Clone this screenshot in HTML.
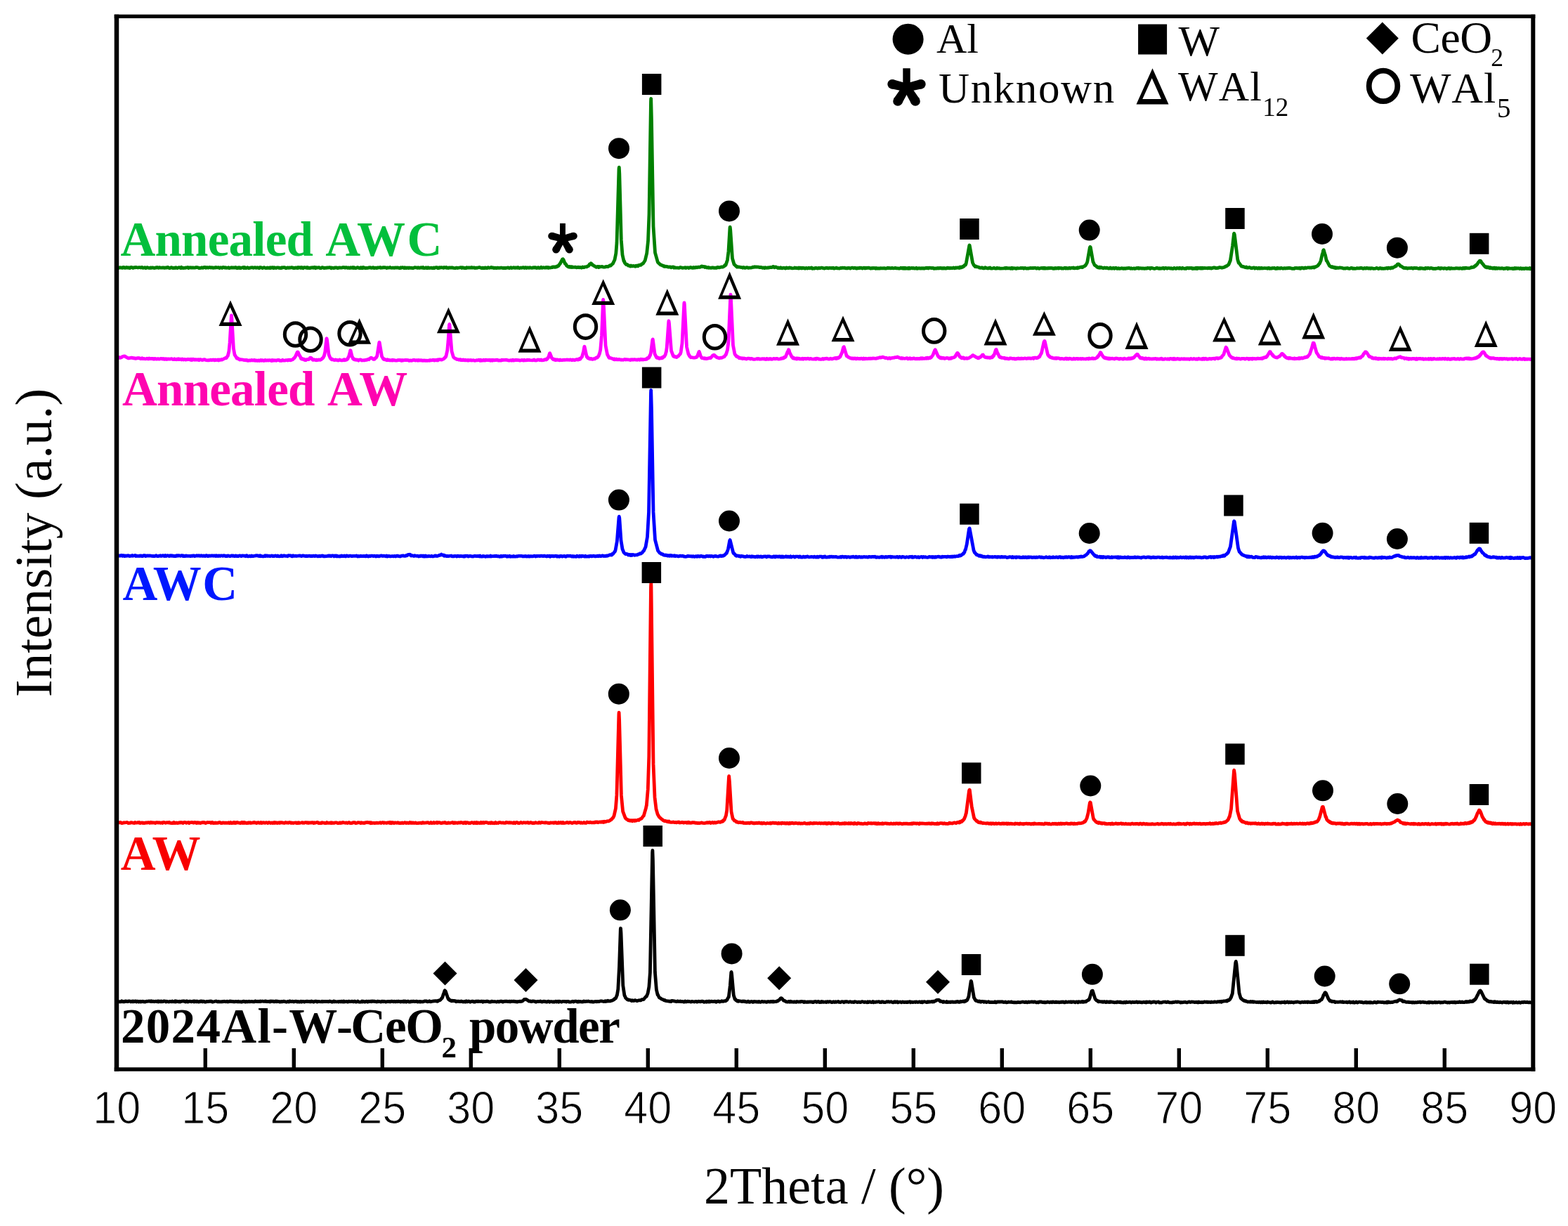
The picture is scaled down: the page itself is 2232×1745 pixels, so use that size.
<!DOCTYPE html>
<html><head><meta charset="utf-8"><title>XRD patterns</title>
<style>html,body{margin:0;padding:0;background:#fff;overflow:hidden;}svg{display:block;}text.nk{font-kerning:none;}</style>
</head><body>
<svg width="2232" height="1745" viewBox="0 0 2232 1745">
<rect width="2232" height="1745" fill="#fff"/>
<polyline fill="none" stroke="#008000" stroke-width="4.8" stroke-linejoin="round" points="167.3,380.6 168.3,381.4 169.3,381.3 170.3,380.7 171.3,381.0 172.3,380.9 174.3,381.3 175.3,380.5 176.3,380.4 177.3,381.4 178.3,380.9 179.3,381.3 180.3,380.4 182.3,381.3 183.3,380.7 184.3,381.5 185.3,381.5 186.3,380.4 187.3,380.4 189.3,381.5 190.3,380.9 191.3,380.7 192.3,380.9 193.3,380.4 196.3,381.0 197.3,380.7 199.3,380.7 200.3,381.0 202.3,380.4 203.3,381.4 204.3,381.1 205.3,381.2 206.3,380.6 207.3,381.6 208.3,381.4 209.3,380.6 211.3,381.3 212.3,381.3 213.3,381.5 214.3,380.9 215.3,381.4 217.3,380.8 219.3,381.5 220.3,381.4 221.3,381.0 222.3,381.1 223.3,380.5 224.3,380.7 225.3,381.4 227.3,380.6 228.3,381.1 230.3,381.2 231.3,380.9 233.3,381.0 234.3,381.4 236.3,380.9 237.3,381.0 238.3,380.5 239.3,380.5 240.3,381.3 241.3,381.6 244.3,380.6 246.3,381.6 248.3,381.1 249.3,381.5 250.3,380.7 252.3,381.6 253.3,381.1 255.3,380.7 257.3,381.6 258.3,380.4 259.3,381.4 261.3,381.5 262.3,381.3 263.3,381.4 264.3,381.0 266.3,380.9 267.3,380.5 268.3,381.5 270.3,380.7 271.3,381.0 274.3,380.8 277.3,381.2 278.3,381.0 279.3,380.5 280.3,380.7 281.3,380.6 283.3,381.5 286.3,381.4 287.3,380.7 288.3,381.4 289.3,381.2 290.3,380.5 292.3,380.5 293.3,381.3 294.3,380.7 295.3,380.6 296.3,381.2 298.3,380.5 299.3,380.6 300.3,381.1 301.3,380.6 302.3,380.8 303.3,381.3 305.3,380.8 306.3,381.0 307.3,380.5 308.3,380.9 309.3,380.9 311.3,380.6 312.3,381.5 314.3,380.7 316.3,381.4 317.3,380.5 319.3,380.6 320.3,381.3 321.3,380.6 322.3,381.3 324.3,381.1 325.3,380.7 326.3,381.6 329.3,380.7 330.3,381.2 331.3,380.9 332.3,381.1 333.3,380.8 334.3,381.2 335.3,380.5 336.3,380.8 337.3,381.6 338.3,381.5 339.3,380.8 340.3,381.5 341.3,380.8 342.3,381.6 346.3,380.5 347.3,381.5 348.3,380.5 349.3,381.4 350.3,381.6 352.3,380.7 353.3,381.5 354.3,381.6 357.3,380.9 359.3,380.7 360.3,381.3 363.3,380.6 364.3,381.3 365.3,380.8 366.3,381.1 367.3,380.8 368.3,381.5 369.3,381.5 370.3,380.5 372.3,380.9 373.3,381.6 374.3,381.4 375.3,380.9 376.3,380.7 377.3,381.3 379.3,381.6 380.3,380.9 381.3,381.5 383.3,381.0 384.3,381.6 385.3,380.7 386.3,381.3 387.3,380.6 388.3,380.7 389.3,381.6 390.3,380.7 391.3,381.4 392.3,381.2 393.3,381.5 394.3,380.9 396.3,380.8 397.3,381.5 398.3,381.2 399.3,381.6 400.3,381.5 401.3,380.6 402.3,381.1 403.3,380.6 405.3,380.6 406.3,381.5 408.3,381.5 409.3,380.9 411.3,381.4 412.3,380.9 413.3,381.2 415.3,380.6 416.3,380.8 417.3,381.5 418.3,381.1 419.3,381.6 420.3,381.0 421.3,380.8 422.3,381.4 423.3,381.5 424.3,380.5 425.3,381.3 426.3,380.6 427.3,380.6 428.3,381.5 429.3,380.5 430.3,380.8 431.3,381.7 432.3,381.0 433.3,380.6 435.3,380.8 436.3,381.4 437.3,380.6 438.3,381.6 439.3,380.9 440.3,381.6 441.3,381.6 442.3,380.8 443.3,380.8 444.3,381.1 445.3,380.6 446.3,381.3 447.3,380.5 448.3,380.5 449.3,381.7 450.3,380.8 451.3,381.2 454.3,380.6 455.3,381.6 457.3,381.6 458.3,380.6 459.3,380.7 461.3,381.7 462.3,381.1 464.3,381.3 465.3,380.8 466.3,381.1 469.3,380.6 470.3,380.8 471.3,381.7 472.3,381.0 473.3,381.3 474.3,381.3 475.3,381.6 476.3,381.0 479.3,380.9 480.3,381.5 481.3,381.6 482.3,380.9 486.3,381.2 488.3,380.5 489.3,380.8 490.3,380.6 491.3,381.2 492.3,380.6 493.3,380.6 494.3,381.3 495.3,380.8 496.3,381.4 497.3,381.1 498.3,381.5 499.3,380.7 501.3,381.4 502.3,380.6 503.3,381.6 504.3,380.7 505.3,381.4 506.3,381.7 507.3,381.5 508.3,380.9 509.3,380.6 511.3,381.6 512.3,381.6 513.3,380.8 514.3,381.6 515.3,380.7 516.3,381.6 517.3,380.5 518.3,380.9 519.3,381.6 520.3,381.5 524.3,381.3 525.3,380.7 526.3,381.0 527.3,380.7 528.3,381.4 529.3,381.3 530.3,380.8 531.3,380.6 532.3,381.7 534.3,381.2 535.3,381.2 536.3,381.5 537.3,381.0 540.3,380.8 541.3,380.5 542.3,381.3 543.3,381.0 544.3,381.2 545.3,380.6 546.3,380.9 547.3,380.7 549.3,380.8 550.3,381.5 551.3,381.0 552.3,381.0 553.3,381.2 555.3,380.5 556.3,381.1 558.3,381.3 559.3,381.0 560.3,381.3 561.3,381.4 562.3,380.8 563.3,381.1 564.3,381.1 565.3,380.8 567.3,381.2 568.3,381.6 569.3,381.6 570.3,380.8 571.3,381.3 572.3,380.6 573.3,380.6 575.3,381.6 576.3,380.7 577.3,381.4 578.3,381.6 579.3,380.9 580.3,381.3 581.3,381.5 582.3,381.0 583.3,381.4 585.3,381.2 586.3,381.5 588.3,381.7 590.3,380.7 592.3,380.8 594.3,381.4 595.3,380.6 596.3,381.3 597.3,381.4 598.3,380.9 599.3,381.1 600.3,380.7 601.3,381.4 602.3,380.6 603.3,381.7 605.3,381.3 606.3,380.8 607.3,381.6 608.3,381.7 609.3,380.7 610.3,381.4 611.3,381.5 612.3,381.3 613.3,381.4 614.3,381.1 615.3,381.6 616.3,381.7 617.3,381.0 618.3,381.5 620.3,380.7 621.3,380.9 622.3,380.7 623.3,381.6 624.3,381.7 625.3,380.7 626.3,381.2 628.3,380.7 629.3,380.9 630.3,380.8 631.3,381.4 632.3,380.5 634.3,381.0 635.3,380.5 636.3,381.3 637.3,381.2 638.3,381.5 639.3,380.8 641.3,381.2 642.3,380.9 643.3,381.2 644.3,380.8 645.3,381.3 648.3,381.7 649.3,381.2 650.3,381.1 651.3,381.5 656.3,380.7 657.3,381.5 658.3,380.7 659.3,381.4 660.3,381.2 661.3,381.7 662.3,381.4 663.3,381.7 664.3,380.7 665.3,381.1 666.3,381.2 667.3,380.9 668.3,381.1 669.3,381.0 670.3,381.2 671.3,380.5 672.3,381.1 674.3,380.9 675.3,381.0 676.3,381.5 678.3,381.1 679.3,381.3 682.3,380.5 685.3,381.6 686.3,381.5 687.3,381.1 688.3,381.7 689.3,381.1 690.3,381.5 691.3,381.0 693.3,381.7 694.3,380.9 695.3,380.7 696.3,381.3 698.3,381.0 699.3,380.5 700.3,381.0 702.3,381.0 703.3,381.6 704.3,381.2 706.3,381.6 708.3,381.1 709.3,381.4 712.3,381.3 713.3,381.0 714.3,381.3 715.3,381.3 716.3,381.6 717.3,381.4 720.3,381.5 723.3,380.8 724.3,381.4 725.3,381.6 727.3,380.7 728.3,381.5 729.3,381.1 730.3,381.1 731.3,380.6 732.3,381.1 733.3,381.4 734.3,381.0 735.3,380.9 736.3,381.3 737.3,380.5 739.3,381.6 741.3,381.0 742.3,381.3 743.3,381.2 744.3,380.7 745.3,380.7 746.3,381.5 747.3,380.8 748.3,380.6 749.3,381.5 751.3,380.9 753.3,381.3 754.3,380.7 755.3,381.2 757.3,381.4 758.3,380.8 759.3,381.2 760.3,380.7 761.3,381.1 762.3,380.6 763.3,381.4 764.3,381.5 765.3,380.8 766.3,380.7 767.3,381.5 768.3,381.2 769.3,381.4 770.3,380.4 771.3,381.4 773.3,380.7 774.3,380.8 775.3,381.2 776.3,381.2 777.3,380.5 778.3,381.0 779.3,380.4 780.3,381.4 781.3,380.7 782.3,381.2 784.2,380.9 785.2,380.7 785.3,380.3 786.2,380.2 786.3,380.5 787.2,380.4 787.3,380.0 789.2,379.8 789.3,380.4 790.2,380.3 790.3,379.8 791.2,379.7 791.3,380.1 792.2,379.9 792.3,379.2 793.2,378.9 793.3,379.4 795.2,378.2 795.3,377.7 796.2,376.7 797.2,375.1 797.3,375.4 799.2,371.6 800.5,369.1 801.3,368.8 802.2,370.0 804.2,375.1 804.3,374.4 805.2,375.9 805.3,375.8 806.2,376.9 806.3,377.8 808.2,379.3 809.2,379.9 809.3,379.5 810.2,379.8 810.3,379.4 811.2,379.7 811.3,380.3 812.2,380.4 812.3,379.6 813.2,379.7 813.3,380.4 814.2,380.5 814.3,379.8 815.2,379.8 815.3,380.2 817.2,380.4 818.2,380.3 818.3,380.1 819.3,380.2 820.3,380.9 821.3,380.5 822.3,380.7 823.3,380.2 824.3,380.8 825.3,380.3 827.3,381.0 828.3,381.0 829.3,379.9 830.3,380.7 831.3,380.7 832.3,379.9 835.3,379.9 836.3,378.8 837.3,378.7 838.3,377.7 839.3,376.0 840.3,376.1 841.3,374.8 842.3,375.6 843.3,377.1 844.3,377.3 845.3,378.4 846.3,378.6 848.3,380.1 849.3,380.3 850.3,379.4 851.3,379.5 852.3,380.5 853.3,379.5 854.3,379.8 857.3,379.4 858.3,380.1 861.3,380.1 863.3,379.3 865.3,379.7 868.3,377.7 869.3,378.2 872.0,375.4 872.3,375.4 875.0,369.8 876.8,360.6 878.0,345.8 881.0,240.3 881.3,238.2 881.8,247.3 884.3,341.4 886.0,362.8 888.0,371.6 888.3,371.3 889.0,372.8 889.3,374.2 891.3,376.5 892.3,376.2 893.3,376.8 894.3,378.1 896.3,378.2 897.3,379.1 898.3,378.1 899.3,378.8 900.3,378.8 901.3,378.4 904.3,379.3 905.3,378.2 906.3,378.7 907.3,378.0 908.3,378.7 909.3,377.6 910.3,377.2 912.3,377.3 914.3,375.3 915.3,375.3 918.2,370.8 920.7,360.5 922.5,343.3 924.0,304.8 926.5,144.4 926.7,140.4 927.5,171.7 930.0,322.1 932.5,359.7 936.3,373.2 940.3,377.0 941.3,377.0 943.3,378.4 944.3,378.1 945.3,379.3 947.3,379.1 950.3,379.6 951.3,380.2 952.3,380.0 953.3,380.1 954.3,379.8 955.3,380.8 956.3,380.1 957.3,380.2 958.3,379.9 959.3,381.1 960.3,380.5 961.3,381.1 963.3,381.2 964.3,381.1 966.3,381.3 967.3,381.1 968.3,380.4 969.3,380.8 970.3,380.9 971.3,381.4 973.3,381.1 974.3,381.2 975.3,380.7 976.3,381.5 978.3,380.8 979.3,380.9 980.3,381.5 982.3,380.6 983.3,380.5 984.3,381.2 985.3,381.0 986.3,381.4 987.3,380.5 989.3,381.2 990.3,380.3 991.3,380.3 992.3,380.8 994.3,380.1 996.3,380.3 997.3,379.9 998.3,379.1 999.3,378.9 1000.3,379.7 1002.3,379.4 1003.3,380.5 1004.3,379.7 1006.3,381.0 1007.3,380.9 1008.3,380.5 1009.3,381.3 1010.3,381.0 1011.3,381.3 1012.3,381.3 1013.3,380.8 1014.3,381.1 1015.3,380.9 1016.3,381.4 1018.3,381.1 1020.3,381.3 1021.3,380.4 1022.3,380.3 1023.3,380.8 1024.3,380.8 1027.3,379.9 1028.3,380.2 1030.2,379.4 1031.2,378.6 1031.5,377.8 1032.2,377.1 1032.3,378.0 1033.2,376.9 1035.5,369.9 1037.0,357.7 1039.0,324.0 1039.2,323.1 1039.7,327.0 1042.5,367.8 1045.0,376.2 1048.2,379.1 1049.3,380.1 1050.3,379.7 1051.3,380.2 1052.3,380.0 1055.3,380.7 1056.3,380.7 1057.3,381.3 1058.3,380.4 1060.3,381.4 1063.3,380.7 1064.3,380.8 1065.3,381.4 1067.3,381.0 1068.3,381.2 1070.3,380.9 1071.3,380.2 1072.3,380.1 1073.3,380.3 1074.3,379.7 1075.3,380.1 1077.3,379.9 1078.3,380.2 1079.3,380.0 1081.3,380.6 1082.3,380.3 1084.3,380.7 1085.3,381.4 1087.3,380.8 1088.3,381.6 1089.3,380.7 1091.3,381.3 1092.3,381.1 1093.3,380.8 1094.3,381.1 1095.3,380.6 1096.3,380.7 1097.3,380.3 1098.3,380.7 1099.3,380.3 1100.3,379.5 1101.3,379.6 1102.3,380.8 1103.3,380.1 1104.3,380.0 1106.3,380.9 1107.3,381.5 1108.3,381.0 1109.3,381.4 1110.3,381.6 1111.3,380.8 1113.3,381.9 1114.3,381.4 1116.3,381.2 1117.3,381.9 1118.3,382.0 1119.3,380.9 1120.3,381.5 1121.3,381.3 1122.3,381.6 1123.3,381.0 1126.3,381.4 1127.3,381.8 1130.3,381.7 1131.3,381.0 1133.3,381.7 1134.3,381.3 1136.3,382.0 1137.3,381.1 1138.3,381.9 1139.3,381.1 1140.3,381.4 1141.3,382.0 1142.3,381.2 1143.3,381.6 1144.3,381.4 1145.3,382.0 1146.3,382.1 1147.3,381.3 1149.3,382.0 1151.3,381.2 1152.3,381.9 1153.3,381.4 1154.3,381.5 1155.3,381.0 1156.3,382.2 1157.3,381.8 1158.3,382.1 1159.3,382.1 1160.3,381.3 1161.3,381.6 1162.3,381.5 1163.3,381.9 1164.3,382.0 1165.3,381.3 1166.3,381.3 1167.3,381.8 1169.3,381.1 1170.3,381.2 1171.3,381.7 1172.3,381.7 1173.3,382.2 1174.3,381.6 1175.3,381.7 1176.3,381.2 1177.3,381.5 1178.3,381.3 1179.3,381.8 1180.3,381.3 1181.3,381.3 1183.3,381.6 1184.3,381.4 1185.3,381.7 1186.3,381.2 1187.3,382.1 1189.3,381.7 1190.3,381.1 1192.3,381.9 1193.3,381.8 1195.3,382.1 1196.3,381.4 1197.3,381.6 1199.3,381.2 1201.3,381.3 1202.3,381.1 1203.3,381.7 1204.3,381.9 1205.3,381.7 1206.3,381.9 1207.3,381.3 1208.3,381.3 1210.3,382.1 1212.3,381.1 1213.3,381.1 1215.3,381.8 1216.3,381.2 1217.3,381.3 1219.3,382.2 1220.3,381.5 1221.3,381.8 1222.3,381.7 1223.3,381.1 1224.3,381.5 1225.3,381.2 1226.3,381.4 1227.3,382.0 1228.3,381.9 1229.3,381.1 1230.3,381.2 1231.3,382.0 1232.3,381.2 1233.3,381.5 1236.3,381.1 1238.3,381.6 1239.3,382.2 1241.3,381.4 1242.3,381.9 1243.3,381.4 1244.3,381.7 1245.3,381.5 1246.3,382.2 1247.3,381.5 1248.3,382.1 1249.3,381.9 1250.3,382.1 1251.3,381.8 1252.3,382.2 1253.3,381.6 1254.3,381.9 1259.3,381.6 1260.3,382.2 1262.3,381.8 1263.3,381.2 1264.3,381.7 1265.3,381.3 1268.3,381.8 1269.3,381.4 1270.3,381.4 1271.3,381.8 1273.3,381.6 1274.3,381.3 1276.3,381.9 1278.3,381.8 1279.3,382.1 1281.3,382.0 1282.3,381.2 1284.3,382.0 1285.3,381.3 1286.3,382.2 1287.3,381.3 1288.3,382.2 1289.3,381.4 1290.3,382.2 1291.3,382.2 1292.3,381.5 1293.3,382.2 1294.3,381.3 1295.3,382.2 1296.3,381.6 1297.3,381.7 1298.3,381.3 1299.3,381.9 1300.3,381.5 1301.3,381.9 1302.3,382.1 1303.3,381.9 1304.3,381.2 1305.3,382.3 1306.3,382.2 1308.3,381.6 1310.3,382.2 1311.3,381.7 1312.3,382.1 1314.3,381.6 1315.3,382.3 1316.3,381.6 1317.3,381.9 1318.3,381.2 1319.3,381.7 1320.3,381.2 1321.3,382.0 1322.3,381.1 1325.3,381.3 1326.3,381.7 1328.3,381.4 1329.3,382.3 1331.3,381.9 1333.3,382.1 1334.3,381.4 1335.3,382.1 1336.3,381.4 1337.3,381.8 1339.3,381.3 1340.3,382.0 1341.3,382.2 1342.3,381.4 1343.3,382.1 1344.3,381.5 1346.3,382.2 1347.3,381.9 1348.3,381.1 1349.3,381.5 1351.3,381.3 1352.3,381.9 1353.3,381.4 1354.3,381.7 1356.3,381.5 1357.3,380.9 1358.3,381.6 1359.3,381.8 1360.3,380.9 1361.3,381.4 1363.3,380.9 1365.3,381.5 1366.3,380.2 1367.2,380.0 1367.3,381.1 1368.2,380.9 1368.3,380.3 1369.2,380.0 1369.3,380.5 1370.2,380.2 1370.3,379.4 1371.2,379.0 1371.3,379.6 1372.2,379.0 1372.3,378.2 1373.2,377.4 1373.3,377.6 1374.2,376.4 1374.3,377.1 1375.2,375.2 1379.8,349.3 1380.0,349.0 1380.2,349.3 1384.5,374.0 1386.2,377.4 1388.2,379.5 1388.3,378.7 1389.2,379.2 1389.3,379.5 1390.2,379.8 1390.3,379.5 1393.3,380.3 1394.3,381.2 1395.3,381.2 1396.3,381.4 1397.3,380.9 1398.3,380.8 1399.3,381.9 1400.3,381.7 1401.3,381.9 1402.3,380.8 1404.3,381.6 1406.3,382.0 1407.3,381.6 1408.3,381.4 1409.3,381.0 1410.3,382.0 1411.3,382.2 1413.3,381.8 1414.3,381.5 1415.3,381.4 1416.3,382.0 1418.3,382.2 1419.3,381.3 1420.3,381.8 1422.3,381.6 1423.3,382.1 1424.3,382.2 1429.3,381.8 1430.3,381.4 1431.3,382.1 1432.3,381.3 1433.3,381.9 1434.3,381.6 1436.3,381.9 1437.3,381.7 1438.3,382.3 1439.3,381.5 1440.3,381.2 1441.3,382.3 1442.3,381.6 1445.3,381.9 1446.3,382.4 1448.3,381.6 1449.3,381.8 1452.3,381.7 1453.3,381.4 1454.3,381.7 1456.3,381.4 1457.3,382.2 1458.3,381.6 1459.3,381.4 1461.3,382.2 1463.3,381.9 1464.3,382.1 1466.3,381.4 1468.3,381.6 1469.3,381.5 1470.3,381.8 1471.3,381.4 1474.3,381.4 1475.3,382.2 1477.3,381.4 1479.3,382.3 1480.3,381.9 1483.3,381.4 1484.3,382.0 1485.3,381.3 1486.3,382.1 1487.3,381.3 1488.3,382.1 1489.3,381.7 1490.3,382.0 1491.3,381.9 1492.3,381.3 1493.3,381.8 1494.3,381.3 1496.3,381.6 1497.3,381.5 1499.3,382.4 1500.3,381.6 1501.3,382.2 1502.3,381.4 1503.3,382.0 1504.3,381.6 1505.3,381.8 1506.3,381.3 1507.3,382.1 1508.3,381.4 1509.3,381.7 1510.3,381.5 1511.3,382.1 1512.3,381.8 1514.3,382.0 1515.3,381.4 1516.3,381.2 1517.3,382.1 1518.3,381.5 1519.3,382.0 1520.3,382.2 1522.3,381.1 1523.3,382.0 1525.3,381.3 1526.3,381.2 1527.3,381.5 1528.3,381.0 1529.3,381.9 1530.3,381.7 1531.3,381.7 1532.3,381.2 1533.3,381.8 1534.3,380.7 1535.3,381.3 1537.3,380.3 1540.0,380.0 1540.3,380.6 1541.0,380.4 1541.3,379.9 1544.0,378.7 1545.0,377.4 1545.3,377.6 1547.3,374.1 1548.0,371.5 1551.3,352.3 1551.8,351.4 1552.3,351.9 1556.0,373.2 1556.3,373.1 1558.0,377.1 1559.0,378.1 1559.3,377.9 1561.0,379.2 1561.3,380.0 1562.0,380.3 1562.3,380.1 1563.0,380.3 1563.3,380.8 1565.0,381.2 1565.3,380.2 1565.8,380.3 1566.3,381.1 1567.3,380.5 1568.3,381.0 1569.3,381.1 1570.3,381.8 1572.3,381.0 1573.3,381.4 1574.3,381.5 1575.3,381.1 1576.3,381.4 1577.3,382.0 1578.3,382.2 1579.3,381.9 1580.3,381.1 1581.3,382.1 1582.3,381.6 1583.3,382.1 1584.3,381.3 1585.3,381.3 1586.3,382.2 1587.3,381.5 1588.3,381.2 1590.3,382.3 1591.3,382.2 1592.3,381.6 1593.3,382.4 1594.3,382.1 1595.3,382.2 1597.3,381.7 1598.3,382.3 1599.3,381.8 1600.3,382.3 1601.3,381.9 1602.3,382.3 1603.3,381.8 1604.3,381.7 1605.3,381.9 1607.3,381.4 1609.3,382.3 1610.3,381.6 1611.3,382.3 1613.3,382.2 1614.3,381.8 1615.3,382.5 1617.3,381.9 1618.3,381.4 1619.3,381.9 1620.3,381.3 1621.3,382.3 1622.3,381.7 1625.3,382.0 1627.3,381.9 1629.3,382.3 1630.3,381.8 1631.3,381.9 1632.3,382.2 1633.3,381.3 1635.3,381.7 1636.3,381.5 1637.3,382.4 1638.3,381.5 1639.3,381.4 1643.3,382.5 1645.3,382.0 1646.3,381.3 1647.3,381.4 1648.3,382.0 1649.3,382.3 1650.3,381.6 1651.3,382.4 1652.3,381.9 1654.3,382.0 1655.3,381.4 1656.3,381.5 1657.3,382.4 1658.3,381.6 1659.3,381.4 1660.3,381.6 1661.3,382.2 1662.3,381.6 1664.3,381.6 1666.3,382.2 1667.3,381.6 1668.3,382.3 1669.3,382.5 1670.3,382.3 1671.3,381.4 1672.3,381.7 1673.3,382.4 1674.3,382.3 1675.3,381.4 1676.3,381.8 1677.3,381.7 1678.3,382.2 1679.3,381.3 1681.3,382.2 1682.3,382.3 1683.3,381.3 1684.3,382.0 1686.3,382.3 1687.3,381.8 1688.3,382.4 1689.3,381.5 1691.3,381.4 1692.3,382.0 1693.3,381.4 1694.3,381.6 1696.3,381.3 1697.3,382.4 1698.3,381.6 1699.3,382.4 1700.3,382.1 1701.3,381.5 1702.3,382.3 1703.3,381.2 1704.3,382.4 1705.3,381.2 1707.3,381.9 1708.3,381.2 1709.3,382.1 1710.3,381.3 1711.3,382.1 1712.3,381.2 1713.3,381.8 1714.3,381.4 1716.3,381.7 1718.3,381.6 1719.3,381.9 1720.3,381.3 1721.3,381.3 1722.3,381.8 1723.3,381.4 1724.3,382.1 1725.3,381.5 1726.3,381.5 1727.3,380.9 1729.3,381.0 1730.3,381.5 1731.3,381.5 1732.3,381.8 1733.3,381.1 1734.3,381.4 1736.3,380.5 1738.3,381.0 1740.3,381.0 1742.2,380.5 1746.2,378.5 1746.3,378.7 1748.2,377.0 1748.3,377.2 1749.2,376.0 1751.2,371.0 1751.3,371.1 1754.5,350.0 1756.5,332.6 1756.7,332.3 1757.3,333.8 1761.7,369.2 1763.2,374.2 1763.3,373.7 1767.2,379.0 1767.3,378.8 1769.2,379.6 1769.3,379.4 1771.2,380.0 1771.7,380.4 1772.3,380.2 1773.3,380.9 1774.3,380.1 1775.3,381.1 1776.3,381.2 1778.3,380.5 1781.3,381.7 1782.3,381.8 1783.3,381.1 1785.3,381.0 1786.3,382.1 1788.3,381.1 1789.3,381.8 1790.3,382.2 1792.3,381.3 1793.3,382.2 1794.3,381.9 1795.3,381.3 1796.3,382.0 1797.3,381.7 1798.3,381.8 1800.3,381.5 1802.3,381.8 1803.3,381.7 1804.3,382.2 1805.3,381.3 1806.3,381.4 1807.3,382.3 1808.3,381.9 1810.3,382.0 1811.3,381.5 1812.3,381.7 1814.3,381.4 1815.3,382.4 1816.3,382.1 1817.3,382.3 1818.3,381.2 1819.3,382.1 1820.3,381.6 1822.3,382.1 1823.3,381.3 1826.3,382.3 1828.3,381.6 1829.3,382.0 1830.3,381.9 1831.3,381.6 1832.3,381.9 1834.3,381.3 1835.3,381.6 1836.3,381.3 1837.3,381.8 1838.3,381.8 1839.3,382.3 1841.3,382.1 1842.3,382.4 1843.3,381.5 1844.3,381.6 1846.3,381.3 1847.3,381.8 1848.3,381.8 1849.3,381.3 1850.3,382.2 1851.3,382.3 1852.3,381.2 1854.3,381.1 1855.3,381.9 1856.3,382.0 1857.3,381.1 1858.3,381.0 1859.3,381.6 1861.3,380.9 1862.3,380.8 1863.3,381.0 1866.2,380.8 1866.3,381.1 1867.2,381.1 1867.5,380.7 1870.2,380.2 1870.3,381.0 1871.2,380.8 1871.3,380.0 1872.2,379.7 1872.3,380.1 1874.2,379.2 1876.2,377.8 1877.2,376.3 1878.2,375.1 1878.3,375.4 1880.2,370.8 1882.2,361.8 1882.3,362.2 1883.2,358.5 1883.5,356.8 1884.0,355.9 1884.2,355.7 1886.2,362.7 1886.3,362.3 1887.2,366.3 1888.2,370.9 1888.3,370.4 1892.5,378.3 1893.2,378.8 1894.2,379.2 1894.5,379.8 1895.2,380.1 1896.2,380.3 1896.3,379.6 1898.2,380.2 1898.3,380.9 1899.2,381.0 1899.3,380.3 1900.2,380.4 1900.3,381.4 1901.2,381.6 1902.2,381.5 1902.3,380.8 1905.3,381.3 1907.3,380.9 1908.3,381.2 1909.3,381.2 1911.3,381.6 1912.3,382.1 1914.3,381.8 1915.3,382.2 1916.3,381.6 1917.3,381.7 1918.3,381.5 1919.3,382.2 1921.3,382.3 1923.3,381.4 1924.3,381.3 1925.3,382.2 1926.3,382.3 1927.3,381.9 1928.3,382.4 1930.3,382.2 1931.3,381.7 1935.3,381.9 1936.3,381.3 1938.3,381.5 1940.3,382.4 1941.3,382.2 1942.3,381.5 1944.3,382.1 1945.3,381.5 1946.3,381.4 1947.3,382.1 1948.3,381.6 1949.3,382.1 1950.3,381.6 1951.3,382.4 1952.3,381.7 1954.3,382.0 1955.3,382.4 1958.3,382.2 1959.3,381.4 1960.3,381.6 1962.3,382.5 1963.3,382.2 1964.3,381.5 1965.3,381.7 1966.3,382.4 1967.3,381.9 1968.3,382.3 1972.3,382.0 1974.3,381.3 1975.3,382.2 1976.3,381.1 1979.3,382.0 1980.3,381.0 1981.3,380.9 1982.3,381.4 1983.3,380.5 1984.3,380.2 1985.3,379.6 1986.3,378.6 1987.3,378.9 1989.3,376.0 1990.3,375.8 1991.3,376.2 1992.3,377.2 1993.3,378.8 1994.3,378.7 1998.3,381.5 1999.3,381.2 2000.3,381.8 2001.3,381.5 2002.3,381.5 2003.3,382.1 2005.3,381.7 2008.3,381.7 2009.3,381.3 2010.3,381.5 2011.3,382.2 2012.3,381.5 2014.3,381.5 2015.3,381.8 2016.3,381.4 2018.3,382.1 2020.3,382.4 2021.3,381.5 2022.3,382.2 2023.3,381.6 2026.3,382.4 2027.3,382.2 2028.3,382.6 2029.3,381.4 2031.3,382.0 2032.3,381.5 2033.3,381.5 2035.3,382.1 2036.3,381.6 2037.3,381.5 2039.3,382.3 2040.3,382.1 2041.3,382.6 2042.3,382.2 2043.3,382.5 2044.3,382.1 2046.3,381.9 2047.3,381.5 2048.3,381.5 2049.3,382.2 2050.3,382.5 2051.3,381.5 2053.3,381.8 2054.3,381.8 2055.3,382.4 2056.3,381.7 2058.3,382.0 2059.3,382.6 2060.3,381.8 2061.3,382.2 2062.3,381.5 2064.3,382.5 2065.3,381.7 2067.3,382.2 2071.3,382.2 2072.3,381.7 2076.3,382.0 2077.3,382.3 2078.3,381.7 2079.3,381.8 2080.3,382.2 2081.3,382.4 2082.3,381.5 2083.3,382.0 2084.1,382.0 2084.3,381.4 2085.1,381.4 2085.3,382.0 2086.1,381.9 2086.3,381.1 2087.1,381.1 2087.3,381.6 2089.1,381.6 2090.1,381.7 2091.1,381.8 2092.1,381.6 2094.1,380.9 2094.3,380.3 2095.1,380.2 2095.3,380.8 2097.1,380.3 2098.1,380.1 2098.3,379.3 2099.1,378.9 2099.3,379.2 2100.1,378.7 2100.3,377.9 2101.1,377.2 2101.3,377.7 2103.1,375.7 2104.1,373.7 2106.1,371.7 2106.3,371.1 2107.1,371.2 2107.3,371.1 2108.1,371.9 2108.3,373.0 2109.1,374.1 2109.3,374.0 2110.1,375.1 2111.1,376.2 2112.1,377.7 2114.1,379.8 2114.3,379.5 2115.1,379.9 2115.3,380.5 2116.1,380.8 2116.3,379.9 2117.1,380.1 2117.3,380.6 2118.1,380.8 2118.3,380.2 2119.1,380.4 2120.1,380.8 2120.3,381.6 2121.1,381.7 2121.3,380.7 2122.1,380.8 2122.3,381.6 2123.1,381.6 2124.1,381.5 2124.3,382.1 2126.1,382.2 2126.3,381.2 2127.1,381.2 2128.1,381.4 2128.3,382.3 2129.1,382.4 2129.3,381.6 2130.3,381.4 2131.3,382.3 2133.3,381.6 2134.3,382.0 2137.3,382.0 2138.3,381.6 2140.3,382.5 2141.3,382.1 2142.3,382.4 2143.3,381.8 2145.3,381.4 2146.3,382.6 2147.3,381.6 2149.3,382.2 2151.3,382.2 2152.3,382.0 2153.3,382.5 2154.3,382.0 2155.3,382.5 2156.3,381.6 2157.3,382.4 2158.3,381.6 2159.3,382.0 2160.3,382.0 2161.3,381.7 2163.3,382.5 2164.3,381.6 2165.3,381.8 2166.3,382.7 2167.3,382.1 2168.3,382.0 2169.3,382.6 2170.3,382.5 2171.3,381.7 2172.3,382.3 2173.3,381.8 2174.3,382.5 2175.3,382.2 2176.3,382.5 2177.3,381.6 2178.3,382.7 2179.3,381.8 2180.3,382.6 2181.3,382.1"/>
<polyline fill="none" stroke="#ff00ff" stroke-width="4.8" stroke-linejoin="round" points="167.3,509.8 168.3,509.8 169.3,508.6 170.3,508.6 171.3,509.3 173.3,508.5 174.3,507.5 176.3,507.0 178.3,507.2 179.3,508.1 180.3,508.6 182.3,509.8 183.3,509.9 184.3,509.6 187.3,509.2 188.3,509.2 189.3,509.8 190.3,509.6 191.3,509.7 192.3,510.4 193.3,510.0 194.3,510.1 196.3,509.5 197.3,509.8 198.3,509.6 200.3,510.7 202.3,509.8 203.3,510.7 205.3,510.5 206.3,510.8 208.3,510.7 209.3,510.2 210.3,510.9 211.3,510.9 212.3,510.0 213.3,510.7 214.3,510.7 215.3,510.4 217.3,510.5 218.3,511.0 219.3,510.5 220.3,511.0 221.3,510.4 222.3,511.1 223.3,511.1 224.3,510.6 225.3,510.7 226.3,511.2 229.3,510.4 230.3,510.6 231.3,511.0 232.3,510.4 233.3,511.3 234.3,510.6 235.3,511.4 236.3,510.7 237.3,511.5 239.3,510.9 242.3,511.1 244.3,510.7 246.3,511.7 247.3,511.3 248.3,510.7 249.3,511.6 250.3,511.5 251.3,511.8 252.3,510.9 253.3,511.6 254.3,510.8 255.3,511.6 256.3,511.1 257.3,511.1 258.3,511.9 259.3,511.0 261.3,512.0 262.3,511.3 263.3,511.3 264.3,512.1 265.3,511.6 266.3,511.9 267.3,511.2 268.3,511.6 269.3,511.4 270.3,512.0 271.3,511.3 272.3,512.4 273.3,511.3 274.3,512.2 275.3,511.3 276.3,511.7 277.3,512.4 278.3,511.6 279.3,511.6 280.3,512.3 282.3,511.6 283.3,512.7 284.3,511.7 285.3,511.6 287.3,512.4 288.3,512.5 289.3,511.8 290.3,512.1 291.3,511.7 293.3,512.7 295.3,512.9 296.3,512.7 297.3,512.9 300.3,512.1 301.3,512.7 303.3,512.0 305.3,512.9 306.3,512.0 307.3,512.6 308.3,512.3 309.3,512.5 310.3,512.0 311.3,512.9 312.3,512.0 313.3,512.4 314.3,512.1 315.3,511.5 316.3,512.0 317.3,511.3 322.1,509.0 322.3,509.5 324.1,506.4 324.3,506.6 325.9,499.9 327.1,487.4 329.4,448.9 329.9,452.9 332.4,495.8 334.1,505.3 334.3,505.2 337.1,509.9 337.3,509.4 338.9,510.4 339.3,511.0 340.3,511.0 341.3,512.0 342.3,511.7 346.3,512.2 347.3,512.6 349.3,512.5 350.3,512.9 351.3,512.4 352.3,513.3 353.3,513.4 355.3,512.8 357.3,513.0 358.3,512.4 359.3,512.9 360.3,513.0 361.3,512.6 362.3,512.5 363.3,513.4 364.3,512.9 365.3,513.1 366.3,513.5 368.3,512.8 369.3,513.6 370.3,512.9 371.3,512.5 372.3,513.3 373.3,512.6 374.3,512.8 375.3,513.5 376.3,513.3 377.3,512.5 378.3,513.0 380.3,513.0 381.3,512.7 382.3,513.2 383.3,512.6 385.3,512.9 386.3,513.6 387.3,512.5 388.3,513.4 389.3,512.7 390.3,513.1 391.3,512.9 392.3,513.0 393.3,513.3 395.3,512.5 397.3,512.5 398.3,513.4 399.3,513.1 400.3,513.5 401.3,513.2 402.3,512.3 403.3,513.1 405.3,513.1 407.3,512.6 409.2,512.6 409.3,513.0 410.2,512.9 410.3,512.3 411.2,512.2 411.3,512.5 413.2,512.2 413.3,512.8 414.2,512.6 415.2,512.2 417.2,511.5 417.4,510.7 419.2,509.1 419.3,509.2 420.2,507.9 423.2,501.3 423.3,501.5 423.7,501.2 424.2,501.6 424.3,501.3 426.2,506.1 426.3,505.5 428.2,509.1 428.4,510.2 429.2,510.9 429.3,509.9 430.2,510.5 431.2,511.3 431.3,510.9 433.2,511.4 433.3,512.3 435.2,512.6 435.3,512.2 436.2,512.2 436.3,511.6 437.2,511.6 438.7,511.4 439.3,511.6 440.3,510.8 441.3,509.4 442.3,509.1 443.3,509.7 444.3,511.2 445.3,512.3 446.3,512.4 447.3,511.7 448.3,512.3 449.3,512.6 450.3,512.0 451.3,512.8 452.3,512.2 453.3,512.4 454.3,511.9 455.5,512.4 456.2,512.2 456.3,512.0 457.2,511.7 458.2,510.9 458.3,510.4 459.2,509.7 459.3,510.0 460.2,508.9 461.2,506.4 461.3,506.9 462.8,500.5 464.8,482.2 465.0,481.7 465.5,483.6 468.0,504.5 470.2,509.9 470.3,509.7 471.2,510.5 471.3,511.1 472.2,511.7 472.3,510.9 473.2,511.3 473.3,511.8 476.3,512.6 477.3,511.9 478.3,512.5 479.3,512.3 481.3,513.1 482.3,512.7 483.3,512.0 485.3,512.8 486.3,513.0 487.3,512.7 488.3,512.8 489.3,511.8 490.1,511.7 490.3,512.8 491.1,512.7 493.1,511.8 493.3,512.0 495.1,510.7 495.3,509.4 496.1,508.1 496.3,508.3 498.1,501.3 498.6,499.0 498.8,498.7 499.1,499.0 501.1,507.3 502.1,509.2 502.3,510.3 503.1,511.1 503.3,510.5 504.1,511.0 504.3,511.7 505.1,512.0 506.1,512.0 507.1,512.0 507.3,512.4 509.3,512.1 510.3,513.1 511.3,512.1 513.3,512.0 515.3,513.0 516.3,512.8 517.3,512.9 518.3,512.6 519.3,512.8 520.3,512.3 521.3,512.2 522.3,512.3 523.3,511.6 524.3,511.4 525.3,511.7 526.3,510.1 528.3,509.2 529.3,509.7 531.5,511.4 533.2,511.3 533.3,510.4 535.2,509.1 535.3,509.3 536.8,506.5 539.8,487.6 540.0,487.2 540.2,487.6 543.5,507.2 545.2,510.1 545.3,510.7 546.2,511.4 546.3,510.7 547.2,511.2 547.3,511.6 548.2,511.9 548.3,511.7 549.5,512.1 550.3,512.7 551.3,511.8 552.3,512.8 553.3,512.2 555.3,513.0 557.3,512.5 558.3,513.1 559.3,512.2 560.3,512.9 561.3,512.6 563.3,513.2 565.3,513.0 566.3,512.6 567.3,512.5 568.3,512.8 569.3,512.5 570.3,512.6 571.3,513.4 572.3,512.4 573.3,513.3 574.3,512.7 576.3,512.7 577.3,512.4 578.3,512.8 579.3,512.5 580.3,512.8 581.3,512.6 582.3,513.4 583.3,513.4 584.3,512.8 586.3,513.4 587.3,512.7 588.3,512.4 590.3,512.5 591.3,513.1 592.3,512.7 593.3,512.7 594.3,513.2 595.3,512.5 596.3,513.2 598.3,512.7 599.3,513.2 600.3,512.6 601.3,513.3 602.3,513.3 603.3,512.8 605.3,513.3 606.3,513.1 609.3,513.3 610.3,513.0 611.3,513.3 612.3,512.5 613.3,512.8 614.3,512.9 615.3,512.5 616.3,512.5 617.3,512.2 618.3,513.1 619.3,512.3 620.3,512.5 621.3,512.9 622.3,512.0 623.3,512.9 624.3,511.8 625.3,511.6 626.3,511.8 627.3,511.7 628.3,512.2 631.0,511.1 632.0,510.2 633.0,509.5 634.0,507.9 634.3,508.3 635.0,506.8 636.8,498.4 638.0,485.3 639.5,462.3 639.8,461.5 640.0,462.3 643.0,499.9 645.3,507.8 646.0,508.8 648.0,510.3 649.3,510.8 650.3,511.5 651.3,511.4 652.3,511.7 653.3,512.3 654.3,511.6 655.3,511.7 656.3,512.7 657.3,512.2 658.3,512.7 659.3,512.0 661.3,512.9 662.3,512.3 663.3,512.9 665.3,512.5 666.3,513.2 667.3,512.5 669.3,512.8 670.3,512.4 671.3,513.1 672.3,512.8 674.3,512.7 675.3,513.3 677.3,513.1 678.3,512.7 680.3,512.8 681.3,512.2 682.3,512.3 683.3,513.3 684.3,512.3 685.3,513.3 686.3,513.0 687.3,513.2 688.3,512.2 689.3,512.5 690.3,513.1 691.3,512.2 693.3,512.6 695.3,512.3 696.3,512.9 697.3,512.3 698.3,513.3 699.3,512.9 700.3,512.2 701.3,513.2 702.3,512.4 704.3,512.8 705.3,512.3 706.3,512.7 707.3,512.2 708.3,512.4 709.3,513.2 711.3,512.8 713.3,513.2 714.3,512.3 715.3,512.7 716.3,512.3 719.3,512.4 720.3,512.2 724.3,513.1 725.3,513.2 727.3,512.7 728.3,513.2 729.3,512.3 730.3,512.2 731.3,513.1 732.3,512.8 733.3,512.3 734.3,512.5 735.3,512.4 738.3,512.6 739.3,513.0 740.3,513.1 743.3,512.4 744.3,513.0 745.3,513.2 746.3,512.3 747.3,512.9 749.3,512.8 750.3,512.1 751.3,512.7 752.3,512.3 753.3,512.3 754.3,512.7 758.3,512.8 760.3,512.0 761.3,512.9 763.3,513.0 764.3,512.7 765.3,512.0 766.3,512.2 767.3,512.0 768.3,512.6 769.3,512.5 770.3,512.0 771.3,512.9 774.2,512.7 774.3,512.1 775.2,512.0 777.2,511.3 777.3,512.0 778.2,511.6 779.2,510.7 780.2,508.8 780.3,509.3 781.2,507.0 782.5,502.8 782.7,502.7 784.2,506.4 785.2,509.3 785.3,509.2 787.2,511.4 787.3,510.8 788.2,511.1 788.3,511.9 789.2,512.1 789.3,511.6 790.2,511.7 790.3,512.5 791.2,512.6 791.3,511.8 792.2,511.8 793.3,512.3 794.3,512.2 795.3,512.3 796.3,512.8 797.3,512.0 798.3,512.7 800.3,512.7 801.3,512.3 803.3,512.2 804.3,512.3 806.3,512.0 807.3,512.3 808.3,512.0 810.3,512.4 812.3,511.9 814.3,512.7 815.3,511.9 816.3,512.3 818.3,512.5 820.3,511.7 821.3,511.5 822.5,512.1 823.2,512.0 823.3,511.3 824.2,511.1 824.3,510.7 825.2,510.4 825.3,511.5 826.2,511.0 826.3,510.2 828.5,507.9 830.2,501.7 830.3,502.0 831.8,493.5 832.0,493.2 835.2,507.8 835.3,506.9 836.2,508.5 836.3,509.2 837.2,510.0 837.3,509.5 839.2,510.3 839.3,510.8 840.2,511.0 840.3,510.7 841.2,510.7 841.3,510.4 842.3,511.0 843.3,511.4 845.3,510.6 846.3,510.8 847.3,510.6 848.3,509.3 849.2,508.8 850.2,508.3 850.3,509.0 852.2,506.6 853.2,503.6 853.3,503.9 854.7,498.0 856.5,477.2 858.5,427.7 858.7,426.3 859.5,437.6 862.0,491.6 864.5,504.5 866.2,507.6 866.5,508.5 867.2,509.2 867.3,508.6 868.3,509.4 871.3,510.3 873.3,511.5 874.3,510.7 875.3,511.9 876.3,511.7 877.3,511.0 878.3,511.9 879.3,511.6 880.3,511.8 881.3,511.3 882.3,511.9 883.3,511.9 884.3,512.3 885.3,512.0 887.3,512.3 888.3,511.7 889.3,511.4 890.3,512.0 891.3,511.6 896.3,512.2 897.3,512.6 898.3,511.6 899.3,512.1 900.3,511.6 901.3,512.2 903.3,511.6 905.3,512.2 906.3,511.9 907.3,512.4 908.3,511.7 909.3,511.6 910.3,512.3 912.3,511.2 913.3,512.0 914.3,511.4 915.3,512.0 916.3,511.6 918.3,511.6 920.2,510.7 920.3,511.3 921.2,510.9 921.3,509.8 922.2,509.3 922.3,509.7 923.2,509.0 923.3,509.6 924.2,508.5 924.3,507.4 925.2,505.6 925.3,506.3 926.5,501.9 928.8,483.7 929.0,483.3 929.2,483.7 929.3,483.0 932.0,503.6 934.2,508.1 934.3,508.6 935.2,509.3 935.3,508.6 936.2,509.0 937.2,509.1 937.3,509.8 938.2,509.9 938.3,510.4 940.3,510.0 941.3,509.3 942.3,509.8 943.2,509.5 943.3,508.4 944.2,507.9 944.3,508.1 945.2,507.3 945.3,507.9 947.2,504.8 948.2,500.7 948.3,501.1 949.2,494.7 951.8,457.7 952.0,456.8 952.5,460.4 955.5,499.1 958.0,505.9 958.2,506.2 958.3,506.7 959.2,507.5 959.3,506.8 960.2,507.2 960.3,507.8 961.5,508.1 962.3,508.0 963.3,508.5 965.2,506.8 965.3,507.2 968.0,504.0 968.2,503.4 968.3,504.0 969.2,501.2 971.0,488.7 973.8,432.2 974.0,430.9 974.3,432.6 977.5,493.7 980.0,504.2 980.2,504.7 980.3,504.4 981.2,505.8 981.3,506.6 982.2,507.6 983.2,508.6 983.3,508.2 984.3,508.6 986.2,508.8 986.3,509.0 989.2,509.1 991.2,508.1 991.3,508.7 992.2,507.6 992.3,507.8 994.8,501.0 995.0,500.9 995.2,501.1 995.3,500.4 997.2,506.3 998.8,509.3 999.2,509.6 999.3,509.2 1002.2,510.2 1002.3,509.7 1003.2,509.8 1003.3,510.4 1004.2,510.4 1004.3,510.0 1005.3,510.6 1006.3,510.1 1007.3,510.3 1010.3,509.4 1011.3,509.6 1012.3,508.7 1014.3,506.2 1016.3,505.1 1017.3,505.8 1018.3,507.4 1019.3,507.4 1020.3,508.7 1021.3,509.1 1022.3,509.2 1023.3,509.9 1024.3,509.9 1025.3,509.2 1027.3,509.3 1028.3,509.0 1029.3,508.2 1031.2,507.6 1031.3,507.0 1032.2,506.1 1033.2,504.4 1033.3,505.0 1035.5,498.1 1037.0,485.6 1039.8,420.8 1040.0,419.2 1040.5,425.7 1043.5,491.4 1045.8,503.3 1046.2,504.5 1046.3,504.3 1048.2,507.1 1048.3,506.8 1049.2,507.6 1049.3,507.2 1050.3,508.3 1051.3,508.4 1052.3,509.7 1053.3,509.3 1055.3,510.2 1056.3,509.7 1057.3,510.6 1058.3,510.1 1059.3,509.9 1060.3,510.6 1061.3,510.4 1062.3,511.1 1064.3,510.2 1066.3,510.2 1067.3,510.7 1068.3,511.0 1069.3,510.3 1071.3,510.8 1072.3,511.3 1074.3,511.3 1076.3,511.0 1077.3,510.6 1078.3,511.0 1079.3,510.5 1080.3,510.7 1081.3,511.3 1082.3,511.0 1083.3,511.2 1085.3,510.7 1087.3,511.0 1088.3,510.6 1089.3,511.3 1090.3,511.5 1091.3,510.5 1092.3,510.6 1093.3,511.3 1094.3,511.2 1095.3,510.6 1096.3,511.0 1097.3,510.6 1098.3,511.3 1100.3,510.9 1101.3,510.4 1103.3,510.8 1105.3,510.4 1106.3,510.4 1107.3,510.9 1108.3,511.1 1110.2,510.9 1111.2,510.5 1112.2,510.6 1112.4,509.8 1114.2,509.6 1114.4,510.1 1115.2,509.9 1115.4,509.0 1117.2,508.1 1117.3,508.8 1118.2,508.0 1121.2,500.4 1121.3,500.5 1122.2,498.7 1122.4,497.6 1122.9,498.0 1123.2,498.6 1124.2,502.6 1124.3,502.4 1127.2,508.1 1127.3,507.8 1128.2,508.5 1128.4,509.6 1129.2,510.0 1129.4,509.1 1130.2,509.4 1130.4,510.2 1132.2,510.6 1132.4,510.2 1133.2,510.2 1133.4,510.9 1134.2,511.0 1134.4,509.9 1135.4,510.1 1136.3,510.5 1137.3,510.1 1138.3,511.0 1139.3,510.7 1140.3,511.0 1141.3,510.5 1142.3,510.2 1143.3,511.2 1144.3,510.4 1145.3,510.7 1146.3,510.3 1147.3,510.9 1150.3,510.2 1152.3,511.1 1153.3,510.4 1154.3,510.5 1155.3,510.9 1157.3,511.2 1158.3,511.0 1159.3,511.2 1160.3,510.4 1161.3,511.3 1162.3,510.2 1164.3,510.3 1165.3,511.1 1166.3,510.8 1167.3,511.3 1169.3,511.3 1171.3,510.5 1172.3,511.3 1173.3,511.0 1174.3,510.3 1175.3,510.7 1176.3,510.1 1177.3,510.1 1178.3,510.8 1180.3,511.0 1181.3,510.9 1182.3,510.1 1183.3,510.8 1184.3,511.0 1187.3,510.0 1188.2,509.9 1188.3,509.7 1189.2,509.5 1189.3,510.2 1190.2,510.1 1190.3,510.5 1191.2,510.3 1191.3,509.3 1192.2,509.1 1192.3,509.9 1194.2,509.2 1194.3,508.6 1195.2,507.9 1195.3,508.5 1196.2,507.5 1196.3,506.6 1198.5,502.1 1200.5,494.6 1201.0,494.0 1201.2,494.1 1201.3,493.7 1202.2,496.6 1205.2,506.7 1205.3,506.1 1207.2,508.2 1207.3,508.0 1209.2,509.0 1209.3,509.3 1211.2,509.7 1211.3,510.0 1212.2,510.1 1212.3,510.3 1213.2,510.4 1213.3,509.9 1214.0,509.9 1214.3,510.6 1217.3,509.9 1218.3,510.9 1219.3,510.6 1220.3,509.9 1221.3,510.6 1222.3,510.3 1223.3,510.4 1224.3,510.8 1225.3,510.1 1226.3,510.2 1228.3,511.0 1229.3,510.0 1230.3,510.9 1231.3,510.8 1232.3,510.1 1233.3,510.7 1235.3,510.7 1237.3,510.2 1238.3,510.5 1239.3,510.1 1240.3,510.4 1241.3,510.3 1242.3,509.9 1247.3,510.4 1248.3,509.7 1249.3,509.9 1252.3,508.6 1253.3,509.2 1255.3,508.7 1256.3,508.1 1258.3,508.7 1260.3,509.6 1261.3,509.2 1263.3,510.2 1264.3,510.4 1265.3,509.7 1266.3,509.5 1267.3,510.4 1268.3,509.9 1270.3,509.4 1273.3,509.0 1274.3,508.6 1276.3,508.7 1277.3,508.0 1279.3,508.8 1280.3,509.5 1281.3,509.7 1282.3,510.2 1283.3,509.4 1284.3,510.3 1285.3,509.8 1286.3,510.2 1288.3,510.3 1290.3,509.7 1291.3,509.7 1292.3,510.8 1293.3,510.7 1295.3,509.8 1296.3,510.7 1297.3,510.3 1299.3,510.5 1300.3,509.9 1301.3,509.9 1302.3,510.7 1303.3,510.6 1304.3,510.9 1305.3,510.2 1306.3,510.8 1307.3,510.7 1308.3,510.3 1309.3,510.7 1310.3,509.8 1311.3,509.7 1312.3,510.6 1313.3,509.7 1315.3,510.4 1316.3,510.3 1317.3,509.7 1318.2,509.6 1318.3,510.3 1319.2,510.2 1319.3,509.3 1320.2,509.2 1320.3,509.8 1321.2,509.7 1321.3,510.1 1322.2,509.9 1322.3,509.5 1323.2,509.3 1323.3,509.0 1324.2,508.7 1324.3,509.5 1325.2,509.0 1328.0,505.4 1329.2,502.1 1330.8,498.1 1331.2,498.1 1331.3,497.8 1335.2,506.8 1335.3,506.5 1336.2,507.5 1336.3,508.2 1337.2,508.8 1337.3,508.5 1338.2,508.9 1338.3,509.6 1339.2,509.8 1339.3,508.8 1340.2,509.0 1340.3,509.9 1341.2,510.0 1341.3,509.3 1342.2,509.4 1344.0,509.6 1344.3,510.4 1348.3,509.4 1349.3,509.8 1350.2,509.8 1350.3,510.5 1351.2,510.5 1351.3,509.9 1352.2,509.8 1352.3,510.1 1353.2,510.0 1353.3,510.3 1354.2,510.2 1354.3,509.2 1355.2,509.1 1355.3,509.4 1357.2,509.0 1358.2,508.3 1358.3,508.5 1359.2,507.7 1359.3,508.0 1360.2,506.9 1360.3,506.2 1361.2,504.5 1361.3,505.1 1362.2,503.4 1362.5,502.6 1363.0,502.3 1363.2,502.4 1363.3,502.8 1364.2,504.2 1364.3,503.7 1365.2,505.5 1365.3,506.3 1366.2,507.7 1366.3,507.3 1367.2,508.2 1367.3,508.7 1369.2,509.8 1369.3,509.3 1370.2,509.6 1370.3,508.9 1371.2,509.0 1371.3,509.5 1372.2,509.6 1372.3,510.3 1373.2,510.3 1373.3,510.0 1375.2,510.1 1375.3,509.8 1376.0,509.7 1376.3,510.3 1377.3,510.2 1379.3,509.5 1383.3,506.9 1384.3,505.9 1385.3,505.6 1386.3,506.6 1387.3,506.8 1389.3,508.5 1390.3,508.5 1391.3,509.3 1392.3,509.8 1393.3,509.6 1394.3,508.4 1395.3,508.6 1396.3,507.9 1398.3,505.3 1399.3,504.9 1400.3,506.6 1401.3,507.8 1402.3,508.5 1403.3,508.8 1404.3,508.6 1405.2,508.7 1405.3,509.0 1409.2,508.9 1409.3,509.5 1411.2,509.0 1411.3,508.4 1412.2,507.9 1412.3,508.8 1413.2,508.0 1413.3,506.9 1414.2,505.7 1414.3,506.8 1415.2,504.9 1417.5,497.8 1418.0,497.4 1418.2,497.5 1420.2,503.6 1420.3,502.9 1422.2,506.7 1422.3,507.5 1423.2,508.5 1423.3,507.8 1424.2,508.4 1424.3,508.3 1425.2,508.7 1425.3,509.2 1426.2,509.4 1426.3,509.1 1429.2,509.7 1429.3,509.4 1430.2,509.5 1430.3,510.4 1431.0,510.4 1431.3,510.2 1432.3,510.3 1433.3,509.9 1434.3,510.6 1436.3,510.9 1437.3,509.8 1438.3,510.1 1439.3,509.9 1441.3,510.6 1442.3,510.5 1443.3,510.2 1444.3,511.0 1445.3,510.6 1446.3,511.0 1447.3,510.3 1448.3,510.6 1449.3,509.9 1450.3,510.5 1451.3,510.6 1452.3,510.1 1453.3,510.6 1454.3,510.0 1456.3,510.5 1458.3,510.0 1460.3,510.2 1461.3,510.5 1463.3,509.9 1465.3,510.0 1466.3,509.8 1467.3,510.3 1469.3,509.8 1470.3,509.4 1471.3,510.4 1472.3,509.2 1474.0,509.1 1475.0,509.1 1475.3,509.7 1476.0,509.5 1477.0,509.4 1478.0,508.8 1478.3,508.0 1479.0,507.6 1479.3,508.1 1480.0,507.5 1480.3,506.3 1482.5,502.6 1486.0,486.7 1486.8,485.4 1487.3,486.0 1491.5,504.8 1493.0,507.0 1493.3,506.4 1494.0,507.1 1494.3,508.0 1495.0,508.5 1497.0,509.1 1497.3,508.8 1498.0,509.0 1498.3,509.7 1500.8,510.1 1501.3,509.6 1502.3,510.2 1503.3,509.5 1504.3,510.3 1505.3,509.6 1507.3,509.8 1509.3,510.9 1510.3,510.3 1511.3,510.6 1512.3,510.5 1514.3,511.0 1515.3,510.9 1516.3,510.3 1517.3,510.0 1518.3,511.0 1519.3,510.3 1520.3,510.9 1521.3,511.0 1522.3,510.2 1524.3,510.5 1525.3,511.0 1527.3,511.2 1528.3,510.3 1530.3,511.1 1531.3,510.5 1532.3,510.7 1533.3,510.3 1534.3,511.0 1535.3,510.5 1537.3,510.8 1538.3,510.4 1539.3,511.0 1540.3,510.6 1541.3,510.5 1542.3,510.9 1544.3,510.8 1545.3,511.0 1546.3,510.9 1547.3,510.4 1549.3,511.0 1550.3,510.0 1551.3,510.7 1553.2,510.4 1554.2,510.2 1554.3,509.9 1555.2,509.8 1555.3,510.0 1556.2,509.9 1556.3,510.5 1557.2,510.4 1559.2,510.3 1559.3,510.0 1560.2,509.7 1562.2,508.6 1562.3,507.7 1563.2,506.6 1563.3,507.2 1566.2,502.3 1566.3,501.7 1567.0,502.0 1567.2,502.3 1568.2,504.6 1568.3,504.4 1570.2,507.6 1572.2,509.4 1572.3,508.8 1573.2,509.1 1573.3,509.7 1574.2,510.0 1574.3,509.3 1575.2,509.5 1576.2,509.8 1576.3,510.5 1578.2,510.8 1578.3,510.0 1579.2,510.1 1579.3,510.7 1580.2,510.8 1580.3,510.1 1581.3,510.5 1583.3,510.1 1584.3,510.5 1586.3,511.0 1587.3,510.1 1588.3,510.4 1589.3,510.0 1591.3,510.4 1592.3,511.0 1593.3,511.2 1594.3,510.3 1595.3,510.6 1597.3,510.6 1598.3,511.2 1599.3,511.2 1600.3,510.1 1601.3,510.5 1603.3,510.8 1605.2,510.6 1605.3,510.9 1606.2,510.9 1606.3,510.0 1607.2,510.0 1607.3,510.4 1608.2,510.3 1608.3,510.8 1609.2,510.7 1609.3,509.9 1611.2,509.7 1611.3,510.2 1612.2,510.0 1612.3,509.4 1613.2,509.1 1613.3,509.5 1614.2,509.0 1614.5,508.4 1617.2,505.3 1617.3,505.7 1618.5,504.2 1619.5,504.6 1621.2,507.2 1621.3,507.1 1622.2,508.1 1622.5,509.0 1623.2,509.6 1623.3,509.2 1625.2,510.0 1625.3,509.4 1626.2,509.6 1627.2,509.9 1627.3,510.4 1628.2,510.5 1628.3,510.9 1629.2,511.0 1629.5,510.7 1630.2,510.7 1630.3,510.0 1631.2,510.0 1631.3,510.9 1632.2,511.0 1632.3,510.3 1632.7,510.3 1633.3,510.8 1634.3,510.3 1635.3,510.2 1636.3,511.0 1637.3,510.7 1639.3,511.0 1642.3,510.6 1643.3,510.8 1644.3,510.5 1645.3,510.5 1646.3,511.2 1647.3,510.6 1648.3,511.1 1650.3,510.8 1651.3,511.2 1653.3,510.2 1654.3,511.3 1656.3,511.1 1657.3,511.4 1658.3,510.7 1660.3,511.0 1661.3,511.3 1662.3,510.6 1663.3,511.2 1664.3,511.4 1665.3,510.6 1666.3,510.3 1667.3,510.5 1668.3,511.1 1669.3,510.5 1670.3,511.4 1671.3,510.4 1672.3,511.4 1673.3,510.7 1674.3,511.4 1675.3,510.7 1676.3,510.4 1677.3,511.1 1678.3,510.6 1679.3,511.4 1680.3,511.3 1681.3,510.6 1684.3,511.2 1685.3,510.6 1686.3,511.0 1692.3,510.8 1693.3,511.5 1695.3,510.4 1697.3,511.2 1698.3,511.1 1699.3,510.4 1700.3,510.8 1701.3,510.8 1702.3,511.3 1703.3,510.6 1704.3,511.4 1705.3,511.2 1706.3,510.3 1707.3,510.9 1709.3,511.0 1710.3,511.3 1711.3,510.5 1712.3,511.2 1713.3,510.2 1714.3,511.2 1715.3,510.5 1716.3,510.2 1717.3,511.1 1718.3,511.3 1719.3,510.9 1720.3,511.1 1721.3,510.6 1722.3,510.4 1723.3,510.9 1724.3,511.0 1725.3,510.3 1726.3,510.4 1728.3,510.2 1729.3,510.9 1730.3,509.8 1732.1,509.6 1733.1,509.7 1733.3,510.4 1734.1,510.3 1735.1,509.9 1737.1,509.4 1738.1,509.2 1739.1,508.3 1739.3,507.4 1741.1,505.4 1741.3,505.3 1742.1,503.8 1745.1,494.3 1745.3,494.8 1745.8,494.8 1750.1,505.8 1750.3,505.8 1751.1,506.7 1752.1,508.1 1752.3,507.9 1753.1,508.3 1753.3,508.9 1754.1,509.2 1754.3,509.7 1755.1,509.9 1755.3,509.4 1756.1,509.6 1756.3,510.0 1759.1,510.7 1759.3,510.1 1760.1,510.2 1760.6,510.0 1761.3,510.8 1763.3,510.2 1764.3,510.7 1766.3,511.1 1767.3,510.4 1771.3,510.3 1772.3,511.1 1773.3,510.8 1774.3,510.1 1776.3,510.3 1777.3,511.2 1778.3,510.5 1779.3,511.0 1780.3,510.3 1781.3,510.3 1782.3,511.2 1783.3,510.1 1784.3,510.6 1785.3,510.6 1786.3,510.4 1787.3,510.8 1788.3,510.9 1789.3,510.2 1791.2,510.2 1791.3,510.4 1793.2,510.3 1793.3,510.4 1794.2,510.4 1795.2,510.4 1795.3,509.9 1796.2,509.8 1796.3,510.5 1797.2,510.4 1797.3,509.8 1798.2,509.6 1798.3,509.1 1799.2,508.9 1799.3,509.3 1801.2,508.7 1801.3,508.3 1802.2,507.7 1802.3,508.5 1803.2,507.6 1805.2,504.5 1807.5,500.7 1808.2,500.6 1808.3,501.0 1811.2,505.3 1811.3,504.6 1812.2,505.8 1812.3,506.7 1815.2,508.5 1815.3,508.3 1816.2,508.5 1816.3,508.9 1818.2,509.0 1818.3,508.5 1819.2,508.3 1821.2,507.0 1821.3,507.3 1824.2,504.2 1824.3,503.6 1825.2,503.4 1825.3,503.8 1826.2,504.5 1826.3,504.1 1827.2,505.3 1828.2,506.9 1828.3,506.2 1829.2,507.1 1829.3,507.8 1830.2,508.5 1831.2,509.2 1832.2,509.8 1832.3,509.3 1833.2,509.5 1833.3,510.0 1834.2,510.2 1834.3,509.4 1835.2,509.5 1835.3,509.3 1836.2,509.4 1836.3,510.1 1837.2,510.1 1837.3,509.9 1839.2,510.1 1839.3,510.3 1840.2,510.3 1842.2,510.7 1842.3,510.0 1843.0,510.0 1843.3,510.3 1845.3,510.5 1847.3,510.2 1848.3,510.5 1849.3,509.5 1850.3,510.4 1851.3,509.6 1853.2,509.5 1853.3,510.0 1854.2,509.9 1856.2,509.2 1856.5,508.9 1858.2,508.4 1858.3,508.7 1859.2,508.4 1860.2,507.7 1860.3,508.4 1861.2,507.9 1861.5,507.1 1862.2,506.5 1862.3,506.6 1864.2,504.1 1864.3,504.3 1867.2,495.6 1869.2,488.1 1869.3,488.4 1869.7,488.2 1870.3,488.5 1871.2,491.2 1872.2,495.7 1872.3,495.5 1874.2,502.3 1874.3,502.2 1877.2,506.5 1877.5,507.4 1878.2,508.0 1878.3,507.7 1880.2,508.7 1880.5,509.2 1881.2,509.4 1881.3,508.5 1882.2,508.7 1882.3,509.4 1883.2,509.6 1883.5,509.3 1885.2,509.5 1885.3,510.2 1886.2,510.3 1886.3,509.6 1887.2,509.7 1888.3,510.1 1889.3,509.8 1890.3,510.0 1891.3,509.7 1892.3,510.4 1893.3,510.6 1894.3,511.0 1895.3,511.0 1896.3,510.3 1897.3,511.1 1898.3,510.1 1899.3,510.2 1900.3,510.6 1901.3,510.8 1902.3,510.7 1903.3,510.1 1904.3,510.5 1906.3,510.5 1907.3,511.0 1908.3,511.0 1909.3,510.2 1911.3,510.9 1912.3,511.0 1913.3,510.9 1914.3,511.2 1916.3,510.5 1917.3,511.0 1918.3,510.8 1920.3,510.7 1921.3,510.9 1922.3,510.8 1924.2,510.5 1924.3,510.9 1925.2,510.8 1925.3,510.4 1926.2,510.3 1926.3,510.7 1927.2,510.7 1927.3,510.9 1928.2,510.8 1928.3,510.4 1929.2,510.3 1929.3,509.8 1930.2,509.8 1930.3,510.7 1931.2,510.6 1931.3,509.7 1933.2,509.4 1934.2,509.0 1934.3,509.5 1936.2,508.8 1936.3,509.3 1937.2,508.8 1937.3,508.0 1938.2,507.4 1938.3,507.6 1939.2,506.7 1939.3,507.1 1940.2,506.0 1940.3,505.0 1941.2,503.6 1941.3,504.0 1942.2,502.5 1943.2,501.0 1943.3,501.7 1944.2,501.5 1944.3,500.9 1945.2,501.7 1945.3,501.6 1948.2,506.0 1948.3,506.6 1949.2,507.6 1949.3,506.9 1951.2,508.2 1952.2,508.8 1952.3,508.6 1953.2,508.9 1953.3,509.8 1955.2,510.2 1955.3,509.9 1956.2,510.1 1956.3,509.8 1957.2,510.0 1957.3,509.6 1958.2,509.7 1958.3,510.5 1959.2,510.6 1959.3,510.0 1960.2,510.1 1960.3,510.4 1961.2,510.5 1961.3,511.0 1962.2,511.1 1962.3,510.2 1963.2,510.2 1963.3,510.8 1964.0,510.8 1964.3,510.5 1965.3,510.6 1966.3,510.5 1967.3,510.9 1968.3,510.7 1969.3,510.1 1970.3,511.0 1971.3,510.4 1975.3,511.0 1976.3,510.2 1978.3,510.8 1980.3,510.3 1981.3,510.9 1982.3,511.1 1984.3,510.4 1985.3,509.9 1987.3,510.3 1988.3,509.5 1990.3,508.8 1991.3,508.2 1992.3,508.2 1993.3,507.8 1994.3,508.8 1995.3,509.1 1996.3,509.0 1998.3,509.3 1999.3,510.5 2001.3,509.9 2002.3,510.0 2003.3,510.9 2004.3,510.3 2005.3,511.2 2006.3,510.5 2007.3,510.9 2008.3,510.6 2009.3,511.0 2010.3,510.4 2011.3,510.5 2013.3,510.3 2015.3,511.4 2016.3,510.3 2017.3,511.3 2018.3,510.6 2020.3,510.3 2021.3,510.7 2022.3,510.4 2023.3,510.9 2024.3,510.8 2025.3,510.5 2026.3,511.4 2027.3,511.0 2028.3,511.2 2029.3,510.6 2030.3,511.2 2032.3,511.2 2033.3,510.5 2034.3,511.4 2036.3,510.4 2037.3,511.4 2038.3,510.7 2039.3,511.4 2040.3,510.6 2041.3,510.4 2042.3,510.9 2045.3,511.1 2046.3,510.7 2047.3,511.2 2049.3,510.5 2050.3,511.0 2051.3,510.7 2052.3,511.0 2053.3,510.5 2055.3,510.6 2056.3,511.1 2057.3,510.3 2058.3,510.8 2059.3,510.8 2060.3,511.3 2061.3,510.4 2063.3,511.3 2064.3,510.8 2065.3,511.4 2066.3,510.6 2067.3,510.9 2070.3,510.3 2071.3,511.2 2072.3,511.0 2073.3,511.2 2075.3,510.4 2077.3,511.3 2079.3,510.5 2081.3,511.2 2083.3,510.9 2084.3,511.0 2085.3,510.1 2086.3,510.2 2088.2,510.0 2088.3,510.6 2090.2,510.5 2090.3,510.0 2091.2,509.9 2091.3,510.9 2092.2,510.8 2092.3,510.5 2093.2,510.5 2093.3,510.7 2094.2,510.6 2094.3,510.9 2095.2,510.8 2095.3,510.6 2097.2,510.4 2099.2,509.8 2099.3,510.1 2101.2,509.6 2101.3,509.0 2102.2,508.7 2102.3,509.3 2103.2,508.9 2103.3,508.1 2104.2,507.5 2104.3,507.9 2105.2,507.2 2105.3,507.7 2106.2,506.7 2106.3,505.9 2107.2,504.7 2107.3,505.5 2108.2,504.2 2109.2,502.4 2109.3,502.6 2110.2,501.7 2110.3,501.0 2111.5,500.8 2112.2,501.3 2113.2,502.7 2114.2,504.5 2115.2,506.2 2115.3,505.8 2117.2,507.6 2117.3,507.5 2119.2,508.8 2120.2,509.4 2121.2,509.9 2121.3,509.3 2122.2,509.5 2122.3,509.9 2123.2,510.1 2123.3,509.7 2125.2,509.8 2125.3,509.6 2126.2,509.7 2126.3,510.1 2127.2,510.2 2127.3,510.4 2130.2,510.4 2130.3,510.8 2131.2,510.9 2131.3,510.5 2132.2,510.5 2132.3,510.8 2133.2,510.8 2134.0,510.7 2134.3,511.2 2135.3,510.5 2136.3,510.6 2137.3,511.0 2138.3,510.5 2139.3,511.1 2140.3,510.6 2141.3,510.4 2142.3,510.8 2143.3,510.9 2144.3,510.6 2145.3,510.6 2146.3,511.4 2147.3,510.8 2148.3,511.1 2149.3,510.8 2150.3,510.9 2152.3,510.5 2153.3,511.3 2154.3,511.1 2155.3,510.7 2157.3,511.0 2158.3,510.4 2160.3,511.5 2163.3,510.5 2164.3,511.0 2167.3,511.4 2168.3,510.7 2169.3,510.5 2170.3,511.5 2171.3,511.0 2172.3,511.4 2173.3,511.1 2174.3,511.4 2175.3,511.1 2176.3,511.2 2177.3,511.1 2178.3,511.5 2179.3,511.2 2180.3,511.5 2181.3,510.8"/>
<polyline fill="none" stroke="#0000ff" stroke-width="4.8" stroke-linejoin="round" points="167.3,790.7 168.3,791.1 169.3,790.8 170.3,791.1 171.3,791.2 172.3,790.5 173.3,790.4 174.3,791.4 175.3,790.7 176.3,790.7 177.3,791.6 178.3,791.0 179.3,791.4 180.3,791.0 181.3,791.2 182.3,790.6 183.3,791.2 184.3,791.5 185.3,791.1 186.3,791.3 187.3,791.2 188.3,790.5 189.3,791.3 192.3,790.5 193.3,791.5 194.3,791.0 196.3,791.5 197.3,791.3 198.3,791.5 199.3,790.9 200.3,791.4 201.3,791.0 202.3,791.6 203.3,791.5 204.3,790.6 206.3,790.7 207.3,791.6 208.3,791.0 209.3,791.2 210.3,790.8 211.3,791.1 213.3,790.9 214.3,791.2 215.3,791.2 216.3,791.5 217.3,791.3 218.3,791.6 219.3,791.5 220.3,791.7 222.3,790.7 223.3,791.5 225.3,791.6 226.3,791.2 227.3,791.3 228.3,790.7 229.3,791.5 232.3,790.6 233.3,791.5 234.3,791.7 235.3,790.6 236.3,791.5 238.3,790.7 239.3,790.8 240.3,791.4 241.3,791.5 242.3,790.6 243.3,791.2 244.3,790.6 245.3,791.4 246.3,790.9 247.3,791.6 248.3,791.7 249.3,791.1 250.3,791.7 251.3,790.9 252.3,790.6 253.3,791.2 254.3,790.6 257.3,791.3 258.3,790.7 259.3,790.6 260.3,791.6 261.3,790.9 262.3,791.7 263.3,791.6 264.3,791.0 267.3,791.3 270.3,791.3 271.3,791.7 272.3,791.1 273.3,791.1 274.3,791.4 275.3,790.8 276.3,790.9 277.3,791.7 278.3,791.2 279.3,791.2 280.3,790.6 281.3,791.1 282.3,791.2 283.3,790.6 284.3,791.3 285.3,791.3 286.3,790.6 287.3,791.3 288.3,791.1 289.3,791.4 290.3,791.0 291.3,791.4 292.3,791.5 293.3,790.6 294.3,790.6 295.3,791.4 296.3,791.7 297.3,790.9 299.3,791.3 300.3,791.0 303.3,791.0 304.3,791.3 305.3,790.9 306.3,791.0 307.3,791.5 308.3,790.6 309.3,791.3 310.3,791.5 311.3,791.0 312.3,790.9 313.3,791.6 314.3,790.9 315.3,790.8 317.3,791.4 318.3,790.7 319.3,791.0 320.3,791.0 321.3,791.6 322.3,791.1 323.3,791.6 324.3,790.8 327.3,791.7 329.3,790.9 330.3,790.8 331.3,791.3 332.3,790.9 333.3,791.6 334.3,791.6 335.3,790.8 336.3,791.0 337.3,791.6 338.3,791.4 339.3,791.6 340.3,791.0 341.3,790.8 342.3,791.0 343.3,791.6 344.3,791.0 348.3,791.1 349.3,791.7 350.3,790.8 351.3,790.7 352.3,791.8 354.3,791.8 355.3,791.2 356.3,791.8 357.3,791.8 358.3,790.9 359.3,791.6 360.3,791.7 363.3,791.0 366.3,790.7 367.3,791.4 368.3,791.0 369.3,791.6 370.3,790.7 371.3,791.8 372.3,791.5 373.3,791.8 375.3,791.8 376.3,791.4 377.3,790.7 378.3,791.6 379.3,790.9 380.3,791.0 381.3,791.5 383.3,791.2 384.3,791.8 386.3,791.1 387.3,791.0 388.3,791.7 389.3,791.3 390.3,791.6 391.3,791.1 392.3,790.9 394.3,791.7 395.3,790.9 396.3,791.7 397.3,791.8 399.3,791.7 400.3,790.7 401.3,791.5 402.3,791.8 403.3,790.8 404.3,791.0 405.3,791.0 406.3,791.4 408.3,791.3 409.3,791.7 410.3,790.7 414.3,790.8 415.3,791.9 416.3,791.8 417.3,790.8 418.3,791.3 421.3,791.2 422.3,791.5 425.3,791.0 426.3,791.1 427.3,790.9 428.3,791.4 429.3,791.6 431.3,790.8 435.3,791.7 436.3,791.2 437.3,791.7 440.3,791.2 442.3,791.6 443.3,791.3 444.3,791.6 446.3,791.1 448.3,791.6 449.3,790.9 450.3,791.3 451.3,791.3 452.3,791.8 453.3,791.9 454.3,791.2 455.3,791.9 456.3,791.7 457.3,791.1 458.3,791.3 459.3,790.9 460.3,791.8 461.3,791.6 462.3,791.9 464.3,791.6 465.3,791.7 466.3,791.5 467.3,790.9 468.3,791.5 469.3,790.8 470.3,791.0 471.3,791.7 472.3,790.9 474.3,790.9 475.3,791.9 476.3,791.0 477.3,790.8 478.3,791.8 479.3,791.0 480.3,791.8 481.3,791.6 483.3,792.0 484.3,791.5 485.3,791.8 486.3,790.9 487.3,791.7 488.3,791.4 489.3,791.7 490.3,791.0 491.3,791.7 492.3,792.0 493.3,790.9 496.3,791.8 497.3,791.1 499.3,791.1 500.3,791.6 501.3,791.7 502.3,791.3 506.3,791.4 507.3,791.0 509.3,792.0 510.3,791.4 511.3,791.8 512.3,791.8 513.3,791.1 514.3,791.7 518.3,791.4 520.3,791.9 521.3,791.0 522.3,791.0 523.3,791.8 524.3,792.0 525.3,791.5 526.3,791.4 527.3,791.7 528.3,791.1 530.3,791.1 531.3,791.6 533.3,791.2 535.3,792.0 536.3,791.2 537.3,791.7 538.3,791.4 539.3,791.9 541.3,791.2 543.3,790.9 544.3,791.5 546.3,791.1 547.3,791.3 548.3,791.3 549.3,791.8 550.3,791.1 551.3,792.1 552.3,791.5 553.3,791.6 554.3,791.5 555.3,791.9 556.3,791.9 558.3,791.5 560.3,791.9 561.3,791.4 563.3,792.0 564.3,791.4 565.3,791.1 566.3,791.1 567.3,791.7 568.3,791.7 569.3,792.0 570.3,791.8 571.3,791.1 574.3,790.9 575.3,791.4 577.3,791.4 578.3,790.4 579.3,790.8 580.3,789.7 581.3,789.4 582.3,789.7 583.3,789.2 584.3,789.7 585.3,791.0 586.3,790.6 589.3,791.5 590.3,790.7 591.3,791.2 593.3,791.4 594.3,791.1 596.3,792.0 597.3,791.4 598.3,791.5 599.3,791.0 600.3,791.2 601.3,791.7 602.3,791.0 603.3,792.0 604.3,792.0 605.3,791.0 606.3,792.0 607.3,791.4 608.3,791.8 609.3,791.8 610.3,791.3 611.3,791.7 613.3,791.9 614.3,791.2 615.3,791.8 616.3,792.0 618.3,791.5 619.3,790.9 620.3,791.4 621.3,791.1 622.3,791.5 624.3,791.0 625.3,790.2 626.3,790.4 627.3,789.9 628.3,789.1 629.3,790.0 630.3,790.2 631.3,790.0 632.3,791.3 633.3,790.6 635.3,791.5 637.3,791.5 638.3,791.6 642.3,791.0 643.3,791.8 644.3,791.9 645.3,791.6 646.3,791.9 647.3,791.4 648.3,791.3 649.3,791.5 650.3,792.0 651.3,791.1 652.3,791.6 653.3,791.3 654.3,791.9 655.3,791.4 658.3,791.7 659.3,792.0 660.3,791.5 661.3,792.1 662.3,791.2 663.3,791.4 665.3,791.2 666.3,792.0 667.3,791.9 668.3,791.3 669.3,791.3 671.3,791.9 673.3,792.0 674.3,791.8 675.3,791.2 676.3,791.5 677.3,791.3 678.3,791.7 679.3,791.7 680.3,791.3 681.3,791.4 682.3,792.0 683.3,791.1 684.3,792.0 686.3,792.2 687.3,791.5 690.3,791.8 691.3,792.3 693.3,791.4 694.3,792.1 695.3,791.7 697.3,792.0 698.3,791.1 699.3,792.0 701.3,791.7 703.3,791.7 704.3,791.3 705.3,791.7 706.3,791.1 707.3,791.7 708.3,791.9 709.3,791.6 710.3,791.8 711.3,792.3 712.3,792.2 713.3,791.3 714.3,792.1 715.3,791.9 716.3,791.2 717.3,791.5 719.3,791.2 721.3,792.2 722.3,791.5 723.3,792.2 724.3,792.0 725.3,791.3 726.3,792.2 727.3,791.8 728.3,792.2 729.3,792.0 730.3,792.0 731.3,791.5 732.3,792.1 734.3,792.2 735.3,791.7 736.3,792.0 738.3,791.3 742.3,791.3 744.3,792.0 746.3,791.6 747.3,791.9 748.3,791.5 750.3,792.1 752.3,791.4 753.3,792.2 755.3,791.6 758.3,791.9 760.3,791.2 761.3,791.4 762.3,792.1 763.3,791.3 764.3,791.7 765.3,791.4 767.3,791.4 768.3,791.6 770.3,791.2 772.3,791.4 773.3,791.7 774.3,791.2 775.3,791.2 776.3,791.7 777.3,791.7 778.3,792.0 779.3,791.2 780.3,791.6 781.3,791.6 782.3,791.2 783.3,792.3 784.3,791.4 785.3,791.3 786.3,791.7 787.3,791.4 788.3,791.9 790.3,791.3 791.3,791.2 792.3,792.0 793.3,791.5 794.3,792.1 795.3,791.7 796.3,792.3 797.3,791.5 799.3,791.5 800.3,792.1 803.3,791.3 804.3,792.0 805.3,792.3 807.3,791.2 810.3,791.4 812.3,791.2 813.3,791.9 814.3,792.2 815.3,791.4 816.3,792.3 817.3,791.7 818.3,792.1 820.3,792.3 821.3,791.2 824.3,792.3 825.3,791.2 826.3,791.5 827.3,792.1 828.3,791.2 829.3,791.6 830.3,791.5 832.3,792.2 833.3,791.3 834.3,792.0 836.3,792.1 837.3,791.7 838.3,792.2 839.3,791.5 840.3,791.5 841.3,791.3 842.3,791.9 845.3,791.2 846.3,791.8 847.3,791.7 848.3,791.8 849.3,791.4 850.3,791.5 851.3,791.1 852.3,791.7 853.3,790.9 855.3,791.7 856.3,791.5 857.3,790.8 858.3,790.9 859.3,791.6 860.3,791.3 861.3,791.5 862.3,791.4 863.3,790.8 864.3,791.3 865.3,791.0 866.3,790.3 867.3,790.2 868.3,789.6 869.3,789.7 870.0,789.5 870.3,790.1 871.0,789.8 871.3,788.6 872.0,788.2 872.3,788.6 873.0,788.0 875.0,785.0 875.3,785.2 876.0,783.4 878.3,770.8 881.0,736.5 881.3,735.2 881.8,737.6 884.0,769.3 886.0,781.5 888.0,786.4 890.0,788.4 890.3,788.2 891.0,788.6 891.3,788.3 893.3,788.9 894.3,790.0 895.3,789.3 896.3,789.3 897.3,790.5 898.3,789.6 899.3,790.5 900.3,789.5 901.3,789.9 902.3,789.6 903.3,790.3 904.3,789.9 907.3,789.8 908.3,788.9 909.3,788.9 911.3,787.6 912.3,788.0 913.3,787.1 914.3,786.6 915.3,784.9 916.3,784.1 919.0,778.5 921.5,764.1 923.5,729.1 926.5,558.8 926.7,555.3 927.5,583.9 930.0,728.9 932.5,768.3 936.2,782.3 936.5,783.7 939.3,787.2 940.3,787.5 941.3,788.5 942.3,788.5 943.3,788.8 944.3,789.8 946.3,790.3 947.3,790.0 948.3,790.5 949.3,790.2 950.3,791.1 951.3,791.1 952.3,790.5 953.3,791.3 954.3,790.5 955.3,790.5 956.3,791.3 957.3,790.9 959.3,791.4 960.3,790.8 961.3,791.6 962.3,791.1 963.3,791.4 964.3,791.3 965.3,791.8 966.3,791.8 967.3,791.3 968.3,791.1 970.3,791.5 971.3,791.2 972.3,791.3 973.3,792.0 974.3,792.0 975.3,792.3 977.3,792.2 978.3,791.6 979.3,791.4 983.3,791.9 984.3,791.7 985.3,792.3 986.3,791.6 987.3,791.8 988.3,792.4 989.3,792.3 990.3,791.7 991.3,791.6 992.3,792.3 993.3,791.3 994.3,791.5 995.3,792.0 996.3,792.0 997.3,791.5 998.3,791.4 999.3,791.6 1000.3,792.3 1001.3,791.9 1002.3,792.5 1003.3,792.3 1004.3,792.5 1005.3,791.4 1006.3,791.6 1007.3,791.4 1008.3,791.9 1010.3,791.4 1011.3,792.0 1012.3,791.4 1013.3,791.7 1014.3,791.6 1015.3,792.3 1016.3,791.8 1018.3,791.3 1020.3,791.9 1022.3,792.2 1023.3,792.0 1024.3,791.2 1026.2,790.9 1026.3,791.7 1028.2,791.4 1028.5,791.0 1029.2,790.8 1029.3,791.2 1030.2,790.9 1031.2,790.2 1033.2,788.3 1034.2,786.8 1034.3,787.4 1036.5,781.5 1038.7,769.5 1039.2,768.6 1043.7,786.6 1044.2,787.5 1044.3,787.2 1046.2,789.2 1046.5,790.0 1047.2,790.4 1047.5,790.9 1048.2,791.2 1048.3,790.7 1049.2,791.0 1051.2,791.1 1052.2,791.4 1052.3,791.8 1053.3,791.5 1054.3,792.2 1055.3,791.3 1057.3,791.9 1058.3,791.8 1059.3,792.4 1061.3,792.5 1062.3,792.2 1063.3,791.5 1064.3,792.2 1066.3,792.1 1067.3,791.9 1068.3,792.4 1069.3,792.7 1070.3,791.7 1071.3,792.4 1072.3,792.1 1073.3,792.3 1074.3,792.7 1075.3,792.8 1077.3,791.9 1078.3,792.8 1079.3,791.9 1080.3,792.2 1081.3,792.7 1082.3,792.1 1083.3,792.0 1084.3,792.9 1085.3,792.9 1086.3,792.1 1089.3,791.9 1090.3,792.1 1091.3,792.9 1092.3,791.9 1094.3,792.0 1095.3,791.9 1096.3,792.4 1098.3,792.8 1099.3,792.6 1100.3,792.8 1101.3,791.8 1102.3,792.1 1103.3,793.0 1104.3,791.9 1106.3,792.4 1107.3,792.1 1108.3,792.5 1109.3,791.9 1110.3,792.1 1111.3,793.0 1112.3,792.0 1113.3,792.9 1114.3,792.1 1115.3,793.0 1116.3,792.7 1117.3,792.6 1118.3,792.0 1119.3,791.9 1120.3,792.8 1121.3,792.1 1122.3,792.1 1123.3,792.9 1124.3,792.9 1125.3,791.9 1126.3,793.0 1127.3,792.5 1129.3,792.0 1130.3,792.4 1131.3,793.1 1132.3,792.2 1135.3,792.1 1136.3,792.3 1137.3,793.0 1138.3,792.0 1139.3,792.2 1140.3,793.1 1142.3,793.1 1143.3,792.2 1144.3,792.4 1145.3,793.1 1146.3,792.5 1147.3,792.8 1149.3,792.0 1151.3,792.9 1152.3,792.9 1154.3,792.5 1157.3,792.6 1158.3,793.0 1159.3,792.2 1161.3,793.1 1162.3,793.0 1163.3,792.2 1164.3,793.1 1165.3,793.0 1166.3,792.2 1168.3,792.2 1169.3,792.1 1170.3,793.2 1171.3,792.5 1172.3,793.1 1173.3,792.2 1174.3,792.0 1175.3,793.1 1176.3,793.0 1177.3,793.2 1179.3,792.7 1180.3,793.0 1181.3,792.1 1182.3,792.7 1184.3,792.2 1185.3,792.8 1186.3,792.4 1187.3,792.7 1190.3,792.5 1192.3,793.2 1195.3,793.1 1196.3,792.4 1197.3,793.2 1198.3,792.4 1199.3,792.2 1201.3,793.0 1202.3,792.5 1203.3,792.9 1204.3,792.4 1205.3,793.3 1206.3,792.6 1208.3,792.7 1209.3,793.2 1210.3,793.3 1211.3,792.7 1212.3,792.6 1213.3,792.9 1214.3,792.2 1216.3,793.1 1217.3,793.1 1218.3,792.2 1219.3,793.2 1220.3,792.6 1221.3,793.3 1222.3,792.6 1223.3,792.4 1225.3,793.2 1226.3,792.7 1227.3,793.2 1229.3,792.6 1230.3,792.5 1231.3,792.8 1233.3,792.6 1235.3,793.2 1237.3,792.3 1240.3,792.9 1241.3,792.3 1242.3,792.3 1243.3,792.6 1244.3,792.5 1245.3,792.2 1247.3,793.3 1248.3,792.8 1252.3,793.3 1253.3,792.7 1254.3,793.0 1255.3,792.3 1256.3,793.3 1257.3,792.7 1258.3,792.8 1259.3,793.3 1260.3,792.6 1261.3,792.4 1262.3,793.2 1263.3,792.9 1264.3,792.3 1265.3,792.3 1266.3,792.6 1267.3,792.2 1268.3,793.2 1269.3,792.5 1272.3,792.9 1273.3,792.8 1275.3,793.0 1277.3,792.4 1278.3,793.4 1279.3,793.1 1280.3,792.3 1283.3,793.4 1284.3,792.3 1285.3,792.3 1286.3,792.8 1287.3,792.8 1288.3,793.3 1289.3,793.3 1290.3,792.7 1292.3,793.0 1293.3,793.3 1294.3,792.5 1295.3,792.7 1296.3,792.4 1297.3,793.0 1298.3,792.3 1299.3,793.4 1300.3,792.9 1301.3,793.0 1302.3,792.4 1304.3,792.8 1305.3,793.3 1307.3,792.6 1308.3,793.5 1311.3,792.5 1312.3,792.6 1313.3,793.4 1314.3,792.4 1315.3,792.9 1316.3,793.0 1317.3,792.7 1318.3,793.2 1320.3,793.3 1321.3,793.1 1322.3,792.5 1323.3,792.3 1324.3,792.8 1326.3,792.5 1327.3,793.3 1328.3,792.5 1329.3,793.2 1330.3,793.4 1331.3,792.4 1332.3,793.3 1333.3,792.7 1336.3,792.2 1337.3,792.8 1338.3,792.6 1339.3,793.2 1340.3,793.2 1341.3,792.2 1342.3,792.6 1344.3,792.3 1346.3,792.4 1347.3,792.9 1349.3,792.1 1352.3,792.6 1353.3,792.1 1354.3,792.6 1355.3,792.0 1356.3,792.5 1357.3,792.3 1358.3,791.7 1359.3,792.3 1360.3,791.8 1364.2,791.5 1365.2,791.0 1365.3,790.6 1366.2,790.3 1366.3,791.1 1368.2,790.5 1368.3,790.0 1370.2,788.9 1371.2,787.6 1371.3,788.3 1372.2,787.1 1373.2,785.1 1374.2,782.1 1374.3,782.7 1376.2,774.8 1379.5,752.7 1380.0,751.9 1380.2,752.2 1386.0,783.2 1387.2,786.3 1387.3,785.9 1389.2,788.5 1390.2,789.7 1390.3,789.2 1393.2,790.8 1393.3,791.1 1394.2,791.4 1394.3,790.7 1395.2,790.9 1396.2,791.0 1396.3,791.8 1397.2,792.0 1397.3,791.8 1398.3,791.6 1399.3,792.5 1400.3,792.6 1401.3,792.2 1402.3,792.9 1404.3,792.7 1406.3,791.9 1407.3,792.8 1408.3,792.9 1409.3,792.5 1411.3,792.8 1412.3,792.5 1413.3,793.0 1416.3,792.4 1417.3,792.9 1418.3,792.7 1419.3,793.2 1420.3,792.5 1421.3,792.8 1422.3,792.6 1424.3,793.1 1425.3,792.5 1426.3,792.5 1427.3,793.0 1428.3,792.7 1429.3,793.0 1430.3,792.6 1431.3,792.6 1433.3,793.6 1434.3,793.5 1435.3,793.1 1436.3,793.0 1437.3,792.6 1439.3,792.9 1440.3,793.6 1441.3,792.6 1442.3,793.6 1443.3,793.1 1445.3,792.8 1446.3,793.7 1447.3,792.8 1448.3,793.2 1449.3,793.2 1450.3,792.8 1451.3,792.8 1452.3,793.7 1454.3,793.4 1455.3,793.6 1456.3,792.7 1457.3,793.4 1458.3,793.5 1459.3,792.8 1460.3,793.1 1461.3,793.7 1462.3,793.0 1463.3,793.5 1464.3,792.8 1465.3,793.4 1466.3,792.9 1467.3,793.2 1468.3,793.0 1469.3,793.6 1471.3,793.2 1472.3,793.4 1473.3,793.1 1474.3,793.6 1475.3,792.9 1476.3,793.3 1477.3,793.3 1479.3,792.7 1480.3,792.8 1481.3,793.4 1482.3,792.9 1483.3,793.5 1484.3,793.2 1485.3,793.8 1487.3,793.5 1489.3,792.7 1490.3,793.3 1492.3,793.7 1493.3,792.9 1494.3,792.8 1495.3,793.8 1497.3,793.2 1498.3,793.5 1499.3,792.8 1500.3,793.3 1502.3,793.4 1503.3,792.8 1504.3,792.8 1505.3,793.4 1506.3,793.7 1507.3,792.8 1508.3,792.6 1509.3,792.7 1510.3,793.6 1511.3,793.1 1512.3,793.2 1513.3,793.8 1515.3,792.9 1516.3,793.4 1517.3,792.6 1519.3,793.4 1520.3,792.8 1521.3,792.6 1522.3,793.2 1523.3,792.9 1524.3,793.7 1525.3,792.6 1526.3,793.5 1527.3,793.0 1528.3,793.4 1529.3,793.0 1530.3,793.2 1531.3,792.8 1533.0,792.6 1533.3,792.9 1534.0,792.8 1534.3,793.2 1535.0,793.2 1535.3,792.6 1537.0,792.4 1538.0,792.5 1538.3,792.1 1539.0,792.0 1539.3,792.3 1540.0,792.2 1540.3,792.5 1543.0,791.9 1543.3,791.4 1544.0,791.1 1546.0,789.7 1546.3,789.8 1548.0,787.8 1548.3,787.9 1549.0,786.7 1550.0,784.8 1550.3,785.1 1551.5,783.7 1552.8,784.3 1557.0,789.6 1557.3,789.5 1558.0,790.1 1558.3,791.1 1559.0,791.5 1559.3,791.3 1560.0,791.6 1560.3,791.2 1561.0,791.4 1561.3,792.5 1562.0,792.7 1562.3,792.3 1564.0,792.7 1565.0,792.5 1565.3,792.2 1566.0,792.3 1566.3,793.3 1567.0,793.4 1567.3,792.4 1568.0,792.5 1569.0,792.8 1569.3,793.5 1570.0,793.6 1570.3,792.5 1571.0,792.6 1571.3,793.0 1572.3,793.0 1573.3,792.8 1574.3,793.6 1576.3,792.6 1577.3,793.1 1578.3,792.6 1579.3,793.5 1581.3,793.7 1582.3,792.7 1583.3,793.5 1584.3,793.0 1585.3,793.2 1588.3,792.9 1589.3,793.5 1590.3,792.8 1591.3,793.9 1592.3,792.8 1593.3,793.9 1594.3,793.0 1595.3,792.8 1596.3,793.6 1597.3,793.4 1598.3,793.7 1599.3,793.4 1600.3,793.5 1601.3,792.9 1602.3,793.6 1603.3,793.4 1604.3,793.9 1605.3,792.8 1606.3,792.9 1607.3,793.6 1608.3,793.9 1609.3,793.3 1610.3,793.6 1612.3,793.3 1614.3,793.5 1615.3,792.8 1617.3,793.7 1618.3,793.1 1619.3,793.4 1620.3,793.1 1624.3,794.0 1626.3,793.1 1627.3,793.2 1628.3,792.9 1630.3,793.5 1631.3,793.6 1632.3,793.1 1634.3,792.9 1635.3,793.0 1636.3,793.4 1637.3,793.1 1638.3,793.9 1640.3,793.2 1641.3,793.3 1642.3,792.9 1643.3,793.7 1644.3,793.7 1645.3,793.3 1646.3,793.7 1647.3,793.2 1650.3,793.1 1651.3,793.6 1653.3,793.7 1654.3,793.0 1655.3,793.8 1657.3,793.3 1659.3,793.4 1660.3,793.1 1662.3,793.6 1664.3,793.9 1665.3,793.1 1666.3,793.9 1668.3,793.7 1669.3,794.0 1670.3,793.0 1671.3,793.8 1672.3,793.9 1673.3,793.0 1675.3,794.0 1676.3,793.2 1677.3,793.9 1678.3,793.9 1680.3,793.0 1681.3,793.1 1682.3,793.8 1683.3,793.3 1684.3,793.2 1685.3,793.4 1686.3,793.9 1687.3,793.1 1688.3,792.8 1689.3,794.0 1690.3,793.2 1691.3,793.3 1692.3,794.0 1693.3,793.1 1694.3,792.9 1695.3,793.9 1696.3,793.1 1697.3,793.1 1698.3,793.9 1699.3,793.1 1700.3,793.9 1701.3,793.2 1703.3,793.0 1704.3,793.4 1706.3,793.2 1707.3,793.3 1708.3,793.1 1709.3,793.7 1710.3,793.8 1711.3,793.6 1712.3,793.7 1713.3,792.8 1714.3,793.0 1716.3,792.8 1717.3,793.8 1719.3,793.7 1721.3,792.7 1722.3,793.0 1723.3,792.5 1724.3,793.5 1725.3,792.7 1726.3,792.7 1727.3,793.5 1728.3,792.5 1729.3,793.3 1730.3,792.6 1731.3,792.9 1732.3,792.2 1733.3,793.0 1734.3,792.3 1735.3,792.2 1736.3,792.4 1737.3,792.2 1738.3,791.6 1739.2,791.5 1740.2,791.1 1740.3,791.6 1741.2,791.4 1741.3,790.7 1742.2,790.4 1742.3,791.4 1743.2,791.1 1743.3,790.4 1744.2,790.0 1745.2,789.2 1746.2,788.6 1747.2,787.4 1747.3,787.6 1748.2,786.4 1748.3,786.5 1751.5,777.8 1756.5,742.1 1756.7,741.8 1757.3,742.8 1762.5,780.1 1764.2,785.4 1764.3,785.0 1767.2,788.7 1767.3,788.4 1768.2,789.0 1768.5,789.8 1773.2,791.6 1774.2,792.1 1774.3,791.5 1775.3,792.6 1776.3,791.7 1777.3,792.8 1778.3,792.0 1779.3,792.9 1780.3,792.3 1781.3,792.2 1783.3,793.3 1786.3,793.6 1787.3,792.5 1788.3,792.9 1789.3,792.7 1790.3,793.5 1791.3,793.1 1792.3,793.5 1794.3,793.9 1795.3,793.5 1796.3,793.8 1798.3,792.8 1799.3,793.8 1800.3,792.9 1801.3,792.9 1802.3,793.8 1803.3,793.1 1804.3,793.6 1805.3,792.9 1806.3,793.1 1807.3,793.7 1808.3,792.9 1810.3,794.0 1811.3,793.1 1812.3,793.7 1814.3,793.6 1815.3,793.8 1816.3,793.8 1817.3,792.9 1819.3,793.6 1820.3,794.1 1821.3,793.2 1822.3,793.6 1823.3,793.1 1824.3,794.0 1825.3,793.5 1827.3,793.8 1828.3,793.1 1829.3,793.8 1831.3,794.0 1832.3,793.3 1834.3,793.2 1835.3,794.1 1836.3,793.5 1839.3,793.8 1840.3,793.4 1841.3,793.4 1842.3,793.9 1843.3,793.9 1844.3,793.3 1845.3,793.0 1846.3,794.1 1849.3,793.4 1850.3,794.1 1851.3,793.4 1853.3,793.0 1855.3,793.6 1856.3,793.3 1857.3,794.0 1859.3,793.4 1860.3,793.6 1863.2,793.5 1866.2,793.2 1866.3,793.6 1867.2,793.5 1867.3,792.8 1868.2,792.7 1868.3,793.4 1869.2,793.3 1869.3,792.7 1870.2,792.7 1870.3,793.3 1871.2,793.2 1871.3,792.2 1872.2,792.1 1872.3,792.6 1874.2,792.1 1874.3,792.4 1875.2,792.2 1875.3,791.5 1877.2,790.7 1878.2,789.8 1878.3,790.3 1880.2,788.4 1881.2,786.3 1883.2,784.1 1883.3,784.9 1884.2,784.5 1884.3,783.9 1885.2,784.4 1886.2,785.6 1886.3,785.4 1887.2,786.7 1889.2,789.8 1890.2,790.5 1890.3,789.8 1891.2,790.4 1891.5,791.1 1893.2,791.9 1893.3,791.4 1894.2,791.7 1894.3,792.6 1895.2,792.8 1895.3,792.3 1897.2,792.6 1897.5,793.0 1900.2,793.1 1900.3,793.6 1901.2,793.6 1901.3,793.2 1902.2,793.3 1903.2,793.1 1903.3,792.8 1904.2,792.8 1904.3,793.4 1905.2,793.5 1906.2,793.3 1906.7,793.5 1908.3,792.9 1911.3,793.1 1912.3,794.0 1914.3,793.3 1915.3,793.9 1916.3,793.8 1917.3,793.1 1918.3,794.0 1919.3,793.3 1920.3,794.3 1921.3,793.3 1923.3,793.4 1924.3,794.1 1926.3,793.8 1927.3,793.3 1929.3,794.0 1930.3,793.2 1931.3,794.2 1933.3,794.3 1935.3,793.9 1936.3,794.3 1937.3,793.5 1938.3,793.5 1939.3,793.3 1940.3,793.4 1941.3,794.1 1942.3,793.3 1943.3,794.1 1944.3,793.6 1945.3,794.2 1947.3,794.0 1948.3,794.2 1949.3,793.2 1954.3,794.2 1955.3,794.1 1956.3,794.3 1958.3,793.6 1961.3,794.1 1962.3,793.6 1963.3,793.6 1964.3,793.9 1965.3,793.4 1966.3,794.2 1967.3,793.1 1968.3,793.9 1970.3,793.3 1971.3,793.7 1972.3,793.6 1973.3,794.1 1974.3,794.0 1975.3,793.6 1976.3,793.9 1977.3,793.8 1978.3,792.9 1979.3,793.6 1981.3,793.5 1984.3,791.7 1985.3,791.9 1986.3,790.9 1987.3,791.1 1988.3,790.5 1989.3,790.7 1990.3,790.3 1991.3,790.5 1992.3,791.7 1994.3,792.0 1995.3,792.5 1996.3,792.6 1997.3,793.1 1999.3,793.0 2000.3,793.9 2002.3,793.8 2003.3,793.3 2004.3,793.2 2005.3,793.9 2006.3,794.0 2007.3,793.9 2008.3,793.4 2009.3,794.0 2011.3,793.6 2012.3,793.9 2013.3,793.7 2016.3,794.4 2017.3,793.4 2019.3,794.4 2020.3,794.0 2021.3,793.9 2022.3,794.3 2023.3,793.3 2024.3,794.2 2026.3,794.0 2027.3,793.6 2028.3,794.0 2029.3,793.4 2030.3,793.9 2031.3,793.6 2032.3,794.4 2034.3,793.9 2035.3,794.2 2036.3,793.7 2037.3,793.9 2038.3,793.5 2039.3,794.3 2041.3,794.2 2042.3,793.4 2043.3,794.3 2044.3,793.3 2045.3,794.0 2046.3,793.9 2047.3,793.4 2049.3,794.3 2051.3,793.7 2052.3,794.3 2053.3,793.7 2054.3,794.3 2056.3,793.4 2057.3,794.4 2058.3,793.3 2059.3,793.6 2060.3,794.2 2061.3,793.4 2063.3,794.3 2065.3,793.6 2066.3,794.1 2067.3,794.2 2068.3,793.9 2069.3,793.9 2070.3,793.5 2071.3,793.6 2072.3,794.3 2073.3,794.3 2074.3,793.1 2076.3,793.3 2077.3,794.0 2078.2,793.9 2078.3,793.2 2080.2,793.1 2080.3,793.8 2081.2,793.8 2081.3,793.1 2082.2,793.0 2082.3,794.0 2083.2,794.0 2083.3,793.3 2084.2,793.3 2084.3,793.8 2086.2,793.6 2086.3,792.8 2087.2,792.7 2087.3,793.4 2088.2,793.3 2088.3,792.9 2089.2,792.8 2090.2,792.4 2091.2,792.0 2091.3,792.8 2092.2,792.6 2093.2,792.2 2094.2,791.6 2094.3,792.2 2095.2,791.9 2095.3,791.0 2096.2,790.6 2096.3,790.9 2097.2,790.3 2098.2,789.2 2098.3,789.4 2099.2,788.6 2099.3,789.1 2100.2,788.1 2101.2,786.4 2103.2,783.1 2103.3,783.5 2104.2,782.3 2105.2,781.1 2105.3,781.8 2106.2,781.9 2106.3,780.9 2107.2,781.6 2107.4,782.9 2108.2,783.9 2108.3,783.7 2110.2,786.8 2110.3,786.4 2111.2,787.5 2111.3,787.3 2113.2,789.3 2113.4,790.0 2114.2,790.6 2114.3,789.9 2116.2,791.0 2116.3,791.9 2120.2,793.0 2120.3,792.7 2121.2,792.9 2121.4,793.3 2122.2,793.4 2123.2,793.3 2124.2,793.2 2125.2,793.2 2125.3,792.7 2127.2,792.9 2128.2,793.2 2129.2,793.5 2129.3,793.1 2130.2,793.1 2130.3,794.1 2131.2,794.2 2131.3,793.7 2132.2,793.7 2133.2,794.0 2133.3,794.1 2134.3,793.4 2135.3,794.2 2136.3,794.3 2137.3,793.5 2138.3,793.4 2139.3,794.2 2141.3,794.2 2142.3,793.8 2143.3,794.0 2144.3,793.4 2146.3,793.8 2147.3,794.2 2148.3,793.5 2149.3,794.5 2150.3,793.4 2151.3,794.5 2152.3,793.7 2153.3,794.4 2155.3,794.6 2156.3,794.0 2157.3,794.3 2158.3,793.8 2159.3,794.4 2160.3,793.6 2161.3,794.5 2162.3,794.2 2163.3,793.5 2164.3,794.6 2165.3,793.8 2166.3,793.6 2167.3,793.8 2168.3,793.5 2171.3,794.7 2172.3,794.3 2173.3,794.5 2175.3,794.4 2178.3,793.7 2179.3,794.2 2180.3,793.8 2181.3,794.4"/>
<polyline fill="none" stroke="#ff0000" stroke-width="4.8" stroke-linejoin="round" points="167.3,1170.7 168.3,1170.5 169.3,1170.9 171.3,1170.5 173.3,1171.5 175.3,1171.3 176.3,1170.7 177.3,1171.0 180.3,1170.5 181.3,1170.7 182.3,1171.5 185.3,1171.4 186.3,1170.6 190.3,1171.4 191.3,1171.5 192.3,1170.5 193.3,1171.1 194.3,1171.2 196.3,1170.6 197.3,1171.0 198.3,1170.5 199.3,1171.5 200.3,1171.4 202.3,1170.8 203.3,1171.5 204.3,1171.1 205.3,1171.5 206.3,1171.4 207.3,1171.0 208.3,1170.9 209.3,1171.1 211.3,1170.6 212.3,1170.8 213.3,1171.4 214.3,1170.5 215.3,1170.5 216.3,1171.2 217.3,1170.7 218.3,1171.1 220.3,1170.8 221.3,1171.6 222.3,1170.6 223.3,1170.9 224.3,1170.7 225.3,1171.2 226.3,1170.7 227.3,1170.8 228.3,1171.3 229.3,1170.8 231.3,1171.5 232.3,1170.5 233.3,1170.5 234.3,1170.7 235.3,1171.3 236.3,1171.2 237.3,1170.7 238.3,1170.8 239.3,1170.6 240.3,1171.0 241.3,1170.5 242.3,1171.3 244.3,1171.6 245.3,1171.3 246.3,1171.6 247.3,1170.4 248.3,1170.8 249.3,1171.6 251.3,1170.9 252.3,1171.6 253.3,1171.2 254.3,1171.4 255.3,1170.8 256.3,1170.6 257.3,1171.0 258.3,1170.6 259.3,1170.9 260.3,1171.6 261.3,1170.8 262.3,1170.4 264.3,1170.6 265.3,1171.4 266.3,1170.9 268.3,1170.5 269.3,1171.6 270.3,1170.9 272.3,1170.5 274.3,1170.6 275.3,1171.2 276.3,1170.6 277.3,1170.5 278.3,1171.0 279.3,1170.7 280.3,1171.6 281.3,1170.6 283.3,1171.4 284.3,1170.9 285.3,1171.6 286.3,1171.0 287.3,1170.7 288.3,1170.9 289.3,1170.5 290.3,1170.9 291.3,1170.7 292.3,1171.5 293.3,1171.4 295.3,1170.5 296.3,1170.7 299.3,1170.7 300.3,1171.5 301.3,1170.6 302.3,1170.5 303.3,1171.5 304.3,1171.1 305.3,1171.6 306.3,1170.9 307.3,1171.5 308.3,1171.2 310.3,1171.3 312.3,1170.5 313.3,1170.7 314.3,1171.5 316.3,1171.5 317.3,1170.8 319.3,1171.4 320.3,1171.2 321.3,1171.4 322.3,1171.1 324.3,1171.3 325.3,1170.8 326.3,1171.5 327.3,1171.6 328.3,1170.5 329.3,1171.6 330.3,1171.6 331.3,1171.2 332.3,1170.5 333.3,1171.5 334.3,1170.6 335.3,1171.6 336.3,1171.2 337.3,1170.5 338.3,1170.6 339.3,1171.2 340.3,1171.1 342.3,1171.6 343.3,1170.7 344.3,1170.4 345.3,1171.5 346.3,1170.5 347.3,1171.5 348.3,1170.6 349.3,1171.4 351.3,1171.5 352.3,1171.1 353.3,1171.5 354.3,1170.7 355.3,1171.3 356.3,1170.8 357.3,1171.5 359.3,1171.0 360.3,1171.1 361.3,1170.5 362.3,1170.5 363.3,1171.2 364.3,1171.0 365.3,1171.5 367.3,1170.6 369.3,1171.4 370.3,1171.1 371.3,1170.5 372.3,1171.5 373.3,1171.4 374.3,1170.6 375.3,1171.1 376.3,1170.9 377.3,1171.4 378.3,1170.8 379.3,1170.7 380.3,1171.0 381.3,1171.6 382.3,1170.6 383.3,1170.6 384.3,1171.2 385.3,1171.5 386.3,1171.1 387.3,1171.0 388.3,1171.5 389.3,1171.4 390.3,1170.5 391.3,1171.5 392.3,1170.7 393.3,1170.8 394.3,1171.5 395.3,1171.0 396.3,1171.4 397.3,1170.7 398.3,1171.5 399.3,1170.7 400.3,1170.6 401.3,1171.0 402.3,1170.9 404.3,1171.5 405.3,1171.3 406.3,1170.5 408.3,1171.1 409.3,1171.0 410.3,1171.3 412.3,1170.5 413.3,1170.8 414.3,1171.5 415.3,1170.9 417.3,1171.6 418.3,1171.2 420.3,1171.2 421.3,1170.8 422.3,1171.6 423.3,1171.0 424.3,1171.6 425.3,1170.8 426.3,1171.5 429.3,1171.0 430.3,1170.6 431.3,1171.4 432.3,1170.9 433.3,1171.3 434.3,1170.6 436.3,1170.6 437.3,1171.4 438.3,1170.7 439.3,1171.5 440.3,1170.9 441.3,1171.2 442.3,1170.9 443.3,1171.2 444.3,1170.6 445.3,1170.9 446.3,1171.6 447.3,1170.7 448.3,1171.3 449.3,1170.9 450.3,1170.8 451.3,1170.5 452.3,1170.5 453.3,1171.6 456.3,1171.4 457.3,1171.6 458.3,1170.7 459.3,1171.2 461.3,1171.2 462.3,1171.6 463.3,1171.4 464.3,1171.6 465.3,1170.6 466.3,1171.3 468.3,1171.4 469.3,1171.2 470.3,1171.5 471.3,1170.8 472.3,1171.6 473.3,1171.0 475.3,1171.5 477.3,1170.8 479.3,1170.9 481.3,1171.7 482.3,1171.6 483.3,1171.0 484.3,1171.0 485.3,1171.5 486.3,1170.8 487.3,1171.0 488.3,1170.5 491.3,1171.3 493.3,1170.9 494.3,1171.6 496.3,1170.7 497.3,1170.6 498.3,1171.6 500.3,1171.6 503.3,1170.6 504.3,1170.8 505.3,1170.7 506.3,1171.6 508.3,1171.4 509.3,1170.7 512.3,1170.8 513.3,1171.6 514.3,1170.7 515.3,1171.4 517.3,1171.1 518.3,1171.6 519.3,1170.8 520.3,1171.1 521.3,1170.7 523.3,1170.5 524.3,1170.9 526.3,1170.6 527.3,1171.7 528.3,1170.8 529.3,1171.6 530.3,1171.3 532.3,1171.3 533.3,1171.6 536.3,1171.2 538.3,1171.4 540.3,1171.1 541.3,1170.7 542.3,1171.5 544.3,1170.6 545.3,1170.7 546.3,1171.5 547.3,1170.8 550.3,1171.5 551.3,1170.9 553.3,1171.0 554.3,1170.5 555.3,1171.5 556.3,1170.5 557.3,1171.6 558.3,1170.7 559.3,1170.7 560.3,1171.5 561.3,1171.5 562.3,1170.8 563.3,1171.2 564.3,1171.1 565.3,1171.4 566.3,1170.7 567.3,1171.5 568.3,1171.7 569.3,1171.3 571.3,1171.6 572.3,1170.9 573.3,1171.5 574.3,1171.5 575.3,1171.2 576.3,1170.6 578.3,1171.6 579.3,1170.9 581.3,1171.6 582.3,1171.2 583.3,1170.5 584.3,1171.3 585.3,1170.8 586.3,1171.5 588.3,1170.9 589.3,1171.6 591.3,1170.9 592.3,1171.5 595.3,1171.6 596.3,1171.3 599.3,1171.1 600.3,1171.7 601.3,1170.9 602.3,1170.6 603.3,1171.4 604.3,1171.1 606.3,1171.2 607.3,1170.8 609.3,1170.6 610.3,1171.4 611.3,1171.6 612.3,1171.3 613.3,1170.6 614.3,1171.7 616.3,1171.1 617.3,1170.5 618.3,1171.5 619.3,1171.2 620.3,1171.2 621.3,1170.5 622.3,1171.4 623.3,1170.5 624.3,1171.1 625.3,1170.7 626.3,1170.9 627.3,1171.6 628.3,1171.4 629.3,1171.5 630.3,1170.9 632.3,1171.2 633.3,1170.5 635.3,1171.7 636.3,1171.4 637.3,1171.5 638.3,1170.9 639.3,1171.3 641.3,1171.3 644.3,1170.5 645.3,1171.6 646.3,1171.6 647.3,1170.8 648.3,1171.4 649.3,1171.0 651.3,1171.5 652.3,1170.9 653.3,1171.2 654.3,1170.8 655.3,1171.1 656.3,1170.5 657.3,1170.8 658.3,1170.8 659.3,1171.6 660.3,1170.7 661.3,1171.4 662.3,1170.6 663.3,1171.7 664.3,1170.7 666.3,1170.8 667.3,1171.6 668.3,1171.3 669.3,1171.6 671.3,1170.6 673.3,1171.1 674.3,1171.7 675.3,1170.7 676.3,1170.8 677.3,1171.5 678.3,1170.6 679.3,1171.7 680.3,1170.9 683.3,1171.6 684.3,1170.6 685.3,1171.5 686.3,1170.7 687.3,1171.4 688.3,1170.5 689.3,1171.4 690.3,1170.7 692.3,1170.5 693.3,1170.9 694.3,1170.9 695.3,1171.7 697.3,1170.9 698.3,1171.7 699.3,1170.7 700.3,1170.8 701.3,1171.7 702.3,1171.6 703.3,1171.3 704.3,1171.7 705.3,1170.6 706.3,1171.6 708.3,1171.3 709.3,1171.5 710.3,1170.6 712.3,1170.7 713.3,1171.1 715.3,1171.1 716.3,1170.9 717.3,1171.4 719.3,1171.4 720.3,1170.5 723.3,1170.8 724.3,1171.2 725.3,1170.7 726.3,1171.2 727.3,1170.9 728.3,1170.9 730.3,1171.6 731.3,1170.7 732.3,1170.9 733.3,1171.7 734.3,1170.8 735.3,1170.5 736.3,1170.7 737.3,1171.5 738.3,1171.4 739.3,1171.6 741.3,1170.5 743.3,1171.4 745.3,1170.7 747.3,1171.0 749.3,1171.0 751.3,1170.5 752.3,1171.4 753.3,1171.4 755.3,1170.6 758.3,1171.6 759.3,1171.1 760.3,1171.6 762.3,1170.7 763.3,1171.2 766.3,1171.3 767.3,1170.5 769.3,1171.4 770.3,1170.6 771.3,1170.5 774.3,1171.0 775.3,1170.8 776.3,1171.2 777.3,1170.7 779.3,1171.3 780.3,1171.1 781.3,1171.6 782.3,1171.6 783.3,1170.8 786.3,1171.1 787.3,1170.9 788.3,1171.5 789.3,1170.7 790.3,1171.0 791.3,1170.6 792.3,1171.5 793.3,1171.1 794.3,1171.6 795.3,1170.6 796.3,1171.3 797.3,1171.1 798.3,1170.5 799.3,1171.4 800.3,1171.5 801.3,1170.5 802.3,1171.5 805.3,1171.1 807.3,1170.5 809.3,1171.4 810.3,1170.6 811.3,1170.9 812.3,1170.7 814.3,1171.5 815.3,1171.4 816.3,1170.7 817.3,1170.8 818.3,1170.3 820.3,1171.4 821.3,1171.3 822.3,1170.4 823.3,1170.8 824.3,1170.4 826.3,1171.4 827.3,1170.6 828.3,1171.3 829.3,1171.4 830.3,1171.2 831.3,1170.5 832.3,1171.3 834.3,1171.4 835.3,1170.2 836.3,1170.2 838.3,1170.8 839.3,1170.6 840.3,1170.2 841.3,1170.9 845.3,1170.7 846.3,1170.8 847.3,1170.0 848.3,1170.4 849.3,1170.0 850.3,1170.0 851.3,1170.7 852.3,1170.1 854.3,1170.0 855.3,1170.3 856.3,1169.7 857.3,1170.2 858.3,1169.4 859.3,1170.4 860.3,1169.3 861.3,1169.9 864.3,1168.8 865.3,1168.7 866.3,1168.8 868.3,1167.8 869.3,1166.9 870.3,1166.6 872.1,1164.3 872.4,1164.3 874.1,1161.1 876.4,1150.8 877.9,1131.9 880.9,1016.7 881.1,1014.1 881.6,1024.3 884.4,1131.9 886.6,1154.8 890.1,1164.2 892.3,1166.4 893.3,1166.5 894.3,1167.6 895.3,1167.9 896.3,1167.5 897.3,1168.3 898.3,1167.7 899.3,1167.7 900.3,1168.8 901.3,1167.6 902.3,1167.6 903.3,1168.5 904.3,1167.4 905.3,1168.1 906.3,1167.8 907.3,1167.2 908.3,1166.9 909.3,1167.5 910.3,1166.4 911.3,1165.7 913.3,1164.9 915.3,1162.0 916.3,1161.2 919.5,1150.1 920.0,1147.3 920.3,1146.8 922.3,1123.2 923.8,1076.4 926.5,835.7 926.8,830.0 927.0,835.7 930.0,1087.4 932.0,1134.7 934.0,1151.5 936.0,1158.7 938.3,1162.7 941.3,1165.6 942.3,1166.1 944.3,1167.8 946.3,1168.7 947.3,1168.3 949.3,1169.4 950.3,1169.0 951.3,1169.8 952.3,1169.0 953.3,1170.1 955.3,1170.4 957.3,1170.3 958.3,1170.0 960.3,1170.7 961.3,1170.4 962.3,1170.5 963.3,1170.9 964.3,1170.2 965.3,1170.3 966.3,1170.0 967.3,1171.0 968.3,1170.8 969.3,1170.9 970.3,1170.4 971.3,1170.3 973.3,1171.2 974.3,1170.6 976.3,1170.7 977.3,1171.3 978.3,1170.4 979.3,1171.3 980.3,1170.3 981.3,1171.2 982.3,1171.3 983.3,1170.9 984.3,1171.3 985.3,1170.7 986.3,1170.6 987.3,1170.8 988.3,1170.7 989.3,1171.3 990.3,1171.1 991.3,1171.2 992.3,1171.6 993.3,1171.4 996.3,1171.6 998.3,1170.9 1000.3,1171.4 1002.3,1171.6 1004.3,1171.3 1005.3,1170.8 1006.3,1171.2 1007.3,1170.7 1008.3,1171.2 1009.3,1170.6 1010.3,1170.4 1011.3,1171.5 1012.3,1171.4 1013.3,1170.7 1014.3,1170.4 1015.3,1171.3 1016.3,1171.2 1017.3,1170.4 1018.3,1171.2 1019.3,1171.1 1022.3,1169.9 1023.3,1169.8 1025.3,1170.3 1026.3,1169.9 1027.3,1169.1 1028.2,1168.7 1028.3,1169.4 1029.2,1168.9 1029.3,1167.9 1030.2,1167.2 1030.3,1167.8 1031.2,1166.7 1033.5,1160.7 1034.7,1153.3 1037.5,1105.8 1037.7,1104.6 1038.5,1113.3 1041.0,1155.2 1043.2,1165.4 1043.3,1164.9 1044.2,1166.5 1045.2,1168.0 1045.3,1167.4 1047.2,1168.8 1047.3,1168.7 1048.3,1170.0 1049.3,1169.7 1050.3,1170.4 1051.3,1170.8 1052.3,1170.4 1053.3,1170.3 1055.3,1170.8 1056.3,1170.8 1057.3,1170.5 1058.3,1171.5 1059.3,1171.3 1060.3,1171.6 1062.3,1171.5 1063.3,1171.6 1065.3,1171.2 1066.3,1171.7 1067.3,1171.8 1068.3,1170.9 1070.3,1171.0 1072.3,1171.9 1073.3,1171.5 1074.3,1171.9 1075.3,1171.3 1076.3,1171.6 1077.3,1171.2 1078.3,1171.7 1080.3,1170.9 1081.3,1171.4 1083.3,1172.0 1084.3,1171.3 1085.3,1172.1 1086.3,1171.9 1087.3,1171.2 1088.3,1171.9 1090.3,1172.1 1092.3,1171.5 1094.3,1171.8 1095.3,1171.8 1096.3,1171.3 1097.3,1172.1 1099.3,1171.1 1100.3,1171.4 1101.3,1171.1 1102.3,1171.6 1103.3,1171.2 1104.3,1171.7 1105.3,1171.4 1106.3,1172.1 1107.3,1172.0 1108.3,1171.3 1109.3,1172.1 1111.3,1171.4 1112.3,1172.2 1113.3,1171.1 1115.3,1171.8 1116.3,1171.3 1118.3,1172.2 1119.3,1171.5 1120.3,1172.0 1121.3,1171.4 1122.3,1172.3 1123.3,1172.3 1124.3,1171.3 1125.3,1172.1 1127.3,1171.2 1128.3,1171.4 1129.3,1172.0 1130.3,1171.7 1131.3,1171.8 1132.3,1171.3 1135.3,1171.8 1136.3,1172.2 1137.3,1171.7 1138.3,1171.6 1139.3,1172.3 1140.3,1172.0 1142.3,1172.2 1145.3,1171.4 1146.3,1172.0 1149.3,1172.3 1150.3,1171.8 1151.3,1171.8 1152.3,1172.4 1153.3,1171.4 1155.3,1171.9 1157.3,1172.0 1158.3,1171.5 1159.3,1171.9 1160.3,1171.5 1161.3,1171.7 1162.3,1171.5 1164.3,1172.0 1166.3,1171.5 1168.3,1172.1 1169.3,1171.7 1171.3,1171.8 1172.3,1172.1 1173.3,1171.4 1174.3,1172.1 1175.3,1171.4 1176.3,1172.4 1177.3,1171.6 1178.3,1172.3 1179.3,1171.4 1180.3,1171.9 1181.3,1171.6 1182.3,1172.3 1183.3,1172.3 1184.3,1171.5 1185.3,1171.4 1186.3,1172.2 1187.3,1171.9 1190.3,1171.8 1191.3,1172.1 1193.3,1171.5 1195.3,1172.6 1197.3,1172.2 1198.3,1172.5 1199.3,1171.9 1200.3,1171.8 1201.3,1172.3 1202.3,1171.5 1203.3,1172.3 1204.3,1171.6 1205.3,1172.2 1206.3,1172.0 1207.3,1172.3 1208.3,1171.5 1209.3,1172.2 1210.3,1172.4 1211.3,1171.5 1212.3,1172.2 1213.3,1171.8 1214.3,1172.3 1215.3,1172.6 1216.3,1171.4 1217.3,1171.9 1218.3,1172.0 1219.3,1172.6 1220.3,1172.6 1221.3,1171.5 1223.3,1171.9 1224.3,1172.4 1225.3,1172.4 1226.3,1172.1 1227.3,1172.6 1229.3,1172.5 1231.3,1171.8 1232.3,1172.4 1233.3,1172.3 1234.3,1172.6 1235.3,1171.7 1236.3,1171.5 1237.3,1171.9 1238.3,1171.8 1239.3,1172.0 1240.3,1171.6 1241.3,1172.2 1244.3,1171.6 1245.3,1172.2 1246.3,1171.6 1247.3,1172.6 1248.3,1171.9 1249.3,1172.6 1250.3,1171.7 1252.3,1172.5 1254.3,1172.1 1255.3,1172.6 1256.3,1171.7 1257.3,1172.6 1259.3,1171.9 1261.3,1171.9 1262.3,1172.3 1263.3,1172.1 1266.3,1172.6 1267.3,1172.4 1268.3,1171.9 1269.3,1172.4 1271.3,1172.7 1272.3,1172.0 1274.3,1172.5 1275.3,1172.0 1276.3,1172.0 1277.3,1172.3 1278.3,1172.0 1279.3,1172.6 1280.3,1172.0 1281.3,1171.9 1282.3,1172.3 1283.3,1172.3 1284.3,1172.8 1285.3,1172.7 1286.3,1172.1 1288.3,1172.4 1289.3,1172.2 1290.3,1172.3 1291.3,1172.1 1292.3,1172.6 1295.3,1172.5 1296.3,1172.7 1297.3,1171.9 1298.3,1172.8 1299.3,1171.9 1300.3,1171.7 1301.3,1172.2 1302.3,1171.8 1303.3,1171.9 1304.3,1172.4 1305.3,1171.8 1306.3,1172.1 1307.3,1172.1 1308.3,1172.8 1309.3,1171.7 1310.3,1172.2 1311.3,1172.2 1312.3,1171.8 1317.3,1172.3 1319.3,1172.2 1320.3,1172.4 1321.3,1172.2 1322.3,1171.8 1323.3,1172.4 1324.3,1172.1 1325.3,1172.6 1326.3,1171.8 1327.3,1172.3 1328.3,1172.0 1330.3,1172.6 1332.3,1172.3 1333.3,1172.7 1334.3,1171.8 1335.3,1172.8 1336.3,1172.1 1337.3,1172.3 1338.3,1171.7 1339.3,1171.6 1340.3,1171.7 1341.3,1172.2 1342.3,1171.8 1343.3,1172.4 1344.3,1171.7 1345.3,1172.2 1346.3,1172.5 1347.3,1172.2 1348.3,1172.5 1350.3,1172.4 1351.3,1171.3 1352.3,1171.9 1353.3,1171.6 1355.3,1172.0 1356.3,1171.9 1357.3,1171.2 1359.3,1170.9 1360.3,1171.6 1361.3,1171.6 1362.3,1170.6 1365.2,1170.0 1365.3,1171.0 1366.2,1170.8 1366.3,1169.6 1367.2,1169.3 1367.3,1169.9 1368.2,1169.5 1368.3,1169.8 1369.2,1169.3 1369.3,1168.4 1370.2,1167.7 1370.3,1168.3 1371.2,1167.4 1372.2,1165.7 1372.3,1166.0 1374.2,1161.4 1375.2,1157.2 1375.3,1157.9 1379.5,1125.4 1380.0,1124.3 1380.2,1124.6 1380.3,1124.3 1383.2,1147.9 1386.5,1164.0 1387.2,1165.5 1387.3,1165.0 1388.2,1166.5 1390.2,1168.7 1390.3,1168.1 1391.2,1168.7 1391.3,1169.3 1392.2,1169.7 1392.3,1170.2 1393.2,1170.6 1393.3,1170.2 1394.2,1170.5 1394.3,1170.8 1395.2,1171.0 1395.3,1170.2 1396.0,1170.3 1396.3,1170.8 1398.3,1171.3 1399.3,1171.8 1400.3,1171.5 1403.3,1172.0 1406.3,1171.7 1407.3,1172.4 1408.3,1171.8 1409.3,1172.3 1410.3,1171.8 1411.3,1172.7 1412.3,1171.8 1413.3,1172.1 1414.3,1172.0 1415.3,1172.7 1416.3,1172.5 1417.3,1172.0 1418.3,1172.0 1419.3,1172.6 1421.3,1171.9 1422.3,1171.9 1423.3,1172.6 1424.3,1172.5 1425.3,1172.7 1426.3,1171.9 1427.3,1172.4 1428.3,1172.0 1429.3,1172.5 1430.3,1172.1 1431.3,1172.1 1432.3,1172.5 1433.3,1172.0 1434.3,1172.8 1435.3,1172.0 1436.3,1172.2 1437.3,1172.8 1438.3,1172.2 1439.3,1172.2 1440.3,1172.8 1441.3,1172.5 1444.3,1173.0 1445.3,1172.0 1446.3,1172.4 1447.3,1172.4 1448.3,1172.2 1449.3,1172.9 1450.3,1172.4 1451.3,1173.0 1452.3,1172.0 1455.3,1172.9 1456.3,1172.5 1457.3,1173.0 1458.3,1172.3 1459.3,1172.3 1461.3,1172.1 1463.3,1172.8 1464.3,1172.2 1465.3,1172.5 1466.3,1172.4 1467.3,1173.1 1468.3,1172.5 1469.3,1172.9 1470.3,1172.2 1471.3,1173.0 1472.3,1172.0 1473.3,1172.1 1474.3,1172.7 1477.3,1172.7 1478.3,1172.4 1479.3,1172.7 1480.3,1172.4 1482.3,1172.8 1483.3,1172.3 1484.3,1172.8 1486.3,1173.1 1487.3,1172.0 1488.3,1172.4 1489.3,1172.1 1490.3,1172.1 1492.3,1172.9 1493.3,1172.1 1494.3,1172.9 1496.3,1173.1 1497.3,1172.8 1498.3,1172.2 1499.3,1172.8 1501.3,1172.2 1502.3,1172.9 1503.3,1172.3 1504.3,1172.9 1505.3,1173.0 1506.3,1172.4 1507.3,1172.1 1508.3,1172.9 1509.3,1172.1 1510.3,1172.0 1511.3,1172.9 1512.3,1172.2 1514.3,1172.3 1515.3,1172.7 1516.3,1172.1 1517.3,1172.2 1518.3,1171.9 1519.3,1172.1 1520.3,1172.7 1522.3,1172.5 1523.3,1172.8 1524.3,1171.8 1526.3,1172.4 1527.3,1172.1 1528.3,1172.8 1529.3,1171.9 1530.3,1172.7 1532.3,1172.3 1533.3,1172.5 1534.3,1171.8 1536.3,1171.7 1537.3,1171.9 1539.0,1171.7 1540.0,1171.3 1541.0,1171.2 1543.0,1170.3 1543.3,1169.4 1544.0,1168.9 1544.3,1169.5 1545.0,1168.8 1547.0,1164.8 1549.0,1157.1 1551.3,1142.8 1551.8,1141.9 1552.3,1142.4 1556.3,1164.7 1557.0,1166.5 1557.3,1166.3 1559.0,1168.7 1560.0,1169.3 1560.3,1170.0 1562.0,1171.0 1562.3,1170.4 1563.0,1170.6 1563.3,1171.4 1564.0,1171.6 1564.3,1170.7 1566.3,1171.1 1567.3,1172.1 1568.3,1171.4 1569.3,1172.2 1570.3,1171.7 1571.3,1171.8 1572.3,1171.7 1573.3,1172.6 1574.3,1172.1 1575.3,1172.8 1578.3,1172.3 1580.3,1172.5 1581.3,1173.0 1582.3,1172.1 1583.3,1172.0 1584.3,1173.0 1585.3,1172.7 1587.3,1172.4 1588.3,1171.9 1589.3,1172.2 1590.3,1172.9 1591.3,1172.2 1592.3,1172.7 1595.3,1172.0 1596.3,1172.0 1597.3,1172.8 1598.3,1172.2 1599.3,1172.6 1601.3,1172.9 1602.3,1172.2 1604.3,1172.9 1606.3,1172.6 1609.3,1173.0 1611.3,1172.1 1612.3,1172.2 1613.3,1172.8 1614.3,1172.8 1615.3,1172.5 1616.3,1172.8 1617.3,1172.3 1619.3,1172.5 1621.3,1173.2 1622.3,1172.4 1623.3,1172.1 1624.3,1172.5 1625.3,1173.1 1626.3,1173.2 1627.3,1172.1 1629.3,1172.6 1630.3,1173.1 1632.3,1172.5 1633.3,1173.2 1634.3,1172.9 1635.3,1173.1 1636.3,1173.0 1637.3,1173.2 1638.3,1172.9 1639.3,1173.0 1640.3,1172.6 1642.3,1173.2 1644.3,1173.1 1647.3,1172.5 1648.3,1172.5 1649.3,1173.2 1650.3,1172.8 1651.3,1173.0 1652.3,1172.8 1653.3,1172.2 1654.3,1172.6 1655.3,1172.5 1656.3,1173.2 1658.3,1172.5 1659.3,1172.7 1660.3,1173.1 1661.3,1172.7 1662.3,1172.9 1663.3,1172.5 1664.3,1172.6 1665.3,1173.0 1666.3,1172.3 1667.3,1172.8 1669.3,1173.2 1670.3,1172.7 1671.3,1172.8 1672.3,1173.2 1673.3,1173.0 1674.3,1173.1 1676.3,1172.2 1677.3,1173.0 1678.3,1172.1 1679.3,1172.9 1680.3,1172.4 1681.3,1173.0 1685.3,1172.4 1686.3,1173.2 1687.3,1172.7 1688.3,1173.2 1689.3,1172.1 1690.3,1172.0 1692.3,1172.4 1693.3,1173.2 1694.3,1172.1 1696.3,1173.0 1697.3,1172.3 1700.3,1172.0 1701.3,1172.7 1702.3,1172.6 1703.3,1172.2 1704.3,1172.6 1705.3,1172.5 1706.3,1172.8 1707.3,1172.2 1708.3,1172.2 1709.3,1173.0 1710.3,1172.7 1711.3,1172.8 1712.3,1172.3 1713.3,1172.6 1714.3,1172.3 1716.3,1173.0 1717.3,1172.4 1718.3,1172.3 1719.3,1172.6 1721.3,1172.2 1722.3,1171.7 1723.3,1172.7 1724.3,1172.3 1725.3,1172.6 1726.3,1172.0 1727.3,1172.6 1728.3,1172.5 1729.3,1171.7 1730.3,1172.3 1731.3,1171.4 1732.3,1172.1 1733.3,1172.1 1734.3,1172.0 1735.3,1171.4 1736.3,1171.3 1737.3,1171.0 1738.3,1171.7 1739.3,1171.2 1740.3,1171.2 1743.2,1169.9 1743.3,1170.5 1745.2,1169.6 1747.2,1167.6 1747.3,1167.8 1748.2,1166.7 1750.2,1162.0 1750.3,1162.3 1752.5,1151.6 1756.5,1096.9 1756.7,1096.3 1757.5,1101.8 1761.5,1154.4 1764.7,1165.5 1766.2,1167.8 1766.3,1167.0 1767.2,1167.8 1767.3,1169.0 1768.2,1169.6 1768.3,1168.9 1769.2,1169.3 1770.2,1170.0 1770.3,1169.5 1771.3,1170.3 1772.3,1170.7 1773.3,1171.5 1774.3,1170.8 1775.3,1170.8 1776.3,1171.9 1777.3,1172.1 1778.3,1171.7 1779.3,1171.8 1780.3,1172.3 1781.3,1171.9 1783.3,1172.0 1784.3,1171.8 1786.3,1172.0 1787.3,1171.7 1789.3,1172.6 1790.3,1172.7 1791.3,1171.9 1792.3,1172.2 1793.3,1172.8 1794.3,1172.9 1795.3,1172.2 1796.3,1172.0 1797.3,1172.8 1798.3,1172.2 1800.3,1173.0 1801.3,1172.2 1802.3,1172.3 1803.3,1172.6 1804.3,1172.0 1805.3,1172.5 1806.3,1172.6 1807.3,1172.5 1808.3,1172.8 1810.3,1172.7 1811.3,1172.9 1812.3,1172.1 1814.3,1172.3 1815.3,1172.2 1816.3,1173.1 1818.3,1173.1 1819.3,1172.5 1820.3,1173.0 1821.3,1173.1 1822.3,1172.9 1823.3,1173.0 1824.3,1172.8 1825.3,1172.0 1826.3,1172.4 1827.3,1172.3 1828.3,1172.6 1829.3,1172.7 1830.3,1173.1 1831.3,1172.3 1832.3,1173.2 1833.3,1172.2 1834.3,1172.9 1835.3,1172.4 1837.3,1172.7 1838.3,1172.0 1839.3,1172.7 1840.3,1172.8 1841.3,1172.3 1842.3,1172.1 1843.3,1172.7 1844.3,1172.3 1846.3,1172.2 1847.3,1172.6 1849.3,1172.4 1850.3,1172.0 1851.3,1172.1 1852.3,1172.6 1854.3,1172.0 1855.3,1172.8 1857.3,1172.1 1858.3,1172.9 1860.3,1171.8 1861.3,1172.1 1862.3,1171.8 1863.3,1172.5 1865.2,1172.2 1865.3,1171.4 1867.2,1171.2 1867.3,1171.8 1868.2,1171.7 1869.2,1171.3 1869.3,1171.1 1870.2,1170.9 1870.3,1171.1 1871.2,1170.8 1871.3,1170.4 1872.2,1170.0 1872.3,1170.4 1874.2,1169.5 1874.3,1169.9 1875.2,1169.2 1877.2,1166.1 1878.2,1163.3 1878.3,1163.7 1882.2,1148.8 1882.3,1149.4 1882.8,1148.6 1883.2,1148.6 1883.3,1148.4 1887.2,1163.1 1887.3,1162.2 1888.2,1164.6 1888.3,1165.6 1889.2,1167.3 1889.3,1167.0 1891.2,1169.2 1891.3,1168.6 1893.2,1169.8 1893.3,1170.7 1894.2,1171.0 1894.3,1170.5 1895.2,1170.8 1895.3,1171.6 1897.2,1172.0 1897.3,1171.5 1901.0,1172.0 1901.3,1172.3 1902.3,1172.6 1903.3,1171.9 1905.3,1172.1 1906.3,1171.8 1908.3,1172.0 1909.3,1172.7 1910.3,1172.0 1912.3,1173.0 1913.3,1172.4 1914.3,1173.1 1915.3,1172.2 1916.3,1172.4 1917.3,1172.1 1918.3,1172.2 1920.3,1172.9 1921.3,1172.8 1922.3,1172.3 1924.3,1172.1 1926.3,1172.7 1927.3,1172.1 1928.3,1172.2 1929.3,1172.9 1930.3,1172.4 1931.3,1172.1 1932.3,1173.1 1933.3,1172.2 1934.3,1173.0 1935.3,1172.2 1936.3,1173.1 1937.3,1172.7 1939.3,1172.4 1940.3,1173.1 1941.3,1172.6 1942.3,1172.8 1944.3,1172.3 1946.3,1172.4 1947.3,1173.0 1949.3,1173.1 1950.3,1172.5 1951.3,1172.5 1952.3,1173.3 1953.3,1172.7 1954.3,1172.8 1955.3,1172.2 1956.3,1173.0 1958.3,1172.4 1959.3,1172.7 1960.3,1172.3 1963.3,1172.6 1965.3,1172.3 1966.3,1173.1 1968.3,1172.5 1969.3,1172.8 1970.3,1172.1 1973.3,1172.5 1974.3,1172.9 1975.3,1172.4 1976.3,1172.3 1978.3,1172.5 1979.3,1171.9 1980.3,1172.1 1982.3,1170.9 1985.3,1169.8 1986.3,1168.8 1989.3,1167.0 1990.3,1167.6 1991.3,1167.9 1992.3,1168.7 1993.3,1170.3 1995.3,1170.8 1996.3,1171.3 1997.3,1172.2 1998.3,1171.4 1999.3,1172.5 2000.3,1171.7 2001.3,1172.8 2003.3,1172.0 2008.3,1173.0 2009.3,1172.3 2011.3,1173.0 2012.3,1172.3 2013.3,1173.1 2014.3,1172.4 2015.3,1172.8 2017.3,1172.8 2018.3,1173.2 2019.3,1172.3 2020.3,1172.5 2021.3,1173.3 2022.3,1172.9 2023.3,1173.2 2024.3,1172.4 2027.3,1173.1 2029.3,1172.3 2031.3,1173.1 2032.3,1173.2 2033.3,1172.3 2035.3,1173.3 2037.3,1172.9 2038.3,1172.4 2039.3,1172.8 2042.3,1172.8 2043.3,1172.3 2044.3,1173.2 2046.3,1172.4 2047.3,1172.9 2049.3,1172.3 2050.3,1172.9 2051.3,1172.2 2052.3,1173.3 2054.3,1172.5 2055.3,1173.3 2057.3,1172.2 2058.3,1173.0 2059.3,1172.2 2061.3,1172.8 2063.3,1173.2 2064.3,1173.1 2065.3,1172.3 2066.3,1172.7 2067.3,1172.2 2068.3,1172.9 2069.3,1172.5 2070.3,1172.8 2071.3,1172.1 2072.3,1172.6 2073.3,1172.5 2074.3,1172.0 2075.3,1172.7 2076.3,1173.1 2077.3,1172.8 2078.3,1173.0 2079.3,1171.9 2080.3,1172.5 2083.2,1172.1 2083.3,1172.6 2084.2,1172.5 2084.3,1172.0 2085.2,1171.9 2085.3,1171.5 2086.2,1171.5 2086.3,1172.1 2087.2,1172.0 2087.4,1172.3 2088.2,1172.2 2088.3,1171.6 2089.2,1171.5 2089.3,1171.8 2090.2,1171.6 2090.3,1171.0 2091.2,1170.8 2091.3,1171.8 2093.2,1171.3 2093.3,1170.1 2094.2,1169.8 2094.3,1170.5 2095.2,1170.1 2095.3,1170.4 2096.2,1169.9 2096.4,1169.2 2097.2,1168.7 2098.2,1167.2 2098.3,1167.9 2099.2,1166.7 2101.2,1162.6 2103.2,1157.3 2103.3,1157.7 2105.4,1153.2 2106.2,1153.4 2107.2,1155.2 2107.3,1155.1 2108.2,1157.4 2110.2,1163.1 2110.3,1162.5 2111.2,1164.3 2112.2,1166.6 2112.3,1166.0 2113.2,1167.1 2113.4,1168.0 2114.2,1168.7 2114.4,1169.4 2116.2,1170.4 2116.3,1169.8 2117.2,1170.2 2117.3,1171.0 2118.2,1171.3 2118.3,1170.4 2119.2,1170.7 2119.3,1171.3 2121.2,1171.8 2121.3,1170.9 2122.2,1171.1 2123.2,1171.5 2123.4,1171.9 2124.2,1171.9 2124.3,1172.5 2125.2,1172.6 2125.3,1171.6 2126.2,1171.7 2126.4,1172.1 2127.2,1172.1 2127.3,1172.6 2128.2,1172.7 2128.3,1171.8 2128.7,1171.9 2129.3,1172.7 2131.3,1172.7 2132.3,1172.2 2133.3,1172.6 2134.3,1172.1 2135.3,1172.3 2136.3,1172.9 2137.3,1172.1 2138.3,1172.7 2139.3,1172.1 2140.3,1173.0 2141.3,1172.8 2142.3,1172.2 2143.3,1173.2 2144.3,1172.9 2145.3,1172.9 2146.3,1172.2 2147.3,1173.1 2150.3,1172.3 2151.3,1173.1 2152.3,1172.5 2153.3,1173.2 2155.3,1172.7 2156.3,1172.8 2157.3,1172.6 2159.3,1173.3 2161.3,1172.7 2163.3,1173.4 2164.3,1172.5 2166.3,1173.3 2168.3,1172.6 2169.3,1172.5 2170.3,1173.1 2171.3,1173.0 2172.3,1172.4 2175.3,1173.0 2178.3,1172.6 2180.3,1173.3 2181.3,1172.8"/>
<polyline fill="none" stroke="#000000" stroke-width="4.8" stroke-linejoin="round" points="167.3,1425.5 170.3,1425.9 171.3,1425.7 172.3,1425.9 173.3,1424.8 175.3,1425.9 176.3,1425.6 177.3,1425.9 178.3,1424.9 179.3,1425.4 180.3,1425.1 181.3,1425.5 182.3,1425.5 183.3,1424.8 185.3,1425.1 186.3,1425.9 187.3,1425.7 188.3,1425.0 189.3,1425.8 190.3,1425.0 191.3,1425.6 192.3,1425.0 193.3,1424.8 194.3,1425.9 195.3,1425.1 196.3,1425.1 197.3,1426.0 198.3,1425.9 199.3,1425.2 200.3,1426.0 201.3,1425.5 202.3,1425.6 203.3,1425.1 204.3,1425.9 205.3,1425.6 206.3,1426.0 207.3,1425.9 208.3,1425.2 209.3,1425.3 212.3,1424.9 214.3,1425.5 215.3,1424.8 216.3,1425.6 217.3,1425.2 218.3,1425.2 219.3,1425.8 221.3,1425.2 223.3,1425.7 224.3,1424.9 225.3,1426.0 226.3,1424.9 227.3,1425.7 228.3,1425.8 229.3,1424.9 230.3,1425.8 231.3,1425.3 232.3,1425.5 233.3,1424.8 235.3,1425.1 236.3,1426.0 237.3,1425.1 238.3,1425.7 240.3,1426.0 241.3,1425.3 243.3,1425.5 244.3,1425.8 245.3,1425.0 246.3,1425.7 248.3,1425.9 249.3,1424.9 250.3,1426.0 251.3,1425.0 254.3,1425.9 255.3,1425.3 256.3,1426.0 258.3,1425.2 261.3,1424.9 262.3,1425.0 263.3,1425.7 264.3,1426.0 265.3,1425.0 266.3,1424.9 267.3,1426.0 268.3,1425.5 270.3,1425.1 272.3,1425.8 273.3,1425.4 274.3,1425.4 275.3,1424.9 276.3,1426.0 277.3,1424.9 279.3,1425.9 280.3,1425.0 281.3,1425.7 282.3,1426.0 283.3,1425.6 284.3,1425.8 285.3,1425.0 286.3,1425.4 287.3,1425.0 288.3,1425.9 289.3,1425.2 290.3,1425.4 291.3,1426.1 292.3,1425.9 293.3,1426.0 294.3,1425.4 295.3,1425.5 296.3,1425.7 298.3,1425.2 299.3,1425.4 300.3,1425.0 301.3,1425.3 302.3,1426.1 303.3,1426.0 307.3,1425.0 308.3,1425.2 309.3,1425.8 310.3,1425.9 311.3,1425.3 312.3,1425.8 315.3,1425.7 316.3,1425.8 317.3,1425.3 318.3,1425.7 319.3,1425.2 321.3,1425.8 322.3,1425.7 323.3,1425.2 324.3,1426.0 325.3,1425.7 326.3,1425.6 327.3,1424.9 328.3,1425.5 329.3,1425.2 330.3,1425.7 331.3,1425.4 332.3,1425.9 333.3,1425.7 334.3,1425.8 335.3,1425.3 338.3,1425.9 339.3,1425.3 340.3,1425.9 341.3,1425.9 342.3,1425.7 343.3,1426.1 344.3,1426.0 345.3,1425.5 346.3,1425.5 347.3,1425.1 348.3,1425.9 349.3,1426.0 350.3,1425.5 353.3,1425.8 354.3,1425.1 355.3,1425.8 356.3,1425.6 357.3,1425.7 358.3,1425.4 360.3,1425.8 361.3,1425.7 362.3,1425.8 363.3,1424.9 366.3,1425.7 367.3,1425.2 368.3,1425.7 369.3,1425.7 370.3,1425.0 371.3,1425.5 373.3,1425.0 375.3,1425.3 378.3,1425.0 379.3,1425.5 380.3,1425.4 381.3,1425.6 382.3,1425.6 383.3,1425.2 384.3,1426.0 385.3,1424.9 386.3,1425.4 387.3,1425.2 388.3,1425.4 389.3,1425.1 390.3,1425.9 392.3,1425.0 393.3,1425.7 394.3,1425.0 395.3,1425.6 396.3,1425.3 398.3,1426.1 399.3,1425.9 400.3,1425.4 401.3,1425.9 404.3,1425.1 405.3,1425.6 406.3,1425.6 407.3,1426.1 408.3,1426.1 410.3,1425.3 411.3,1426.0 412.3,1424.9 413.3,1425.1 414.3,1425.6 415.3,1425.7 416.3,1425.1 417.3,1425.7 418.3,1426.0 419.3,1425.4 420.3,1425.4 421.3,1425.2 422.3,1425.3 423.3,1426.1 424.3,1425.4 425.3,1426.1 426.3,1426.0 428.3,1425.2 429.3,1426.1 430.3,1425.5 432.3,1425.3 433.3,1426.1 434.3,1425.5 435.3,1425.3 436.3,1425.5 437.3,1425.1 438.3,1425.7 440.3,1425.3 441.3,1425.9 442.3,1425.9 443.3,1425.0 444.3,1425.6 445.3,1425.3 446.3,1426.1 447.3,1425.9 448.3,1425.2 450.3,1425.1 451.3,1426.1 452.3,1425.3 453.3,1425.7 454.3,1425.5 455.3,1425.7 457.3,1425.8 458.3,1425.1 459.3,1425.9 460.3,1425.3 461.3,1425.6 463.3,1425.3 464.3,1425.6 466.3,1425.4 467.3,1425.8 468.3,1425.7 469.3,1425.0 471.3,1425.5 472.3,1426.1 473.3,1426.0 475.3,1425.0 476.3,1425.9 477.3,1425.5 479.3,1425.8 481.3,1425.5 482.3,1426.1 483.3,1425.4 484.3,1425.4 485.3,1426.0 486.3,1425.2 487.3,1425.3 488.3,1426.0 489.3,1425.0 490.3,1426.0 493.3,1425.3 494.3,1425.9 495.3,1426.1 496.3,1425.1 497.3,1425.5 499.3,1425.6 501.3,1425.2 503.3,1425.9 504.3,1425.1 505.3,1425.2 506.3,1426.0 508.3,1425.8 509.3,1425.0 510.3,1425.8 511.3,1426.1 513.3,1426.2 514.3,1425.8 515.3,1425.0 516.3,1426.0 517.3,1425.2 519.3,1426.1 520.3,1425.8 521.3,1425.1 522.3,1425.3 523.3,1426.1 524.3,1425.2 525.3,1425.7 527.3,1425.2 528.3,1425.7 529.3,1425.0 530.3,1425.1 531.3,1425.4 532.3,1425.1 533.3,1425.1 534.3,1425.7 536.3,1426.0 537.3,1425.1 538.3,1425.5 539.3,1425.4 540.3,1425.7 541.3,1425.6 542.3,1426.1 543.3,1425.4 544.3,1425.1 545.3,1425.8 546.3,1425.2 547.3,1425.7 548.3,1425.6 549.3,1426.1 550.3,1425.7 551.3,1425.7 552.3,1425.3 553.3,1425.6 554.3,1425.3 555.3,1425.9 557.3,1425.1 559.3,1425.4 560.3,1425.9 561.3,1425.2 562.3,1425.8 563.3,1425.8 564.3,1425.1 565.3,1425.8 566.3,1425.1 567.3,1425.1 568.3,1425.7 569.3,1425.3 570.3,1426.0 571.3,1425.6 572.3,1425.4 573.3,1425.9 574.3,1425.0 575.3,1425.9 576.3,1425.0 577.3,1425.2 578.3,1426.1 580.3,1425.2 581.3,1425.1 582.3,1426.1 583.3,1425.8 584.3,1426.0 585.3,1425.1 586.3,1425.7 588.3,1425.2 590.3,1425.7 591.3,1425.4 592.3,1425.4 593.3,1425.1 594.3,1426.0 595.3,1425.7 596.3,1425.9 597.3,1425.5 598.3,1426.0 599.3,1425.6 602.3,1425.8 604.3,1425.0 605.3,1424.9 606.3,1425.1 607.3,1424.9 608.3,1425.9 609.3,1425.4 610.3,1425.7 611.3,1424.8 613.3,1425.8 615.3,1425.2 616.3,1425.2 617.3,1424.8 620.2,1424.6 620.3,1424.9 622.2,1424.7 622.3,1425.3 623.2,1425.2 623.3,1424.3 626.2,1423.6 627.2,1422.8 629.2,1420.4 629.3,1420.6 630.2,1418.4 631.2,1414.8 631.3,1415.7 632.2,1412.5 633.0,1410.1 633.2,1409.8 633.3,1410.4 633.8,1410.5 634.2,1411.2 634.3,1411.0 637.2,1419.6 638.2,1422.1 638.3,1421.2 639.2,1422.3 639.3,1423.0 640.2,1423.8 640.3,1423.3 641.2,1423.8 641.3,1424.3 643.2,1424.9 643.3,1424.2 645.2,1424.6 645.3,1424.4 646.2,1424.5 646.3,1424.7 647.2,1424.8 647.3,1424.6 648.2,1424.7 648.3,1425.1 649.3,1425.8 650.3,1425.1 651.3,1425.1 652.3,1425.3 653.3,1425.1 654.3,1425.7 655.3,1425.7 656.3,1425.0 657.3,1425.2 659.3,1426.0 661.3,1425.4 662.3,1426.1 663.3,1424.9 664.3,1425.0 665.3,1425.9 667.3,1425.0 669.3,1426.2 670.3,1425.6 672.3,1425.1 673.3,1425.1 674.3,1426.1 675.3,1425.6 676.3,1426.1 677.3,1425.1 678.3,1425.3 679.3,1425.1 680.3,1425.5 681.3,1425.1 683.3,1425.5 685.3,1425.1 686.3,1425.1 687.3,1426.2 688.3,1425.2 689.3,1425.6 690.3,1425.5 691.3,1425.7 692.3,1425.1 693.3,1425.4 694.3,1425.2 696.3,1426.1 697.3,1425.8 698.3,1426.1 699.3,1425.3 700.3,1425.1 701.3,1425.7 703.3,1425.7 704.3,1425.5 707.3,1426.1 708.3,1425.4 709.3,1425.6 710.3,1426.0 711.3,1425.3 712.3,1425.2 713.3,1425.4 714.3,1425.1 715.3,1426.0 716.3,1426.0 717.3,1425.4 719.3,1425.1 720.3,1425.3 721.3,1425.1 723.3,1425.7 725.3,1425.1 726.3,1425.9 727.3,1425.1 730.3,1425.4 731.3,1425.1 732.3,1425.5 733.3,1425.3 734.3,1425.8 735.3,1425.6 736.3,1426.0 737.3,1425.6 738.3,1425.7 740.3,1425.2 741.3,1425.5 742.3,1425.1 743.3,1425.1 745.3,1423.5 746.3,1422.3 747.3,1422.5 748.3,1422.2 749.3,1422.5 753.3,1425.2 755.3,1424.8 756.3,1425.7 757.3,1425.5 758.3,1424.9 760.3,1425.1 761.3,1425.4 762.3,1426.0 763.3,1426.1 765.3,1425.3 766.3,1425.5 768.3,1425.4 769.3,1425.0 770.3,1425.7 771.3,1426.0 772.3,1425.9 773.3,1425.2 774.3,1425.7 775.3,1425.2 776.3,1425.9 777.3,1425.6 778.3,1426.2 779.3,1426.0 780.3,1425.2 781.3,1425.4 782.3,1426.2 783.3,1425.6 785.3,1425.6 787.3,1426.2 788.3,1425.7 789.3,1426.2 791.3,1425.2 792.3,1426.0 794.3,1425.1 795.3,1426.2 796.3,1425.1 797.3,1425.7 798.3,1425.6 799.3,1426.1 800.3,1425.5 801.3,1425.3 803.3,1425.3 804.3,1425.7 805.3,1425.5 806.3,1426.0 807.3,1425.3 808.3,1425.5 809.3,1425.3 810.3,1426.2 812.3,1426.1 815.3,1425.2 816.3,1426.0 818.3,1425.1 819.3,1425.2 820.3,1425.1 821.3,1425.9 822.3,1426.1 823.3,1425.3 824.3,1426.0 825.3,1425.4 827.3,1426.0 828.3,1425.7 829.3,1426.0 831.3,1425.0 832.3,1425.6 833.3,1425.7 834.3,1425.2 835.3,1425.4 836.3,1425.3 837.3,1425.0 838.3,1425.3 841.3,1425.8 842.3,1425.4 843.3,1426.1 844.3,1425.9 845.3,1426.0 846.3,1425.7 848.3,1425.5 849.3,1425.8 850.3,1425.3 852.3,1425.6 855.3,1424.8 856.3,1424.8 859.3,1425.5 860.3,1425.4 861.3,1424.8 862.3,1425.5 863.3,1424.7 864.3,1425.1 865.3,1424.3 866.3,1425.0 867.3,1424.8 868.3,1425.0 870.3,1424.3 871.3,1424.2 874.2,1422.6 874.3,1422.0 875.2,1421.3 875.3,1421.6 876.2,1420.6 876.3,1421.0 877.2,1419.4 878.2,1416.1 878.3,1416.8 879.8,1407.9 881.5,1376.0 883.3,1322.4 883.5,1321.3 884.0,1327.6 886.8,1402.7 888.8,1416.1 889.2,1417.6 889.3,1417.4 890.2,1419.2 890.3,1420.0 892.2,1421.9 893.0,1422.6 893.3,1422.4 894.3,1423.4 895.3,1423.0 897.3,1423.5 899.3,1424.5 900.3,1423.7 901.3,1424.3 902.3,1424.5 903.3,1423.9 904.3,1423.7 905.3,1424.2 906.3,1424.5 907.3,1424.5 909.3,1423.8 911.3,1423.6 912.3,1423.9 913.3,1422.9 914.3,1422.6 916.3,1422.5 917.3,1421.0 920.1,1417.9 920.3,1418.2 922.1,1413.9 923.9,1404.5 925.4,1384.1 928.6,1213.7 928.9,1210.4 929.4,1223.8 932.4,1383.7 934.4,1408.6 936.1,1415.9 936.3,1415.4 937.1,1417.3 938.4,1419.9 940.3,1420.9 941.3,1421.7 944.3,1422.9 945.3,1423.8 946.3,1423.4 947.3,1424.4 950.3,1424.9 951.3,1424.9 953.3,1425.4 954.3,1425.0 955.3,1425.5 956.3,1424.5 958.3,1424.6 963.3,1425.6 964.3,1424.8 966.3,1425.5 968.3,1425.0 969.3,1425.6 970.3,1425.3 971.3,1425.7 972.3,1425.5 973.3,1426.1 974.3,1426.1 975.3,1425.0 976.3,1425.9 977.3,1425.8 978.3,1425.3 979.3,1425.1 980.3,1425.6 981.3,1425.4 983.3,1426.1 984.3,1425.5 985.3,1425.4 988.3,1426.0 990.3,1425.4 991.3,1425.5 992.3,1426.1 994.3,1425.2 995.3,1425.6 996.3,1425.4 997.3,1425.9 998.3,1425.2 999.3,1425.4 1000.3,1425.2 1002.3,1426.3 1003.3,1425.8 1004.3,1425.6 1005.3,1426.2 1006.3,1425.2 1008.3,1426.1 1009.3,1425.1 1010.3,1426.0 1012.3,1425.1 1014.3,1425.6 1015.3,1425.5 1016.3,1425.7 1017.3,1425.1 1018.3,1425.3 1019.3,1426.2 1020.3,1425.5 1021.3,1425.5 1022.3,1425.0 1023.3,1425.2 1024.3,1426.0 1026.3,1425.4 1027.3,1424.7 1029.3,1425.4 1030.3,1424.8 1032.1,1424.6 1032.3,1424.9 1033.1,1424.7 1035.1,1423.1 1035.3,1422.2 1036.8,1419.6 1037.1,1418.9 1037.3,1419.1 1039.3,1403.0 1040.8,1384.2 1041.1,1383.5 1041.6,1386.2 1044.3,1416.6 1046.1,1422.2 1046.3,1421.7 1047.1,1422.6 1047.3,1423.5 1048.1,1424.0 1048.3,1423.8 1049.1,1424.1 1049.3,1424.9 1050.6,1425.3 1051.3,1424.5 1052.3,1424.9 1053.3,1424.9 1054.3,1425.2 1055.3,1425.1 1056.3,1425.6 1057.3,1425.0 1058.3,1425.1 1059.3,1425.5 1060.3,1425.1 1062.3,1426.2 1063.3,1426.2 1064.3,1425.4 1065.3,1425.2 1066.3,1426.2 1067.3,1426.3 1069.3,1425.4 1070.3,1425.5 1071.3,1426.3 1072.3,1426.4 1073.3,1425.3 1075.3,1425.8 1076.3,1425.6 1077.3,1426.2 1078.3,1425.7 1079.3,1426.2 1080.3,1425.5 1082.3,1426.4 1083.3,1426.1 1084.3,1425.4 1085.3,1425.4 1086.3,1426.1 1087.3,1425.7 1090.3,1426.0 1091.3,1426.4 1092.3,1425.6 1093.3,1425.9 1094.3,1425.6 1096.3,1426.1 1097.3,1425.4 1099.3,1426.0 1100.3,1425.2 1101.3,1426.0 1102.3,1425.6 1105.3,1425.7 1106.3,1424.6 1107.3,1424.8 1108.3,1423.7 1109.3,1423.3 1111.3,1420.9 1112.3,1420.7 1113.3,1421.4 1115.3,1424.0 1116.3,1424.1 1119.3,1425.9 1121.3,1426.2 1122.3,1425.5 1123.3,1425.4 1124.3,1426.3 1125.3,1425.3 1127.3,1426.2 1129.3,1425.8 1130.3,1426.4 1131.3,1425.7 1133.3,1426.4 1134.3,1425.5 1137.3,1426.1 1138.3,1425.7 1139.3,1426.0 1140.3,1425.5 1141.3,1425.5 1142.3,1425.8 1143.3,1425.6 1144.3,1426.6 1145.3,1425.7 1146.3,1425.8 1147.3,1426.4 1148.3,1426.3 1149.3,1425.8 1150.3,1426.4 1152.3,1425.9 1153.3,1426.2 1154.3,1425.8 1155.3,1425.8 1156.3,1426.5 1157.3,1426.0 1158.3,1426.5 1159.3,1425.7 1161.3,1425.5 1162.3,1426.4 1163.3,1426.1 1164.3,1425.5 1165.3,1425.5 1166.3,1426.5 1167.3,1426.1 1168.3,1426.5 1169.3,1425.5 1170.3,1426.2 1171.3,1425.6 1172.3,1426.4 1174.3,1426.2 1175.3,1425.8 1176.3,1426.6 1177.3,1425.6 1178.3,1425.6 1179.3,1426.3 1180.3,1425.6 1181.3,1425.6 1184.3,1426.6 1185.3,1426.4 1186.3,1425.6 1187.3,1426.3 1188.3,1426.5 1189.3,1425.7 1190.3,1426.4 1191.3,1425.8 1192.3,1425.9 1193.3,1425.5 1194.3,1426.4 1195.3,1426.1 1196.3,1426.6 1198.3,1425.7 1200.3,1425.8 1201.3,1426.7 1202.3,1425.8 1203.3,1425.6 1204.3,1426.0 1205.3,1425.6 1207.3,1426.3 1208.3,1426.3 1209.3,1425.8 1210.3,1425.7 1212.3,1426.4 1213.3,1426.1 1214.3,1426.2 1215.3,1426.6 1216.3,1425.7 1219.3,1426.2 1220.3,1426.6 1221.3,1426.2 1222.3,1426.4 1223.3,1426.1 1224.3,1426.5 1225.3,1426.6 1226.3,1425.9 1227.3,1425.7 1229.3,1426.0 1230.3,1426.6 1231.3,1425.9 1232.3,1426.3 1233.3,1426.3 1234.3,1426.7 1235.3,1425.7 1236.3,1426.5 1238.3,1425.7 1239.3,1426.3 1240.3,1426.6 1241.3,1426.3 1242.3,1425.6 1243.3,1426.8 1244.3,1426.0 1246.3,1426.5 1247.3,1425.9 1248.3,1426.1 1251.3,1425.7 1252.3,1426.5 1253.3,1426.1 1254.3,1426.6 1255.3,1425.7 1256.3,1426.0 1257.3,1425.8 1258.3,1426.7 1259.3,1426.6 1260.3,1426.7 1262.3,1425.7 1263.3,1426.1 1265.3,1425.6 1266.3,1426.3 1268.3,1425.7 1270.3,1426.7 1271.3,1426.8 1273.3,1425.7 1274.3,1426.5 1275.3,1425.8 1276.3,1426.3 1277.3,1425.7 1278.3,1426.8 1279.3,1426.3 1281.3,1426.0 1283.3,1426.8 1284.3,1426.1 1285.3,1425.9 1287.3,1426.7 1288.3,1426.1 1290.3,1426.7 1291.3,1426.0 1292.3,1426.6 1294.3,1425.8 1295.3,1425.7 1296.3,1426.8 1297.3,1426.2 1298.3,1426.2 1299.3,1426.7 1300.3,1426.3 1302.3,1426.0 1303.3,1426.5 1304.3,1425.9 1306.3,1426.5 1307.3,1426.3 1308.3,1425.8 1309.3,1425.9 1310.3,1426.5 1311.3,1426.5 1312.3,1425.7 1313.3,1426.8 1314.3,1425.8 1316.3,1425.7 1319.3,1426.6 1320.3,1425.7 1321.3,1426.4 1322.3,1425.6 1323.3,1426.2 1324.3,1425.8 1325.3,1425.8 1326.3,1425.4 1327.3,1426.1 1328.3,1425.3 1329.3,1425.9 1330.3,1425.0 1331.3,1424.9 1332.3,1424.3 1333.3,1423.3 1336.3,1423.1 1337.3,1423.9 1338.3,1425.2 1339.3,1424.8 1340.3,1425.4 1341.3,1425.6 1342.3,1426.4 1343.3,1425.5 1344.3,1426.2 1346.3,1426.3 1347.3,1425.5 1348.3,1426.6 1349.3,1425.9 1350.3,1426.5 1352.3,1426.0 1353.3,1426.5 1355.3,1425.9 1356.3,1426.4 1357.3,1426.1 1358.3,1426.3 1359.3,1426.2 1360.3,1426.4 1361.3,1425.6 1362.3,1426.0 1363.3,1425.4 1364.3,1426.3 1366.3,1426.3 1367.3,1425.3 1368.3,1425.8 1369.3,1425.6 1370.3,1425.1 1372.2,1424.9 1372.4,1425.8 1374.2,1425.2 1374.4,1424.3 1375.2,1424.0 1375.4,1424.5 1376.2,1424.0 1377.2,1422.7 1378.9,1418.3 1382.2,1396.3 1382.7,1397.1 1386.4,1419.8 1388.2,1423.0 1388.4,1423.7 1389.2,1424.3 1389.4,1424.0 1390.2,1424.4 1392.2,1425.5 1392.4,1425.2 1393.2,1425.3 1393.9,1425.7 1394.3,1425.0 1395.3,1425.4 1396.3,1426.2 1397.3,1425.4 1399.3,1425.4 1400.3,1426.3 1401.3,1425.6 1402.3,1426.0 1403.3,1426.0 1404.3,1426.5 1405.3,1426.1 1406.3,1426.2 1407.3,1425.6 1408.3,1426.6 1410.3,1426.4 1411.3,1426.6 1412.3,1426.4 1414.3,1426.7 1415.3,1426.4 1416.3,1425.7 1417.3,1426.8 1418.3,1426.9 1419.3,1425.9 1420.3,1425.8 1421.3,1426.1 1422.3,1425.8 1423.3,1426.2 1424.3,1425.8 1425.3,1426.0 1426.3,1425.7 1427.3,1426.3 1428.3,1426.1 1429.3,1426.6 1431.3,1425.9 1432.3,1426.9 1434.3,1426.6 1435.3,1426.0 1437.3,1426.3 1438.3,1426.3 1439.3,1425.8 1441.3,1426.7 1442.3,1426.6 1443.3,1426.8 1444.3,1426.6 1447.3,1426.9 1448.3,1426.7 1449.3,1426.3 1450.3,1426.6 1451.3,1426.6 1452.3,1426.8 1455.3,1426.0 1456.3,1426.2 1457.3,1426.1 1458.3,1426.6 1459.3,1426.7 1460.3,1426.0 1462.3,1426.8 1464.3,1425.9 1465.3,1426.5 1467.3,1426.0 1468.3,1426.1 1469.3,1425.8 1471.3,1426.3 1472.3,1425.9 1473.3,1425.8 1475.3,1426.9 1476.3,1426.8 1477.3,1426.2 1478.3,1426.9 1479.3,1425.9 1480.3,1426.0 1482.3,1425.9 1483.3,1426.5 1484.3,1426.7 1485.3,1426.4 1486.3,1426.8 1487.3,1426.3 1488.3,1426.9 1489.3,1426.5 1490.3,1426.4 1491.3,1426.0 1492.3,1426.3 1493.3,1426.3 1494.3,1426.8 1495.3,1426.1 1496.3,1426.2 1497.3,1426.8 1498.3,1425.9 1499.3,1426.4 1500.3,1426.1 1501.3,1426.6 1502.3,1426.5 1503.3,1425.9 1504.3,1426.7 1505.3,1426.3 1506.3,1426.2 1507.3,1426.8 1508.3,1426.7 1509.3,1426.2 1510.3,1426.6 1511.3,1425.9 1512.3,1426.4 1513.3,1425.9 1514.3,1426.5 1515.3,1426.9 1516.3,1426.5 1517.3,1425.8 1518.3,1426.4 1520.3,1426.3 1521.3,1425.9 1523.3,1426.3 1524.3,1425.8 1525.3,1426.5 1526.3,1426.0 1527.3,1426.1 1528.3,1425.8 1529.3,1426.1 1530.3,1426.8 1531.3,1426.0 1532.3,1425.8 1533.3,1426.1 1534.3,1426.8 1535.3,1425.7 1536.3,1426.0 1537.3,1425.8 1538.3,1426.3 1540.3,1425.5 1541.0,1425.5 1541.3,1426.4 1542.0,1426.3 1542.3,1425.6 1543.0,1425.6 1543.3,1426.0 1544.0,1425.9 1545.0,1425.4 1545.3,1425.9 1546.0,1425.7 1546.3,1424.7 1547.0,1424.5 1549.0,1423.6 1550.0,1422.4 1550.3,1422.6 1551.0,1421.1 1554.0,1410.7 1554.8,1410.1 1555.3,1410.2 1559.0,1421.9 1561.0,1424.1 1561.3,1424.0 1562.0,1424.3 1562.3,1424.8 1563.0,1425.1 1563.3,1425.7 1564.0,1425.9 1564.3,1425.2 1566.0,1425.6 1568.0,1426.0 1568.3,1425.6 1568.8,1425.6 1570.3,1426.4 1571.3,1425.6 1572.3,1425.7 1573.3,1426.5 1574.3,1426.7 1575.3,1425.7 1576.3,1425.8 1577.3,1426.4 1578.3,1426.0 1579.3,1426.5 1580.3,1425.8 1581.3,1426.3 1582.3,1425.9 1584.3,1426.6 1585.3,1426.4 1586.3,1426.8 1587.3,1426.8 1588.3,1426.5 1589.3,1426.8 1590.3,1426.0 1591.3,1426.4 1592.3,1426.2 1593.3,1426.6 1594.3,1425.9 1595.3,1426.9 1596.3,1426.3 1597.3,1426.8 1599.3,1427.0 1600.3,1426.3 1601.3,1426.9 1602.3,1427.0 1603.3,1426.0 1604.3,1426.7 1605.3,1426.7 1608.3,1426.1 1609.3,1426.3 1610.3,1427.0 1611.3,1426.3 1612.3,1426.2 1613.3,1426.6 1614.3,1426.4 1615.3,1426.6 1618.3,1425.9 1619.3,1426.8 1620.3,1426.7 1621.3,1426.2 1623.3,1426.6 1624.3,1426.5 1625.3,1426.9 1626.3,1426.8 1627.3,1426.2 1628.3,1426.3 1629.3,1426.6 1630.3,1426.1 1631.3,1427.0 1632.3,1425.9 1633.3,1426.5 1634.3,1426.2 1635.3,1426.5 1636.3,1425.9 1637.3,1426.1 1638.3,1427.1 1639.3,1426.8 1640.3,1426.1 1641.3,1426.4 1642.3,1425.9 1644.3,1426.1 1645.3,1427.1 1646.3,1426.3 1648.3,1426.0 1649.3,1426.0 1650.3,1427.1 1651.3,1426.8 1652.3,1427.0 1654.3,1426.8 1655.3,1426.2 1657.3,1426.2 1658.3,1426.0 1659.3,1426.1 1660.3,1426.7 1661.3,1426.5 1662.3,1425.9 1663.3,1426.2 1664.3,1426.9 1667.3,1426.8 1668.3,1427.0 1670.3,1426.3 1671.3,1426.6 1673.3,1425.9 1675.3,1426.4 1676.3,1426.0 1677.3,1426.0 1679.3,1426.3 1680.3,1427.0 1681.3,1426.5 1682.3,1426.9 1685.3,1426.3 1687.3,1426.2 1689.3,1426.9 1690.3,1426.8 1691.3,1426.2 1693.3,1425.9 1694.3,1426.6 1696.3,1425.9 1697.3,1426.2 1699.3,1426.1 1700.3,1426.6 1701.3,1426.5 1702.3,1426.2 1703.3,1426.7 1704.3,1426.1 1705.3,1426.9 1706.3,1426.0 1707.3,1426.5 1709.3,1426.7 1710.3,1426.4 1711.3,1426.8 1712.3,1426.5 1713.3,1426.6 1714.3,1425.9 1717.3,1426.4 1718.3,1425.9 1719.3,1426.6 1720.3,1426.1 1722.3,1426.3 1723.3,1426.7 1724.3,1426.0 1725.3,1426.3 1727.3,1426.4 1728.3,1426.0 1729.3,1425.9 1732.3,1426.3 1733.3,1425.6 1735.3,1426.0 1736.3,1425.6 1737.3,1425.4 1738.3,1426.3 1739.3,1425.1 1740.3,1425.6 1742.3,1424.8 1743.3,1425.0 1745.2,1424.5 1745.3,1424.8 1746.2,1424.5 1746.3,1425.1 1747.2,1424.8 1747.3,1423.8 1748.2,1423.4 1748.3,1423.7 1749.2,1423.2 1749.3,1423.6 1751.2,1421.9 1751.5,1420.9 1752.2,1419.8 1752.3,1419.9 1754.2,1414.4 1754.3,1414.6 1758.7,1370.4 1759.3,1368.4 1760.0,1372.0 1764.0,1413.5 1766.2,1420.9 1766.3,1420.7 1767.2,1421.9 1767.3,1421.4 1768.2,1422.2 1768.5,1422.9 1769.2,1423.4 1770.2,1424.1 1770.3,1423.8 1771.2,1424.1 1771.5,1424.6 1772.2,1424.9 1772.3,1424.5 1773.2,1424.7 1773.3,1425.1 1775.3,1425.5 1776.3,1426.0 1777.3,1425.8 1779.3,1426.0 1780.3,1425.5 1781.3,1426.0 1782.3,1426.1 1783.3,1425.5 1784.3,1426.3 1785.3,1425.8 1786.3,1426.1 1789.3,1426.5 1790.3,1426.2 1791.3,1426.8 1792.3,1426.2 1793.3,1426.4 1794.3,1426.9 1795.3,1426.1 1797.3,1426.9 1798.3,1425.9 1799.3,1426.7 1801.3,1426.4 1803.3,1426.8 1804.3,1426.0 1805.3,1426.4 1807.3,1426.7 1808.3,1427.0 1810.3,1426.8 1811.3,1425.9 1813.3,1427.0 1814.3,1427.0 1815.3,1426.8 1816.3,1426.3 1817.3,1426.8 1818.3,1426.5 1820.3,1426.7 1821.3,1426.9 1822.3,1426.7 1823.3,1427.1 1824.3,1426.5 1826.3,1426.7 1827.3,1426.6 1828.3,1426.0 1829.3,1427.1 1830.3,1426.3 1831.3,1426.5 1832.3,1426.0 1833.3,1426.1 1834.3,1427.0 1835.3,1426.2 1836.3,1426.3 1837.3,1426.9 1838.3,1426.2 1839.3,1426.7 1840.3,1426.6 1841.3,1427.0 1842.3,1426.5 1844.3,1426.2 1845.3,1426.3 1846.3,1425.9 1849.3,1426.3 1850.3,1426.8 1851.3,1427.0 1852.3,1426.3 1854.3,1426.2 1855.3,1426.6 1856.3,1426.4 1857.3,1426.0 1858.3,1426.5 1860.3,1426.0 1861.3,1426.7 1862.3,1425.9 1864.3,1426.6 1865.3,1426.4 1866.3,1426.7 1867.3,1426.0 1868.3,1426.7 1869.0,1426.7 1869.3,1425.6 1870.0,1425.6 1870.3,1426.6 1871.0,1426.5 1871.3,1425.9 1872.0,1425.9 1872.3,1425.4 1873.0,1425.3 1873.3,1425.6 1874.0,1425.5 1874.3,1426.3 1875.0,1426.2 1875.3,1425.9 1878.0,1425.2 1878.3,1424.2 1879.0,1423.8 1879.3,1424.0 1881.0,1422.5 1881.3,1422.7 1883.0,1419.4 1884.0,1416.1 1884.3,1416.5 1885.8,1413.1 1886.3,1412.6 1887.3,1413.2 1888.0,1414.8 1891.0,1421.8 1892.0,1422.9 1892.3,1423.9 1893.0,1424.6 1893.3,1424.2 1894.0,1424.6 1895.0,1424.8 1895.3,1425.5 1896.0,1425.7 1896.3,1425.1 1897.0,1425.3 1898.0,1425.6 1898.3,1425.3 1900.0,1425.6 1900.3,1426.6 1901.0,1426.6 1901.3,1426.2 1903.0,1426.2 1904.3,1426.4 1908.3,1425.8 1910.3,1426.3 1911.3,1425.8 1912.3,1426.6 1913.3,1426.3 1915.3,1426.3 1916.3,1426.5 1917.3,1426.1 1918.3,1426.9 1920.3,1426.0 1921.3,1426.0 1922.3,1427.0 1924.3,1426.3 1925.3,1426.8 1926.3,1426.0 1927.3,1427.0 1928.3,1427.1 1929.3,1426.8 1930.3,1426.0 1932.3,1427.0 1934.3,1426.2 1936.3,1426.1 1937.3,1426.6 1938.3,1426.2 1940.3,1427.1 1941.3,1427.1 1942.3,1426.6 1943.3,1426.9 1944.3,1426.2 1945.3,1427.1 1946.3,1427.0 1947.3,1426.6 1948.3,1427.1 1949.3,1426.4 1950.3,1427.2 1951.3,1426.4 1952.3,1427.1 1954.3,1427.1 1955.3,1426.9 1956.3,1426.1 1959.3,1427.1 1960.3,1426.8 1961.3,1426.0 1962.3,1426.4 1965.3,1426.3 1966.3,1426.6 1968.3,1426.3 1969.3,1426.5 1970.3,1427.1 1971.3,1426.7 1973.3,1427.1 1974.3,1426.0 1975.3,1427.0 1976.3,1426.0 1977.3,1426.1 1978.3,1426.8 1981.3,1426.3 1982.3,1426.6 1984.3,1425.8 1987.3,1425.0 1988.3,1425.7 1989.3,1425.2 1990.3,1423.9 1992.3,1422.9 1993.3,1423.4 1995.3,1423.6 1996.3,1425.0 1997.3,1425.6 1998.3,1424.9 1999.3,1425.7 2000.3,1425.6 2001.3,1426.3 2004.3,1426.1 2005.3,1426.5 2007.3,1426.5 2008.3,1426.7 2009.3,1426.5 2010.3,1427.1 2011.3,1426.5 2012.3,1426.9 2013.3,1427.1 2014.3,1426.7 2015.3,1426.7 2016.3,1426.9 2017.3,1426.9 2018.3,1426.2 2019.3,1426.5 2021.3,1426.0 2022.3,1426.8 2023.3,1426.4 2026.3,1426.1 2027.3,1426.8 2028.3,1426.5 2031.3,1427.1 2032.3,1426.9 2033.3,1426.3 2034.3,1427.2 2035.3,1426.3 2036.3,1426.7 2037.3,1426.8 2038.3,1426.4 2039.3,1427.1 2040.3,1426.8 2041.3,1426.9 2042.3,1426.2 2043.3,1427.0 2044.3,1426.4 2045.3,1426.8 2046.3,1426.9 2047.3,1426.4 2049.3,1426.4 2050.3,1427.2 2052.3,1426.6 2054.3,1426.8 2056.3,1426.1 2057.3,1426.1 2058.3,1426.7 2059.3,1426.7 2060.3,1427.2 2061.3,1426.7 2063.3,1427.2 2064.3,1426.6 2067.3,1426.4 2068.3,1426.9 2069.3,1426.6 2070.3,1426.1 2071.3,1427.1 2072.3,1426.5 2073.3,1426.8 2074.3,1426.5 2076.3,1426.5 2077.3,1426.0 2078.3,1426.0 2079.3,1426.7 2081.3,1425.9 2082.3,1426.7 2085.2,1426.5 2085.3,1426.1 2086.2,1426.0 2086.3,1425.7 2087.2,1425.6 2087.3,1426.4 2088.2,1426.3 2088.3,1425.7 2089.2,1425.6 2089.3,1426.1 2091.2,1426.0 2091.3,1425.5 2092.2,1425.3 2092.3,1425.0 2093.2,1424.9 2093.3,1425.6 2094.2,1425.4 2094.3,1425.6 2095.2,1425.4 2095.3,1425.1 2096.2,1424.8 2096.3,1425.3 2097.2,1424.8 2097.3,1423.9 2098.2,1423.3 2098.3,1423.9 2099.2,1423.2 2101.2,1420.5 2103.2,1416.2 2103.3,1416.5 2105.2,1412.1 2105.3,1412.3 2106.2,1410.8 2106.5,1410.3 2107.3,1410.0 2108.2,1411.0 2112.2,1419.3 2113.2,1421.4 2113.3,1421.1 2114.2,1422.3 2114.3,1421.9 2116.2,1423.6 2117.2,1424.3 2117.3,1424.8 2119.2,1425.4 2119.3,1425.2 2120.2,1425.4 2120.3,1425.8 2121.2,1425.9 2121.3,1425.4 2123.2,1425.6 2123.3,1426.1 2125.2,1426.2 2125.3,1425.9 2126.2,1426.0 2126.3,1426.6 2127.2,1426.6 2127.3,1425.6 2128.2,1425.6 2128.3,1426.2 2129.2,1426.3 2129.3,1426.7 2130.3,1426.7 2131.3,1426.0 2132.3,1426.7 2133.3,1426.4 2134.3,1426.9 2135.3,1426.2 2136.3,1426.7 2137.3,1426.7 2138.3,1427.1 2139.3,1426.3 2140.3,1426.4 2141.3,1426.1 2142.3,1426.8 2143.3,1426.1 2144.3,1427.0 2145.3,1426.2 2146.3,1426.2 2147.3,1427.2 2148.3,1426.6 2149.3,1426.9 2150.3,1426.5 2151.3,1426.3 2152.3,1426.5 2153.3,1427.2 2154.3,1426.3 2155.3,1427.2 2157.3,1426.9 2158.3,1426.4 2159.3,1427.0 2160.3,1427.2 2162.3,1426.4 2164.3,1427.3 2166.3,1426.3 2167.3,1426.4 2168.3,1426.9 2169.3,1426.2 2170.3,1426.1 2171.3,1426.6 2172.3,1426.4 2173.3,1426.7 2174.3,1426.2 2175.3,1426.8 2176.3,1426.9 2177.3,1426.5 2178.3,1426.8 2179.3,1426.8 2180.3,1427.1 2181.3,1426.8"/>
<g fill="#000"><circle cx="881.0" cy="211.2" r="15.0"/><rect x="913.9" y="105.0" width="27.5" height="30.0"/><circle cx="1038.0" cy="300.4" r="15.0"/><rect x="1366.2" y="311.0" width="27.5" height="30.0"/><circle cx="1550.7" cy="327.6" r="15.0"/><rect x="1744.2" y="296.0" width="27.5" height="30.0"/><circle cx="1882.0" cy="333.0" r="15.0"/><circle cx="1988.9" cy="352.7" r="15.0"/><rect x="2091.9" y="331.8" width="27.5" height="30.0"/><circle cx="880.9" cy="711.6" r="15.0"/><rect x="913.9" y="522.5" width="27.5" height="30.0"/><circle cx="1038.0" cy="741.5" r="15.0"/><rect x="1366.2" y="716.7" width="27.5" height="30.0"/><circle cx="1550.7" cy="759.0" r="15.0"/><rect x="1742.2" y="704.5" width="27.5" height="30.0"/><circle cx="1882.6" cy="758.8" r="15.0"/><circle cx="1988.9" cy="767.0" r="15.0"/><rect x="2091.7" y="743.8" width="27.5" height="30.0"/><circle cx="880.8" cy="987.7" r="15.0"/><rect x="913.6" y="800.0" width="27.5" height="30.0"/><circle cx="1038.0" cy="1079.0" r="15.0"/><rect x="1369.0" y="1085.4" width="27.5" height="30.0"/><circle cx="1552.3" cy="1118.5" r="15.0"/><rect x="1744.2" y="1058.4" width="27.5" height="30.0"/><circle cx="1883.0" cy="1125.3" r="15.0"/><circle cx="1989.3" cy="1144.0" r="15.0"/><rect x="2091.7" y="1116.0" width="27.5" height="30.0"/><polygon points="633.5,1368.5 650.5,1385.5 633.5,1402.5 616.5,1385.5"/><polygon points="748.5,1378.0 765.5,1395.0 748.5,1412.0 731.5,1395.0"/><circle cx="882.9" cy="1295.3" r="15.0"/><rect x="915.5" y="1175.0" width="27.5" height="30.0"/><circle cx="1041.6" cy="1357.4" r="15.0"/><polygon points="1109.2,1375.2 1126.2,1392.2 1109.2,1409.2 1092.2,1392.2"/><polygon points="1335.0,1380.7 1352.0,1397.7 1335.0,1414.7 1318.0,1397.7"/><rect x="1368.8" y="1358.0" width="27.5" height="30.0"/><circle cx="1554.9" cy="1386.8" r="15.0"/><rect x="1744.2" y="1330.8" width="27.5" height="30.0"/><circle cx="1885.7" cy="1389.5" r="15.0"/><circle cx="1992.2" cy="1400.3" r="15.0"/><rect x="2092.1" y="1371.7" width="27.5" height="30.0"/></g>
<g fill="#000" fill-rule="evenodd"><path d="M328.0,427.5L344.5,464.1L311.5,464.1ZM327.6,437.4L317.9,458.8L337.3,458.8Z"/><path d="M511.6,453.0L528.1,489.7L495.1,489.7ZM511.2,462.9L501.5,484.4L520.9,484.4Z"/><path d="M638.4,437.6L654.9,474.2L621.9,474.2ZM638.0,447.5L628.3,468.9L647.7,468.9Z"/><path d="M754.0,463.3L770.5,501.7L737.5,501.7ZM753.6,473.6L743.8,496.4L763.4,496.4Z"/><path d="M858.7,397.3L875.2,434.0L842.2,434.0ZM858.3,407.2L848.6,428.7L868.0,428.7Z"/><path d="M949.8,411.0L966.3,448.7L933.3,448.7ZM949.4,421.1L939.7,443.4L959.2,443.4Z"/><path d="M1038.6,386.4L1055.1,425.8L1022.1,425.8ZM1038.2,396.9L1028.3,420.5L1048.1,420.5Z"/><path d="M1121.5,453.3L1138.0,491.7L1105.0,491.7ZM1121.1,463.6L1111.3,486.4L1130.9,486.4Z"/><path d="M1200.0,449.6L1216.5,486.2L1183.5,486.2ZM1199.6,459.5L1189.9,480.9L1209.3,480.9Z"/><path d="M1417.0,453.0L1433.5,491.6L1400.5,491.6ZM1416.6,463.3L1406.8,486.3L1426.4,486.3Z"/><path d="M1486.4,443.0L1502.9,477.8L1469.9,477.8ZM1486.0,452.5L1476.5,472.5L1495.5,472.5Z"/><path d="M1618.0,457.7L1634.5,497.0L1601.5,497.0ZM1617.6,468.2L1607.7,491.7L1627.5,491.7Z"/><path d="M1742.6,450.4L1759.1,486.5L1726.1,486.5ZM1742.2,460.1L1732.6,481.2L1751.8,481.2Z"/><path d="M1807.3,455.0L1823.8,491.6L1790.8,491.6ZM1806.9,464.9L1797.2,486.3L1816.6,486.3Z"/><path d="M1869.7,444.6L1886.2,482.4L1853.2,482.4ZM1869.3,454.7L1859.6,477.1L1879.1,477.1Z"/><path d="M1993.3,463.0L2009.8,500.0L1976.8,500.0ZM1992.9,472.9L1983.2,494.7L2002.6,494.7Z"/><path d="M2115.2,456.0L2131.7,493.9L2098.7,493.9ZM2114.8,466.1L2105.0,488.6L2124.6,488.6Z"/></g>
<g fill="none" stroke="#000" stroke-width="5"><ellipse cx="420.5" cy="476.0" rx="15.2" ry="16.3"/><ellipse cx="442.0" cy="483.3" rx="15.2" ry="16.3"/><ellipse cx="498.0" cy="474.7" rx="15.2" ry="16.3"/><ellipse cx="833.5" cy="465.1" rx="15.2" ry="16.3"/><ellipse cx="1017.5" cy="479.8" rx="15.2" ry="16.3"/><ellipse cx="1329.7" cy="470.9" rx="15.2" ry="16.3"/><ellipse cx="1566.0" cy="477.8" rx="15.2" ry="16.3"/></g>
<g fill="#000"><rect x="797.0" y="317.9" width="7.9" height="24.0"/><polygon points="802.2,335.4 786.7,330.8 784.1,341.0 799.8,344.4"/><circle cx="785.4" cy="335.9" r="5.2"/><polygon points="796.2,338.9 786.9,352.7 796.1,358.0 803.6,343.3"/><circle cx="791.5" cy="355.3" r="5.3"/><polygon points="802.2,344.4 817.9,341.0 815.3,330.8 799.8,335.4"/><circle cx="816.6" cy="335.9" r="5.2"/><polygon points="798.4,343.3 805.9,358.0 815.1,352.7 805.8,338.9"/><circle cx="810.5" cy="355.3" r="5.3"/></g>
<g fill="#000"><rect x="162.75" y="20.65" width="2022.55" height="5.3"/><rect x="162.75" y="1519.25" width="2022.55" height="5.5"/><rect x="162.75" y="20.65" width="6.5" height="1504.1"/><rect x="2179.3" y="20.65" width="6" height="1504.1"/></g>
<path d="M292.3,1492.0 V1521.8 M418.3,1492.0 V1521.8 M544.3,1492.0 V1521.8 M670.3,1492.0 V1521.8 M796.3,1492.0 V1521.8 M922.3,1492.0 V1521.8 M1048.3,1492.0 V1521.8 M1174.3,1492.0 V1521.8 M1300.3,1492.0 V1521.8 M1426.3,1492.0 V1521.8 M1552.3,1492.0 V1521.8 M1678.3,1492.0 V1521.8 M1804.3,1492.0 V1521.8 M1930.3,1492.0 V1521.8 M2056.3,1492.0 V1521.8" stroke="#000" stroke-width="5.4" fill="none"/>
<g font-family="Liberation Sans, Arial, sans-serif" font-size="65" text-anchor="middle" fill="#000" stroke="#fff" stroke-width="1.1"><text transform="translate(166.3,1598.5) scale(0.94,1)">10</text><text transform="translate(292.3,1598.5) scale(0.94,1)">15</text><text transform="translate(418.3,1598.5) scale(0.94,1)">20</text><text transform="translate(544.3,1598.5) scale(0.94,1)">25</text><text transform="translate(670.3,1598.5) scale(0.94,1)">30</text><text transform="translate(796.3,1598.5) scale(0.94,1)">35</text><text transform="translate(922.3,1598.5) scale(0.94,1)">40</text><text transform="translate(1048.3,1598.5) scale(0.94,1)">45</text><text transform="translate(1174.3,1598.5) scale(0.94,1)">50</text><text transform="translate(1300.3,1598.5) scale(0.94,1)">55</text><text transform="translate(1426.3,1598.5) scale(0.94,1)">60</text><text transform="translate(1552.3,1598.5) scale(0.94,1)">65</text><text transform="translate(1678.3,1598.5) scale(0.94,1)">70</text><text transform="translate(1804.3,1598.5) scale(0.94,1)">75</text><text transform="translate(1930.3,1598.5) scale(0.94,1)">80</text><text transform="translate(2056.3,1598.5) scale(0.94,1)">85</text><text transform="translate(2182.3,1598.5) scale(0.94,1)">90</text></g>
<text x="1173" y="1713" font-family="Liberation Serif, Times New Roman, serif" font-size="74" text-anchor="middle">2Theta / (°)</text>
<text transform="translate(73,772.5) rotate(-90)" font-family="Liberation Serif, Times New Roman, serif" font-size="75" text-anchor="middle">Intensity (a.u.)</text>
<text x="171.4" y="363.8" font-family="Liberation Serif, Times New Roman, serif" font-weight="bold" font-size="69" letter-spacing="-0.77" fill="#02bf3c">Annealed</text>
<text x="463.3" y="363.8" font-family="Liberation Serif, Times New Roman, serif" font-weight="bold" font-size="69" letter-spacing="2.45" fill="#02bf3c">AWC</text>
<text x="174.1" y="577.4" font-family="Liberation Serif, Times New Roman, serif" font-weight="bold" font-size="69" letter-spacing="-0.8" fill="#fe04b0">Annealed</text>
<text x="466.1" y="577.4" font-family="Liberation Serif, Times New Roman, serif" font-weight="bold" font-size="69" letter-spacing="2.9" fill="#fe04b0">AW</text>
<text x="174.4" y="853.8" font-family="Liberation Serif, Times New Roman, serif" font-weight="bold" font-size="69" letter-spacing="1.3" fill="#0018ff">AWC</text>
<text x="171.8" y="1238" font-family="Liberation Serif, Times New Roman, serif" font-weight="bold" font-size="69" letter-spacing="2.6" fill="#f80000">AW</text>
<text x="171.9" y="1483.5" font-family="Liberation Serif, Times New Roman, serif" font-weight="bold" font-size="69" letter-spacing="1.34" fill="#000">2024Al-W-</text>
<text x="499.3" y="1483.5" font-family="Liberation Serif, Times New Roman, serif" font-weight="bold" font-size="69" letter-spacing="-1.25" fill="#000">CeO</text>
<text x="628.5" y="1505.2" font-family="Liberation Serif, Times New Roman, serif" font-weight="bold" font-size="43" letter-spacing="0" fill="#000">2</text>
<text x="668" y="1483.5" font-family="Liberation Serif, Times New Roman, serif" font-weight="bold" font-size="69" letter-spacing="-1.5" fill="#000">powder</text>
<g fill="#000"><circle cx="1292.6" cy="55.7" r="22.0"/><rect x="1620.1" y="34.5" width="41.0" height="43.0"/><polygon points="1967.8,31.5 1990.8,54.5 1967.8,77.5 1944.8,54.5"/></g>
<g fill="#000"><rect x="1285.3" y="97.2" width="10.4" height="30.0"/><polygon points="1291.9,118.9 1271.6,113.2 1268.4,126.2 1289.1,130.5"/><circle cx="1270.0" cy="119.7" r="6.7"/><polygon points="1284.3,123.3 1272.2,140.4 1283.8,147.6 1293.7,129.1"/><circle cx="1278.0" cy="144.0" r="6.8"/><polygon points="1291.9,130.5 1312.6,126.2 1309.4,113.2 1289.1,118.9"/><circle cx="1311.0" cy="119.7" r="6.7"/><polygon points="1287.3,129.1 1297.2,147.6 1308.8,140.4 1296.7,123.3"/><circle cx="1303.0" cy="144.0" r="6.8"/></g>
<path fill="#000" fill-rule="evenodd" d="M1640.5,97.2L1663.5,148.6L1617.5,148.6ZM1639.7,111.3L1626.3,141.1L1653.0,141.1Z"/>
<ellipse cx="1969" cy="122.4" rx="20.3" ry="21.8" fill="none" stroke="#000" stroke-width="7.8"/>
<text class="nk" x="1333" y="74.8" font-family="Liberation Serif, Times New Roman, serif" font-size="60" letter-spacing="0">Al</text>
<text class="nk" x="1677.5" y="79.3" font-family="Liberation Serif, Times New Roman, serif" font-size="62" letter-spacing="0">W</text>
<text class="nk" x="2008.5" y="75" font-family="Liberation Serif, Times New Roman, serif" font-size="63.5" letter-spacing="-0.4">CeO<tspan font-size="35.5" letter-spacing="0" dx="-1.5" dy="19">2</tspan></text>
<text class="nk" x="1336" y="145.7" font-family="Liberation Serif, Times New Roman, serif" font-size="61" letter-spacing="1.6">Unknown</text>
<text class="nk" x="1677" y="143.2" font-family="Liberation Serif, Times New Roman, serif" font-size="60" letter-spacing="1.2">WAl<tspan font-size="37" letter-spacing="0" dx="0" dy="22">12</tspan></text>
<text class="nk" x="2007" y="145.6" font-family="Liberation Serif, Times New Roman, serif" font-size="62" letter-spacing="0.8">WAl<tspan font-size="39" letter-spacing="0" dx="1.2" dy="21">5</tspan></text>
</svg>
</body></html>
